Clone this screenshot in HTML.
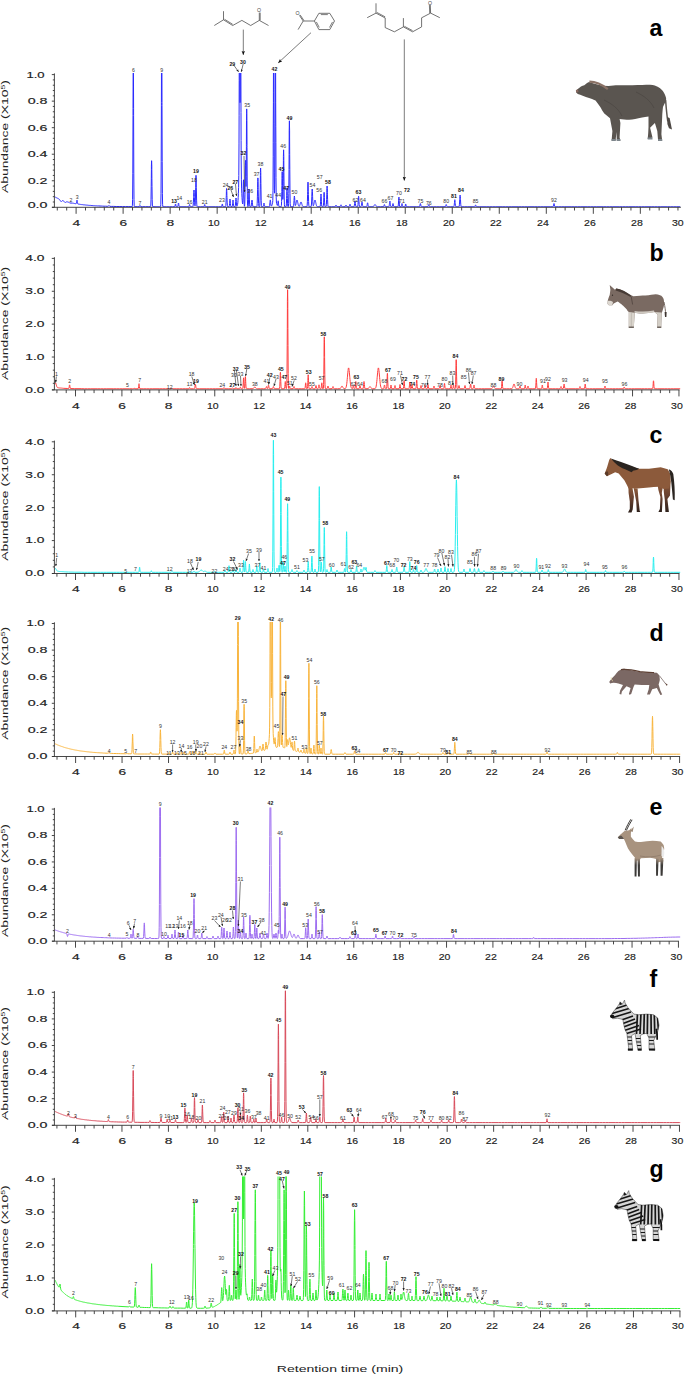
<!DOCTYPE html><html><head><meta charset="utf-8"><style>html,body{margin:0;padding:0;background:#fff;overflow:hidden;}svg{display:block;}text{font-family:'Liberation Sans',sans-serif}.ax{stroke:#222;stroke-width:0.15px;}</style></head><body>
<svg width="685" height="1374" viewBox="0 0 685 1374">
<rect width="685" height="1374" fill="#fff"/>
<defs><marker id="ah" viewBox="0 0 6 6" refX="5.6" refY="3" markerUnits="userSpaceOnUse" markerWidth="4.2" markerHeight="4.2" orient="auto"><path d="M0,0.6 L6,3 L0,5.4 L1.2,3 z" fill="#111"/></marker><marker id="ahs" viewBox="0 0 6 6" refX="5.6" refY="3" markerUnits="userSpaceOnUse" markerWidth="2.6" markerHeight="2.6" orient="auto"><path d="M0,0.5 L6,3 L0,5.5 z" fill="#222"/></marker></defs>
<clipPath id="cp0"><rect x="54.8" y="73.00" width="627" height="134.30"/></clipPath>
<path d="M55.0,197.0L55.2,197.1L55.4,197.2L55.6,197.3L55.8,197.4L56.0,197.5L56.2,197.6L56.4,197.7L56.6,197.8L56.8,197.9L57.0,198.0L57.2,198.1L57.4,198.2L57.6,198.3L57.8,198.4L58.0,198.5L58.2,198.6L58.4,198.7L58.6,198.8L58.8,198.9L59.0,199.0L59.2,199.2L59.4,199.4L59.6,199.6L59.8,199.9L60.0,200.2L60.2,200.5L60.4,200.8L60.6,201.1L60.8,201.4L61.0,201.5L61.2,201.5L61.4,201.5L61.6,201.3L61.8,201.1L62.0,200.9L62.2,200.8L62.4,200.7L62.6,200.6L63.0,200.7L63.2,200.7L63.4,200.9L63.6,201.0L63.8,201.2L64.0,201.5L64.2,201.7L64.4,202.0L64.6,202.2L64.8,202.4L65.0,202.5L65.2,202.5L65.4,202.5L65.6,202.4L65.8,202.2L66.0,202.1L66.2,202.0L66.4,201.9L66.8,201.8L67.4,201.9L67.6,201.9L67.8,202.0L68.0,202.1L68.2,202.1L68.4,202.2L68.6,202.3L68.8,202.4L69.0,202.5L69.2,202.6L69.4,202.7L69.6,202.9L69.8,202.9L70.0,203.0L72.4,203.1L72.8,203.2L73.2,203.2L73.6,203.3L74.0,203.4L74.4,203.5L74.8,203.5L75.2,203.6L75.6,203.7L76.0,203.7L76.2,203.6L76.4,203.2L76.6,202.2L76.7,201.6L76.8,200.8L76.8,200.5L77.0,200.1L77.2,200.6L77.2,200.8L77.3,201.6L77.4,202.3L77.6,203.4L77.8,203.9L78.0,204.0L78.4,204.1L78.8,204.2L79.2,204.2L79.6,204.3L80.0,204.4L80.4,204.4L80.8,204.5L81.2,204.5L81.6,204.6L82.2,204.6L82.8,204.7L83.4,204.8L84.0,204.8L84.6,204.9L85.2,205.0L85.8,205.0L86.4,205.1L87.0,205.1L87.6,205.2L88.2,205.3L88.8,205.3L89.6,205.4L90.4,205.4L91.2,205.5L92.0,205.5L92.8,205.6L93.6,205.7L94.6,205.7L95.6,205.8L96.6,205.8L97.6,205.9L98.8,205.9L100.0,206.0L101.2,206.0L102.6,206.1L104.0,206.2L105.6,206.2L107.2,206.3L108.0,206.3L108.2,206.2L108.4,206.1L108.6,205.8L108.6,205.8L108.8,205.6L108.8,205.6L109.0,205.5L109.2,205.6L109.2,205.6L109.4,205.8L109.4,205.9L109.6,206.1L109.8,206.3L110.0,206.3L111.2,206.4L113.6,206.4L116.2,206.5L119.2,206.5L122.4,206.6L125.6,206.6L128.8,206.6L132.0,206.7L132.2,206.6L132.4,205.7L132.6,199.5L132.8,173.8L133.0,115.4L133.0,108.4L133.2,63.6L133.2,54.6L133.3,44.6L133.4,54.6L133.4,63.6L133.6,108.4L133.6,115.4L133.8,173.8L134.0,199.6L134.2,205.8L134.4,206.6L134.6,206.7L137.8,206.7L139.2,206.7L139.4,206.5L139.6,206.2L139.7,206.0L139.8,205.7L139.8,205.6L140.0,205.5L140.2,205.6L140.2,205.7L140.3,206.0L140.4,206.2L140.6,206.5L140.8,206.7L142.4,206.7L145.6,206.7L148.8,206.7L150.4,206.7L150.6,206.5L150.8,205.1L151.0,199.7L151.2,186.7L151.3,178.8L151.4,169.4L151.4,166.1L151.6,160.7L151.8,166.1L151.8,169.4L151.9,178.8L152.0,186.7L152.2,199.7L152.4,205.1L152.6,206.5L152.8,206.7L156.0,206.8L159.2,206.8L160.4,206.7L160.6,206.5L160.8,204.3L161.0,193.7L161.2,161.4L161.4,105.6L161.4,102.4L161.5,59.6L161.6,48.5L161.7,40.0L161.8,48.5L161.9,59.6L162.0,102.4L162.0,105.6L162.2,161.4L162.4,193.7L162.6,204.3L162.8,206.5L163.0,206.8L166.2,206.8L169.4,206.8L172.6,206.8L174.6,206.7L174.8,206.6L175.0,206.0L175.2,205.1L175.2,205.0L175.3,204.3L175.4,204.1L175.5,204.0L175.6,204.1L175.7,204.3L175.8,205.0L175.8,205.1L176.0,206.0L176.2,206.6L176.4,206.7L177.6,206.7L177.8,206.5L178.0,205.8L178.2,204.5L178.2,204.4L178.3,203.4L178.4,203.2L178.5,203.0L178.6,203.2L178.7,203.4L178.8,204.4L178.8,204.5L179.0,205.8L179.2,206.5L179.4,206.7L179.8,206.8L183.0,206.8L186.2,206.8L188.6,206.8L188.8,206.7L189.0,206.4L189.2,205.8L189.3,205.4L189.4,204.9L189.4,204.8L189.6,204.5L189.8,204.8L189.8,204.9L189.9,205.4L190.0,205.8L190.2,206.4L190.4,206.7L190.6,206.8L192.6,206.8L192.8,206.7L193.0,206.3L193.2,205.1L193.4,202.2L193.6,197.4L193.6,196.6L193.8,192.3L193.8,192.0L194.0,190.0L194.2,192.0L194.2,192.3L194.4,196.6L194.4,197.4L194.6,202.2L194.8,205.1L195.0,205.9L195.2,204.7L195.4,200.1L195.6,191.0L195.7,187.7L195.8,180.3L195.8,179.0L196.0,175.3L196.2,179.0L196.2,180.3L196.3,187.7L196.4,191.0L196.6,200.1L196.8,204.8L197.0,206.4L197.2,206.7L197.4,206.8L200.6,206.8L203.8,206.8L204.0,206.6L204.2,206.2L204.4,205.4L204.4,205.4L204.5,204.8L204.6,204.6L204.7,204.5L204.8,204.6L204.9,204.8L205.0,205.4L205.0,205.4L205.2,206.2L205.4,206.6L205.6,206.8L208.8,206.8L212.0,206.8L215.2,206.8L218.4,206.8L221.4,206.8L221.6,206.6L221.8,206.0L222.0,205.1L222.0,205.0L222.1,204.3L222.2,204.1L222.3,204.0L222.4,204.1L222.5,204.3L222.6,205.0L222.6,205.1L222.8,206.0L223.0,206.6L223.2,206.8L225.4,206.8L225.6,206.6L225.8,205.6L226.0,202.9L226.2,197.6L226.3,195.7L226.4,191.4L226.4,190.7L226.6,188.5L226.8,190.6L226.8,191.4L226.9,195.7L227.0,197.6L227.2,202.9L227.4,205.6L227.6,206.6L227.8,206.8L229.0,206.8L229.2,206.5L229.4,205.6L229.6,203.4L229.7,202.1L229.8,200.5L229.8,199.9L230.0,199.0L230.2,199.9L230.2,200.5L230.3,202.1L230.4,203.4L230.6,205.6L230.8,206.5L231.0,206.8L232.0,206.8L232.2,206.6L232.4,205.8L232.6,203.8L232.7,202.7L232.8,201.3L232.8,200.8L233.0,200.0L233.2,200.8L233.2,201.3L233.3,202.7L233.4,203.8L233.6,205.8L233.8,206.6L234.0,206.8L235.0,206.8L235.2,206.5L235.4,205.4L235.6,203.0L235.7,201.5L235.8,199.6L235.8,199.0L236.0,198.0L236.2,199.0L236.2,199.6L236.3,201.4L236.4,202.9L236.6,205.3L236.8,206.2L237.0,206.3L237.2,205.9L237.4,205.3L237.6,204.3L237.8,202.8L238.0,200.5L238.2,197.5L238.4,193.3L238.6,187.5L238.8,175.5L239.0,143.9L239.1,115.8L239.2,80.6L239.2,73.1L239.4,25.2L239.4,15.2L239.5,2.5L239.6,9.3L239.6,16.9L239.8,55.6L239.8,61.5L240.0,102.7L240.1,102.4L240.2,86.9L240.3,54.1L240.4,30.1L240.5,14.7L240.6,-0.2L240.7,22.1L240.8,40.8L240.9,69.8L241.0,112.4L241.1,140.5L241.2,160.0L241.4,179.8L241.6,188.1L241.8,193.4L242.0,197.5L242.2,200.5L242.4,202.7L242.6,203.9L242.8,203.2L243.0,198.7L243.2,190.1L243.2,189.6L243.3,182.9L243.4,181.1L243.5,179.8L243.6,181.2L243.7,183.0L243.8,190.0L243.8,190.5L244.0,199.5L244.2,204.7L244.4,206.3L244.6,206.1L244.8,203.2L245.0,194.2L245.2,178.7L245.2,177.8L245.3,165.9L245.4,162.8L245.5,160.4L245.6,162.7L245.7,165.6L245.8,176.4L245.8,177.1L246.0,186.5L246.2,176.5L246.4,146.7L246.4,144.8L246.5,120.2L246.6,113.8L246.7,108.9L246.8,113.9L246.9,120.4L247.0,145.5L247.0,147.4L247.2,180.1L247.4,199.2L247.6,205.4L247.8,206.6L248.0,206.7L248.2,206.2L248.4,204.1L248.6,199.1L248.7,196.0L248.8,192.3L248.8,191.1L249.0,189.0L249.2,191.1L249.2,192.3L249.3,196.0L249.4,199.1L249.6,204.1L249.8,206.2L250.0,206.7L250.2,206.8L250.8,206.8L251.0,206.6L251.2,206.1L251.4,204.9L251.6,203.0L251.6,202.7L251.8,200.9L251.8,200.8L252.0,200.0L252.2,200.8L252.2,200.9L252.4,202.7L252.4,203.0L252.6,204.9L252.8,206.1L253.0,206.6L253.2,206.8L256.4,206.8L256.6,206.8L256.8,206.6L257.0,205.9L257.2,203.3L257.4,196.9L257.6,189.3L257.6,187.2L257.7,181.3L257.8,179.1L257.9,177.9L258.0,179.1L258.1,181.3L258.2,187.2L258.2,189.3L258.4,196.9L258.6,203.3L258.8,205.9L259.0,206.6L259.2,206.8L259.4,206.8L259.6,206.6L259.8,205.4L260.0,200.8L260.2,189.9L260.3,183.3L260.4,175.3L260.4,172.6L260.6,168.0L260.8,172.6L260.8,175.3L260.9,183.3L261.0,189.9L261.2,200.8L261.4,205.4L261.6,206.6L261.8,206.8L262.8,206.8L263.0,206.7L263.2,206.4L263.4,205.8L263.6,204.7L263.6,204.5L263.8,203.5L263.8,203.4L264.0,203.0L264.2,203.4L264.2,203.5L264.4,204.5L264.4,204.7L264.6,205.8L264.8,206.4L265.0,206.7L265.2,206.8L268.4,206.8L269.0,206.8L269.2,206.7L269.4,206.4L269.6,205.6L269.8,204.0L269.9,202.7L270.0,201.9L270.1,200.8L270.2,200.2L270.3,199.9L270.4,200.2L270.5,200.7L270.6,201.8L270.7,202.5L270.8,203.9L271.0,205.4L271.2,206.0L271.4,206.1L271.6,205.9L271.8,205.5L272.0,205.1L272.2,204.5L272.4,203.8L272.6,202.8L272.8,200.4L273.0,190.3L273.2,156.3L273.2,142.4L273.4,102.7L273.4,92.2L273.5,58.1L273.6,41.5L273.6,38.7L273.8,56.7L273.8,59.2L273.9,89.8L273.9,100.0L274.0,123.3L274.2,172.3L274.4,190.5L274.6,193.2L274.6,192.9L274.8,184.5L275.0,152.0L275.2,100.0L275.2,89.8L275.3,56.7L275.4,41.0L275.4,38.7L275.6,58.1L275.6,60.7L275.7,102.7L275.8,126.7L275.9,142.4L276.0,177.4L276.2,197.1L276.4,202.0L276.6,203.4L276.8,204.2L277.0,204.8L277.2,205.3L277.4,205.5L277.6,205.2L277.8,203.8L277.9,202.8L278.0,201.7L278.0,201.4L278.2,200.8L278.4,201.5L278.4,201.9L278.5,203.2L278.6,204.2L278.8,205.9L279.0,206.6L279.2,206.7L280.2,206.8L281.0,206.8L281.2,206.6L281.4,205.5L281.6,201.4L281.8,191.5L281.9,185.5L282.0,178.3L282.0,175.8L282.2,171.7L282.4,175.8L282.4,178.3L282.5,185.4L282.6,191.2L282.8,199.4L283.0,196.8L283.2,181.8L283.3,172.2L283.4,160.5L283.4,156.5L283.6,149.8L283.8,156.5L283.8,160.5L283.9,172.2L284.0,182.0L284.2,198.0L284.4,204.8L284.6,206.5L284.8,206.8L285.8,206.8L286.0,206.7L286.2,206.1L286.4,203.9L286.6,198.5L286.7,195.3L286.8,191.4L286.8,190.0L287.0,187.8L287.2,190.0L287.2,191.4L287.3,195.3L287.4,198.5L287.6,203.9L287.8,206.1L288.0,206.7L288.2,206.7L288.4,206.3L288.6,203.7L288.8,193.6L289.0,169.4L289.1,154.6L289.2,137.0L289.2,130.9L289.4,120.8L289.6,130.9L289.6,137.0L289.7,154.6L289.8,169.4L290.0,193.6L290.2,203.7L290.4,206.3L290.6,206.8L293.0,206.8L293.2,206.7L293.4,206.5L293.6,205.7L293.8,203.9L294.0,200.7L294.0,200.2L294.2,197.4L294.2,197.3L294.4,196.0L294.6,197.2L294.6,197.4L294.8,200.1L294.8,200.6L295.0,203.6L295.2,205.2L295.4,205.6L295.6,205.3L295.8,204.6L296.0,203.7L296.2,202.7L296.4,201.7L296.6,200.8L296.8,200.2L297.0,200.0L297.2,200.2L297.4,200.8L297.6,201.7L297.8,202.7L298.0,203.7L298.2,204.6L298.4,205.3L298.6,205.8L298.8,206.1L299.0,206.3L299.2,206.3L299.4,206.1L299.6,205.7L299.8,205.2L300.0,204.6L300.2,203.9L300.4,203.2L300.6,202.6L300.8,202.1L301.0,202.0L301.2,202.1L301.4,202.6L301.6,203.2L301.8,203.9L302.0,204.6L302.2,205.2L302.4,205.8L302.6,206.2L302.8,206.4L303.0,206.6L303.2,206.7L303.4,206.7L304.2,206.8L306.8,206.7L307.0,206.5L307.2,205.2L307.4,201.5L307.6,194.4L307.7,191.8L307.8,186.0L307.8,185.0L308.0,182.1L308.2,185.0L308.2,186.0L308.3,191.8L308.4,194.4L308.6,201.5L308.8,205.2L309.0,206.5L309.2,206.7L309.6,206.8L310.8,206.8L311.0,206.7L311.2,206.3L311.4,205.0L311.6,202.0L311.8,196.8L311.8,196.0L312.0,191.4L312.0,191.1L312.2,189.0L312.4,191.1L312.4,191.4L312.6,195.9L312.6,196.7L312.8,201.8L313.0,204.7L313.2,205.8L313.4,205.8L313.6,205.3L313.8,204.6L314.0,203.7L314.2,202.7L314.4,201.7L314.6,200.8L314.8,200.2L315.0,200.0L315.2,200.2L315.4,200.8L315.6,201.7L315.8,202.7L316.0,203.7L316.2,204.6L316.4,205.3L316.6,205.9L316.8,206.3L317.0,206.5L317.2,206.6L317.4,206.7L317.8,206.8L319.8,206.8L320.0,206.7L320.2,206.3L320.4,204.8L320.6,201.2L320.7,199.0L320.8,196.4L320.8,195.5L321.0,194.0L321.2,195.5L321.2,196.4L321.3,199.0L321.4,201.2L321.6,204.8L321.8,206.3L322.0,206.7L322.2,206.8L323.0,206.8L323.2,206.6L323.4,205.7L323.6,202.9L323.8,198.0L323.8,197.7L323.9,194.0L324.0,193.0L324.1,192.3L324.2,193.0L324.3,194.0L324.4,197.7L324.4,198.0L324.6,202.9L324.8,205.7L325.0,206.6L325.2,206.8L325.8,206.8L326.0,206.7L326.2,206.2L326.4,204.3L326.6,199.7L326.8,194.2L326.8,192.7L326.9,188.4L327.0,186.9L327.1,186.0L327.2,186.9L327.3,188.5L327.4,192.7L327.4,194.2L327.6,199.7L327.8,204.3L328.0,206.2L328.2,206.7L328.4,206.8L331.6,206.8L334.8,206.8L335.0,206.8L335.2,206.6L335.4,206.3L335.6,205.8L335.6,205.7L335.8,205.2L335.8,205.2L336.0,205.0L336.2,205.2L336.2,205.2L336.4,205.7L336.4,205.8L336.6,206.3L336.8,206.6L337.0,206.8L340.0,206.7L340.2,206.6L340.4,206.3L340.6,205.7L340.6,205.6L340.8,205.1L340.8,205.0L341.0,204.8L341.2,205.0L341.2,205.1L341.4,205.6L341.4,205.7L341.6,206.3L341.8,206.6L342.0,206.7L342.4,206.8L345.0,206.8L345.2,206.6L345.4,206.3L345.6,205.8L345.6,205.7L345.8,205.2L345.8,205.2L346.0,205.0L346.2,205.2L346.2,205.2L346.4,205.7L346.4,205.8L346.6,206.3L346.8,206.6L347.0,206.8L348.8,206.8L349.0,206.7L349.2,206.5L349.4,206.1L349.6,205.3L349.6,205.2L349.8,204.5L349.8,204.5L350.0,204.2L350.2,204.5L350.2,204.5L350.4,205.2L350.4,205.3L350.6,206.1L350.8,206.5L351.0,206.7L351.2,206.8L353.8,206.8L354.0,206.6L354.2,206.2L354.4,205.2L354.6,203.5L354.6,203.3L354.8,201.8L354.8,201.7L355.0,201.0L355.2,201.7L355.2,201.8L355.4,203.3L355.4,203.5L355.6,205.2L355.8,206.2L356.0,206.6L356.2,206.8L357.4,206.8L357.6,206.7L357.8,206.1L358.0,204.6L358.2,201.5L358.3,200.4L358.4,198.0L358.4,197.5L358.6,196.3L358.8,197.5L358.8,198.0L358.9,200.4L359.0,201.5L359.2,204.6L359.4,206.1L359.6,206.7L359.8,206.8L360.8,206.8L361.0,206.7L361.2,206.3L361.4,205.5L361.6,204.1L361.6,203.9L361.8,202.6L361.8,202.6L362.0,202.0L362.2,202.6L362.2,202.6L362.4,203.9L362.4,204.1L362.6,205.5L362.8,206.3L363.0,206.7L363.2,206.8L366.4,206.8L366.6,206.7L366.8,206.4L367.0,205.7L367.2,204.6L367.2,204.4L367.4,203.3L367.4,203.3L367.6,202.8L367.8,203.3L367.8,203.3L368.0,204.4L368.0,204.6L368.2,205.7L368.4,206.4L368.6,206.7L368.8,206.8L372.0,206.8L372.8,206.7L373.0,206.7L373.2,206.6L373.4,206.5L373.6,206.3L373.8,206.1L374.0,205.7L374.2,205.4L374.4,205.1L374.6,204.8L374.8,204.6L375.0,204.5L375.2,204.6L375.4,204.8L375.6,205.1L375.8,205.4L376.0,205.7L376.2,206.1L376.4,206.3L376.6,206.5L376.8,206.6L377.0,206.7L377.4,206.8L380.6,206.8L383.4,206.7L383.6,206.6L383.8,206.2L384.0,205.5L384.0,205.4L384.2,204.8L384.2,204.8L384.4,204.5L384.6,204.8L384.6,204.8L384.8,205.4L384.8,205.5L385.0,206.2L385.2,206.6L385.4,206.7L385.8,206.8L388.6,206.8L388.8,206.7L389.0,206.5L389.2,205.8L389.4,204.4L389.5,203.3L389.6,202.6L389.7,201.7L389.8,201.2L389.9,201.0L390.0,201.2L390.1,201.7L390.2,202.6L390.3,203.3L390.4,204.4L390.6,205.8L390.8,206.5L391.0,206.7L391.2,206.8L391.8,206.8L392.0,206.7L392.2,206.5L392.4,205.9L392.6,204.9L392.6,204.8L392.8,203.9L392.8,203.9L393.0,203.5L393.2,203.9L393.2,203.9L393.4,204.8L393.4,204.9L393.6,205.9L393.8,206.5L394.0,206.7L394.2,206.8L397.4,206.8L397.8,206.8L398.0,206.7L398.2,206.0L398.4,204.1L398.6,200.9L398.6,200.7L398.7,198.2L398.8,197.5L398.9,197.0L399.0,197.5L399.1,198.2L399.2,200.7L399.2,200.9L399.4,204.1L399.6,206.0L399.8,206.7L400.0,206.8L401.0,206.8L401.2,206.7L401.4,206.3L401.6,205.4L401.7,204.8L401.8,204.1L401.8,203.9L402.0,203.5L402.2,203.9L402.2,204.1L402.3,204.8L402.4,205.4L402.6,206.3L402.8,206.7L403.0,206.8L404.8,206.8L405.0,206.6L405.2,206.0L405.4,205.1L405.4,205.0L405.5,204.3L405.6,204.1L405.7,204.0L405.8,204.1L405.9,204.3L406.0,205.0L406.0,205.1L406.2,206.0L406.4,206.6L406.6,206.8L409.8,206.8L413.0,206.8L416.2,206.8L419.2,206.8L419.4,206.7L419.6,206.5L419.8,205.9L420.0,204.9L420.0,204.8L420.2,203.9L420.2,203.9L420.4,203.5L420.6,203.9L420.6,203.9L420.8,204.8L420.8,204.9L421.0,205.9L421.2,206.5L421.4,206.7L421.6,206.8L424.8,206.8L427.8,206.7L428.0,206.6L428.2,206.2L428.4,205.5L428.4,205.4L428.6,204.8L428.6,204.8L428.8,204.5L429.0,204.8L429.0,204.8L429.2,205.4L429.2,205.5L429.4,206.2L429.6,206.6L429.8,206.7L430.2,206.8L433.4,206.8L436.6,206.8L439.8,206.8L443.0,206.8L445.2,206.7L445.4,206.6L445.6,206.2L445.8,205.5L445.8,205.4L446.0,204.8L446.0,204.8L446.2,204.5L446.4,204.8L446.4,204.8L446.6,205.4L446.6,205.5L446.8,206.2L447.0,206.6L447.2,206.7L447.6,206.8L450.8,206.8L453.6,206.8L453.8,206.7L454.0,206.3L454.2,205.3L454.4,203.2L454.5,202.5L454.6,200.8L454.6,200.5L454.8,199.7L455.0,200.5L455.0,200.8L455.1,202.5L455.2,203.2L455.4,205.3L455.6,206.3L455.8,206.7L456.0,206.8L458.8,206.8L459.0,206.7L459.2,206.2L459.4,204.8L459.6,202.0L459.7,199.6L459.8,198.3L459.9,196.4L460.0,195.4L460.1,195.0L460.2,195.4L460.3,196.4L460.4,198.3L460.5,199.6L460.6,202.0L460.8,204.8L461.0,206.2L461.2,206.7L461.4,206.8L464.6,206.8L467.8,206.8L471.0,206.8L474.2,206.8L474.6,206.8L474.8,206.6L475.0,206.3L475.2,205.8L475.2,205.7L475.4,205.2L475.4,205.2L475.6,205.0L475.8,205.2L475.8,205.2L476.0,205.7L476.0,205.8L476.2,206.3L476.4,206.6L476.6,206.8L479.8,206.8L483.0,206.8L486.2,206.8L489.4,206.8L492.6,206.8L495.8,206.8L499.0,206.8L502.2,206.8L505.4,206.8L508.6,206.8L511.8,206.8L515.0,206.8L518.2,206.8L521.4,206.8L524.6,206.8L527.8,206.8L531.0,206.8L534.2,206.8L537.4,206.8L540.6,206.8L543.8,206.8L547.0,206.8L550.2,206.8L552.8,206.8L553.0,206.7L553.2,206.5L553.4,205.9L553.6,204.9L553.6,204.8L553.8,203.9L553.8,203.9L554.0,203.5L554.2,203.9L554.2,203.9L554.4,204.8L554.4,204.9L554.6,205.9L554.8,206.5L555.0,206.7L555.2,206.8L558.4,206.8L561.6,206.8L564.8,206.8L568.0,206.8L571.2,206.8L574.4,206.8L577.6,206.8L580.8,206.8L584.0,206.8L587.2,206.8L590.4,206.8L593.6,206.8L596.8,206.8L600.0,206.8L603.2,206.8L606.4,206.8L609.6,206.8L612.8,206.8L616.0,206.8L619.2,206.8L622.4,206.8L625.6,206.8L628.8,206.8L632.0,206.8L635.2,206.8L638.4,206.8L641.6,206.8L644.8,206.8L648.0,206.8L651.2,206.8L654.4,206.8L657.6,206.8L660.8,206.8L664.0,206.8L667.2,206.8L670.4,206.8L673.6,206.8L676.8,206.8L680.0,206.8L680.2,206.8" fill="none" stroke="#2a2aff" stroke-width="1.00" stroke-linejoin="round" clip-path="url(#cp0)"/>
<g stroke="#333" stroke-width="0.9" fill="none">
<path d="M54.4,73.40 V207.30 M52,207.30 H680.90"/>
<path d="M51.8,207.30H54.4M52.8,201.99H54.4M52.8,196.68H54.4M52.8,191.38H54.4M52.8,186.07H54.4M51.8,180.76H54.4M52.8,175.45H54.4M52.8,170.14H54.4M52.8,164.84H54.4M52.8,159.53H54.4M51.8,154.22H54.4M52.8,148.91H54.4M52.8,143.60H54.4M52.8,138.30H54.4M52.8,132.99H54.4M51.8,127.68H54.4M52.8,122.37H54.4M52.8,117.06H54.4M52.8,111.76H54.4M52.8,106.45H54.4M51.8,101.14H54.4M52.8,95.83H54.4M52.8,90.52H54.4M52.8,85.22H54.4M52.8,79.91H54.4M51.8,74.60H54.4"/>
<path d="M57.29,207.30V210.50M66.70,207.30V210.50M76.10,207.30V213.80M85.50,207.30V210.50M94.91,207.30V210.50M104.31,207.30V210.50M113.72,207.30V210.50M123.12,207.30V213.80M132.52,207.30V210.50M141.93,207.30V210.50M151.33,207.30V210.50M160.74,207.30V210.50M170.14,207.30V213.80M179.54,207.30V210.50M188.95,207.30V210.50M198.35,207.30V210.50M207.76,207.30V210.50M217.16,207.30V213.80M226.56,207.30V210.50M235.97,207.30V210.50M245.37,207.30V210.50M254.78,207.30V210.50M264.18,207.30V213.80M273.58,207.30V210.50M282.99,207.30V210.50M292.39,207.30V210.50M301.80,207.30V210.50M311.20,207.30V213.80M320.60,207.30V210.50M330.01,207.30V210.50M339.41,207.30V210.50M348.82,207.30V210.50M358.22,207.30V213.80M367.62,207.30V210.50M377.03,207.30V210.50M386.43,207.30V210.50M395.84,207.30V210.50M405.24,207.30V213.80M414.64,207.30V210.50M424.05,207.30V210.50M433.45,207.30V210.50M442.86,207.30V210.50M452.26,207.30V213.80M461.66,207.30V210.50M471.07,207.30V210.50M480.47,207.30V210.50M489.88,207.30V210.50M499.28,207.30V213.80M508.68,207.30V210.50M518.09,207.30V210.50M527.49,207.30V210.50M536.90,207.30V210.50M546.30,207.30V213.80M555.70,207.30V210.50M565.11,207.30V210.50M574.51,207.30V210.50M583.92,207.30V210.50M593.32,207.30V213.80M602.72,207.30V210.50M612.13,207.30V210.50M621.53,207.30V210.50M630.94,207.30V210.50M640.34,207.30V213.80M649.74,207.30V210.50M659.15,207.30V210.50M668.55,207.30V210.50M677.96,207.30V210.50"/>
</g>
<text x="27.70" y="207.70" font-size="8.20" text-anchor="start" font-weight="normal" fill="#222" textLength="19.80" lengthAdjust="spacingAndGlyphs" class="ax">0.0</text>
<text x="27.70" y="183.66" font-size="8.20" text-anchor="start" font-weight="normal" fill="#222" textLength="19.80" lengthAdjust="spacingAndGlyphs" class="ax">0.2</text>
<text x="27.70" y="157.12" font-size="8.20" text-anchor="start" font-weight="normal" fill="#222" textLength="19.80" lengthAdjust="spacingAndGlyphs" class="ax">0.4</text>
<text x="27.70" y="130.58" font-size="8.20" text-anchor="start" font-weight="normal" fill="#222" textLength="19.80" lengthAdjust="spacingAndGlyphs" class="ax">0.6</text>
<text x="27.70" y="104.04" font-size="8.20" text-anchor="start" font-weight="normal" fill="#222" textLength="19.80" lengthAdjust="spacingAndGlyphs" class="ax">0.8</text>
<text x="26.40" y="77.50" font-size="8.20" text-anchor="start" font-weight="normal" fill="#222" textLength="18.20" lengthAdjust="spacingAndGlyphs" class="ax">1.0</text>
<text x="72.55" y="225.70" font-size="8.80" text-anchor="start" font-weight="normal" fill="#222" textLength="7.70" lengthAdjust="spacingAndGlyphs" class="ax">4</text>
<text x="119.57" y="225.70" font-size="8.80" text-anchor="start" font-weight="normal" fill="#222" textLength="7.70" lengthAdjust="spacingAndGlyphs" class="ax">6</text>
<text x="166.59" y="225.70" font-size="8.80" text-anchor="start" font-weight="normal" fill="#222" textLength="7.70" lengthAdjust="spacingAndGlyphs" class="ax">8</text>
<text x="207.91" y="225.70" font-size="8.80" text-anchor="start" font-weight="normal" fill="#222" textLength="11.70" lengthAdjust="spacingAndGlyphs" class="ax">10</text>
<text x="254.93" y="225.70" font-size="8.80" text-anchor="start" font-weight="normal" fill="#222" textLength="11.70" lengthAdjust="spacingAndGlyphs" class="ax">12</text>
<text x="301.95" y="225.70" font-size="8.80" text-anchor="start" font-weight="normal" fill="#222" textLength="11.70" lengthAdjust="spacingAndGlyphs" class="ax">14</text>
<text x="348.97" y="225.70" font-size="8.80" text-anchor="start" font-weight="normal" fill="#222" textLength="11.70" lengthAdjust="spacingAndGlyphs" class="ax">16</text>
<text x="395.99" y="225.70" font-size="8.80" text-anchor="start" font-weight="normal" fill="#222" textLength="11.70" lengthAdjust="spacingAndGlyphs" class="ax">18</text>
<text x="443.01" y="225.70" font-size="8.80" text-anchor="start" font-weight="normal" fill="#222" textLength="11.70" lengthAdjust="spacingAndGlyphs" class="ax">20</text>
<text x="490.03" y="225.70" font-size="8.80" text-anchor="start" font-weight="normal" fill="#222" textLength="11.70" lengthAdjust="spacingAndGlyphs" class="ax">22</text>
<text x="537.05" y="225.70" font-size="8.80" text-anchor="start" font-weight="normal" fill="#222" textLength="11.70" lengthAdjust="spacingAndGlyphs" class="ax">24</text>
<text x="584.07" y="225.70" font-size="8.80" text-anchor="start" font-weight="normal" fill="#222" textLength="11.70" lengthAdjust="spacingAndGlyphs" class="ax">26</text>
<text x="631.09" y="225.70" font-size="8.80" text-anchor="start" font-weight="normal" fill="#222" textLength="11.70" lengthAdjust="spacingAndGlyphs" class="ax">28</text>
<text x="671.95" y="225.70" font-size="8.80" text-anchor="start" font-weight="normal" fill="#222" textLength="11.70" lengthAdjust="spacingAndGlyphs" class="ax">30</text>
<text transform="translate(8.4,136.60) rotate(-90)" x="0" y="0" font-size="8.9" text-anchor="middle" fill="#222" textLength="113" lengthAdjust="spacingAndGlyphs">Abundance (X10<tspan font-size="5.5" dy="-3">5</tspan><tspan dy="3">)</tspan></text>
<text x="649.50" y="35.50" font-size="23.20" text-anchor="start" font-weight="bold" fill="#000">a</text>
<text x="71.00" y="202.00" font-size="5.20" text-anchor="middle" font-weight="normal" fill="#333">2</text>
<text x="77.20" y="198.50" font-size="5.20" text-anchor="middle" font-weight="normal" fill="#333">3</text>
<text x="109.00" y="203.50" font-size="5.20" text-anchor="middle" font-weight="normal" fill="#333">4</text>
<text x="133.40" y="71.80" font-size="5.20" text-anchor="middle" font-weight="normal" fill="#333">6</text>
<text x="139.90" y="204.90" font-size="5.20" text-anchor="middle" font-weight="normal" fill="#333">7</text>
<text x="161.70" y="71.80" font-size="5.20" text-anchor="middle" font-weight="normal" fill="#333">9</text>
<text x="174.10" y="203.20" font-size="5.20" text-anchor="middle" font-weight="bold" fill="#111">13</text>
<text x="179.30" y="199.70" font-size="5.20" text-anchor="middle" font-weight="normal" fill="#333">14</text>
<text x="189.60" y="203.50" font-size="5.20" text-anchor="middle" font-weight="normal" fill="#333">16</text>
<text x="194.00" y="181.60" font-size="5.20" text-anchor="middle" font-weight="normal" fill="#333">18</text>
<text x="196.00" y="173.40" font-size="5.20" text-anchor="middle" font-weight="bold" fill="#111">19</text>
<text x="204.70" y="203.50" font-size="5.20" text-anchor="middle" font-weight="normal" fill="#333">21</text>
<text x="221.90" y="202.30" font-size="5.20" text-anchor="middle" font-weight="normal" fill="#333">23</text>
<text x="225.60" y="187.20" font-size="5.20" text-anchor="middle" font-weight="normal" fill="#333">24</text>
<text x="230.30" y="190.40" font-size="5.20" text-anchor="middle" font-weight="bold" fill="#111">26</text>
<text x="235.30" y="183.90" font-size="5.20" text-anchor="middle" font-weight="bold" fill="#111">27</text>
<text x="232.30" y="65.60" font-size="5.20" text-anchor="middle" font-weight="bold" fill="#111">29</text>
<text x="243.00" y="63.90" font-size="5.20" text-anchor="middle" font-weight="bold" fill="#111">30</text>
<text x="243.50" y="154.90" font-size="5.20" text-anchor="middle" font-weight="bold" fill="#111">32</text>
<text x="247.20" y="107.10" font-size="5.20" text-anchor="middle" font-weight="normal" fill="#333">35</text>
<text x="250.20" y="192.70" font-size="5.20" text-anchor="middle" font-weight="normal" fill="#333">36</text>
<text x="256.60" y="176.00" font-size="5.20" text-anchor="middle" font-weight="normal" fill="#333">37</text>
<text x="260.40" y="166.10" font-size="5.20" text-anchor="middle" font-weight="normal" fill="#333">38</text>
<text x="269.60" y="197.60" font-size="5.20" text-anchor="middle" font-weight="normal" fill="#333">41</text>
<text x="274.50" y="71.10" font-size="5.20" text-anchor="middle" font-weight="bold" fill="#111">42</text>
<text x="278.20" y="196.60" font-size="5.20" text-anchor="middle" font-weight="normal" fill="#333">44</text>
<text x="281.50" y="171.10" font-size="5.20" text-anchor="middle" font-weight="bold" fill="#111">45</text>
<text x="283.20" y="148.00" font-size="5.20" text-anchor="middle" font-weight="normal" fill="#333">46</text>
<text x="286.20" y="189.70" font-size="5.20" text-anchor="middle" font-weight="bold" fill="#111">47</text>
<text x="289.40" y="119.70" font-size="5.20" text-anchor="middle" font-weight="bold" fill="#111">49</text>
<text x="294.40" y="193.90" font-size="5.20" text-anchor="middle" font-weight="normal" fill="#333">50</text>
<text x="312.50" y="187.20" font-size="5.20" text-anchor="middle" font-weight="normal" fill="#333">54</text>
<text x="319.20" y="191.70" font-size="5.20" text-anchor="middle" font-weight="normal" fill="#333">56</text>
<text x="319.70" y="178.50" font-size="5.20" text-anchor="middle" font-weight="normal" fill="#333">57</text>
<text x="327.90" y="183.90" font-size="5.20" text-anchor="middle" font-weight="bold" fill="#111">58</text>
<text x="355.50" y="201.60" font-size="5.20" text-anchor="middle" font-weight="normal" fill="#333">62</text>
<text x="358.40" y="193.70" font-size="5.20" text-anchor="middle" font-weight="bold" fill="#111">63</text>
<text x="363.00" y="201.60" font-size="5.20" text-anchor="middle" font-weight="normal" fill="#333">64</text>
<text x="384.40" y="203.40" font-size="5.20" text-anchor="middle" font-weight="normal" fill="#333">66</text>
<text x="390.40" y="199.50" font-size="5.20" text-anchor="middle" font-weight="normal" fill="#333">67</text>
<text x="398.90" y="195.00" font-size="5.20" text-anchor="middle" font-weight="normal" fill="#333">70</text>
<text x="402.00" y="203.40" font-size="5.20" text-anchor="middle" font-weight="normal" fill="#333">71</text>
<text x="407.00" y="191.60" font-size="5.20" text-anchor="middle" font-weight="bold" fill="#111">72</text>
<text x="420.40" y="202.90" font-size="5.20" text-anchor="middle" font-weight="normal" fill="#333">75</text>
<text x="428.80" y="204.70" font-size="5.20" text-anchor="middle" font-weight="normal" fill="#333">76</text>
<text x="446.20" y="202.90" font-size="5.20" text-anchor="middle" font-weight="normal" fill="#333">80</text>
<text x="454.00" y="198.20" font-size="5.20" text-anchor="middle" font-weight="bold" fill="#111">81</text>
<text x="460.90" y="191.60" font-size="5.20" text-anchor="middle" font-weight="bold" fill="#111">84</text>
<text x="475.60" y="202.90" font-size="5.20" text-anchor="middle" font-weight="normal" fill="#333">85</text>
<text x="554.00" y="202.30" font-size="5.20" text-anchor="middle" font-weight="normal" fill="#333">92</text>
<path d="M233.80,65.20 L238.60,71.80" stroke="#222" stroke-width="0.6" marker-end="url(#ahs)"/>
<path d="M243.20,64.00 L241.30,71.80" stroke="#222" stroke-width="0.6" marker-end="url(#ahs)"/>
<path d="M235.50,184.00 L236.50,196.00" stroke="#222" stroke-width="0.6" marker-end="url(#ahs)"/>
<path d="M231.00,190.00 L233.50,197.00" stroke="#222" stroke-width="0.6" marker-end="url(#ahs)"/>
<path d="M244.00,156.00 L244.60,192.00" stroke="#222" stroke-width="0.6" marker-end="url(#ahs)"/>
<g>
<path d="M575.9,90.6 L577.8,89 C580,87 582,86 584.3,85.3 C586,84 587.5,82.5 589.1,82 C595,84 602,86 608.4,86.1 C612,85.7 615,85.3 618,85.3 C624,85.3 628,85.3 632.4,85.3 C640,85 645,84.8 650.1,84.8 C654,85 656,86 658.1,86.9 C661,88.5 662.8,90.5 663.8,92.5 C665.2,95 666,97 666.2,98.9 C666,102 664,104 663,106.9 C662.6,110 662.3,113 662.2,116.6 L661.4,134.2 L662.2,140.7 L658.1,140.7 L657.3,131 L654.9,123 L650.1,127.8 L652.5,137.4 L647.7,139 C648,135 648.5,131 648.5,127 L648.5,116.6 C646,117 644,117.2 642.1,117.4 C637,118.5 633,119.5 629.2,119.8 C626,119.8 622,119.5 619.6,119 L620.4,123 L619.6,137.4 L620.4,140.7 L616.8,140.7 L616.4,132 L615.6,140.7 L611.6,140.7 L612.4,131 L610,118.2 C608,116.5 606,115 604.3,113.4 C602.5,111 601.5,109 600.3,106.9 C598.5,104.5 597,102.5 595.5,100.5 C593,99.5 591,98.8 589.1,98.1 C587,97.5 584.8,96.5 582.7,95.7 C581,95.2 579.3,94.6 577.8,94.1 L576.2,92.5 Z" fill="#5a5550"/>
<path d="M604,100 C612,104 618,108 622,116 M636,92 C644,96 650,100 654,108" stroke="#4d4844" stroke-width="0.8" fill="none"/>
<path d="M665.6,100 C666.2,108 666.8,115 667.8,121.4" stroke="#5a5550" stroke-width="1.5" fill="none"/>
<path d="M667.2,117 L669.6,118 L672,129.4 L669,128.2 L667.4,124 Z" fill="#4e4945"/>
<path d="M589.4,81.6 C596,81.6 602.5,84.8 607.8,89.2" stroke="#8b7266" stroke-width="2.2" fill="none"/>
<path d="M611.6,139 L615.6,139 L615.6,140.9 L611.6,140.9 Z M616.8,139 L620.4,139 L620.4,140.9 L616.8,140.9 Z M647.7,137.6 L652.5,137.4 L652.5,139.4 L647.7,139.4 Z M658.1,139 L662.2,139 L662.2,140.9 L658.1,140.9 Z" fill="#7d868c"/>
<path d="M575.9,90.6 L577.8,89 L578.6,92 L576.2,92.5 Z" fill="#8a6a60"/>
</g>
<clipPath id="cp1"><rect x="54.8" y="256.80" width="627" height="133.10"/></clipPath>
<path d="M55.0,384.2L55.2,383.6L55.2,383.5L55.4,383.1L55.6,383.0L55.8,383.2L56.0,383.6L56.0,383.7L56.2,384.5L56.3,384.9L56.4,385.2L56.6,386.0L56.8,386.6L57.0,387.0L57.2,387.3L57.4,387.5L57.6,387.6L57.8,387.7L58.2,387.8L58.6,387.8L59.2,387.9L59.8,388.0L60.4,388.0L61.0,388.1L61.6,388.1L62.4,388.2L63.2,388.3L64.0,388.3L65.0,388.4L66.0,388.4L67.2,388.5L68.6,388.5L68.8,388.4L69.0,388.0L69.2,387.0L69.3,386.3L69.4,385.6L69.4,385.3L69.6,384.9L69.8,385.3L69.8,385.6L69.9,386.3L70.0,387.0L70.2,388.0L70.4,388.5L70.6,388.6L72.0,388.6L74.8,388.7L78.0,388.7L81.2,388.7L84.4,388.8L87.6,388.8L90.8,388.8L94.0,388.8L97.2,388.8L100.4,388.8L103.6,388.8L106.8,388.8L110.0,388.8L113.2,388.8L116.4,388.8L119.6,388.8L122.8,388.8L126.0,388.8L129.2,388.8L132.4,388.8L133.2,388.8L133.4,388.7L133.6,388.6L133.8,388.3L133.8,388.3L133.9,388.1L134.0,388.0L134.2,388.0L134.3,388.1L134.4,388.3L134.4,388.3L134.6,388.6L134.8,388.7L135.0,388.8L138.0,388.8L138.2,388.6L138.4,388.0L138.6,386.6L138.7,385.7L138.8,384.7L138.8,384.3L139.0,383.7L139.2,384.3L139.2,384.7L139.3,385.7L139.4,386.6L139.6,388.0L139.8,388.6L140.0,388.8L143.2,388.8L146.4,388.8L149.6,388.8L152.8,388.8L156.0,388.8L159.2,388.8L162.4,388.8L165.6,388.8L168.8,388.8L171.0,388.8L171.2,388.7L171.4,388.6L171.6,388.4L171.6,388.3L171.8,388.1L171.8,388.1L172.0,388.0L172.2,388.1L172.2,388.1L172.4,388.3L172.4,388.4L172.6,388.6L172.8,388.7L173.0,388.8L176.2,388.8L179.4,388.8L182.6,388.8L185.8,388.8L188.8,388.8L189.0,388.6L189.2,388.2L189.3,388.0L189.4,387.7L189.4,387.7L189.6,387.5L189.8,387.7L189.8,387.7L189.9,388.0L190.0,388.2L190.2,388.6L190.4,388.8L193.6,388.8L194.2,388.8L194.4,388.7L194.6,388.4L194.8,387.6L195.0,386.3L195.0,386.1L195.2,384.9L195.2,384.8L195.4,384.3L195.6,384.8L195.6,384.9L195.8,386.1L195.8,386.3L196.0,387.6L196.2,388.4L196.4,388.7L196.6,388.8L199.8,388.8L203.0,388.8L206.2,388.8L209.4,388.8L212.6,388.8L215.8,388.8L219.0,388.8L222.2,388.8L223.0,388.8L223.2,388.7L223.4,388.4L223.6,388.1L223.6,388.0L223.8,387.7L223.8,387.7L224.0,387.5L224.2,387.7L224.2,387.7L224.4,388.0L224.4,388.1L224.6,388.4L224.8,388.7L225.0,388.8L228.2,388.8L231.4,388.8L231.6,388.8L231.8,388.7L232.0,388.5L232.2,388.2L232.2,388.2L232.3,387.9L232.4,387.9L232.5,387.8L232.6,387.9L232.7,387.9L232.8,388.2L232.8,388.2L233.0,388.5L233.2,388.7L233.4,388.8L235.2,388.8L235.4,388.6L235.6,388.2L235.7,388.0L235.8,387.7L235.8,387.7L236.0,387.5L236.2,387.7L236.2,387.7L236.3,388.0L236.4,388.2L236.6,388.6L236.8,388.8L239.4,388.8L239.6,388.7L239.8,388.5L240.0,388.0L240.1,387.7L240.2,387.3L240.2,387.2L240.4,387.0L240.6,387.2L240.6,387.3L240.7,387.7L240.8,388.0L241.0,388.5L241.2,388.7L241.4,388.8L242.4,388.8L242.6,388.7L242.8,388.4L243.0,387.1L243.2,384.0L243.3,382.1L243.4,379.9L243.4,379.1L243.6,377.8L243.8,379.1L243.8,379.9L243.9,382.1L244.0,384.0L244.2,387.1L244.4,388.3L244.6,388.3L244.8,386.9L245.0,383.5L245.1,381.4L245.2,378.9L245.2,378.0L245.4,376.6L245.6,378.0L245.6,378.9L245.7,381.4L245.8,383.5L246.0,386.9L246.2,388.4L246.4,388.7L246.6,388.8L249.8,388.8L252.8,388.7L253.0,388.7L253.2,388.6L253.4,388.4L253.6,388.2L253.8,388.0L254.0,387.7L254.2,387.4L254.4,387.2L254.6,387.1L254.8,387.0L255.0,387.1L255.2,387.2L255.4,387.4L255.6,387.7L255.8,388.0L256.0,388.2L256.2,388.4L256.4,388.6L256.6,388.7L256.8,388.7L257.2,388.8L260.4,388.8L263.6,388.8L265.4,388.8L265.6,388.7L265.8,388.4L266.0,387.9L266.1,387.4L266.2,387.1L266.3,386.8L266.4,386.6L266.5,386.5L266.6,386.6L266.7,386.8L266.8,387.1L266.9,387.4L267.0,387.9L267.2,388.4L267.4,388.6L267.6,388.6L267.8,388.2L268.0,387.3L268.1,386.6L268.2,386.2L268.3,385.6L268.4,385.3L268.5,385.2L268.6,385.3L268.7,385.6L268.8,386.2L268.9,386.6L269.0,387.3L269.2,388.2L269.4,388.6L269.6,388.8L272.4,388.7L272.6,388.6L272.8,388.2L273.0,387.5L273.0,387.4L273.2,386.8L273.2,386.8L273.4,386.5L273.6,386.8L273.6,386.8L273.8,387.4L273.8,387.5L274.0,388.2L274.2,388.6L274.4,388.7L274.8,388.8L278.0,388.8L279.2,388.8L279.4,388.7L279.6,388.2L279.8,386.3L280.0,381.6L280.1,378.8L280.2,375.4L280.2,374.2L280.4,372.3L280.6,374.2L280.6,375.4L280.7,378.8L280.8,381.6L281.0,386.3L281.2,388.2L281.4,388.7L281.6,388.8L284.2,388.8L284.4,388.7L284.6,388.2L284.8,386.8L285.0,384.4L285.0,384.2L285.1,382.4L285.2,381.9L285.3,381.5L285.4,381.9L285.5,382.4L285.6,384.2L285.6,384.4L285.8,386.8L286.0,388.2L286.2,388.7L286.4,388.7L286.6,388.3L286.8,385.3L287.0,373.6L287.2,345.7L287.3,328.7L287.4,308.3L287.4,301.3L287.6,289.7L287.8,301.3L287.8,308.3L287.9,328.7L288.0,345.7L288.2,373.6L288.4,385.3L288.6,388.2L288.8,388.6L289.0,388.4L289.2,387.6L289.3,387.1L289.4,386.5L289.4,386.3L289.6,386.0L289.8,386.3L289.8,386.5L289.9,387.1L290.0,387.6L290.2,388.4L290.4,388.7L290.6,388.8L293.0,388.7L293.2,388.6L293.4,388.2L293.6,387.5L293.6,387.4L293.8,386.8L293.8,386.8L294.0,386.5L294.2,386.8L294.2,386.8L294.4,387.4L294.4,387.5L294.6,388.2L294.8,388.6L295.0,388.7L295.4,388.8L298.6,388.8L301.8,388.8L304.6,388.8L304.8,388.7L305.0,388.3L305.2,387.2L305.4,385.2L305.4,385.0L305.5,383.5L305.6,383.1L305.7,382.8L305.8,383.1L305.9,383.5L306.0,385.0L306.0,385.2L306.2,387.2L306.4,388.3L306.6,388.7L306.8,388.8L307.0,388.8L307.2,388.7L307.4,388.3L307.6,386.6L307.8,382.7L307.9,380.3L308.0,377.4L308.0,376.4L308.2,374.8L308.4,376.4L308.4,377.4L308.5,380.3L308.6,382.7L308.8,386.6L309.0,388.3L309.2,388.7L309.4,388.8L311.0,388.7L311.2,388.6L311.4,388.2L311.6,387.5L311.6,387.4L311.8,386.8L311.8,386.8L312.0,386.5L312.2,386.8L312.2,386.8L312.4,387.4L312.4,387.5L312.6,388.2L312.8,388.6L313.0,388.7L313.4,388.8L314.8,388.8L315.0,388.7L315.2,388.5L315.4,387.9L315.6,386.9L315.6,386.8L315.8,385.9L315.8,385.9L316.0,385.5L316.2,385.9L316.2,385.9L316.4,386.8L316.4,386.9L316.6,387.9L316.8,388.5L317.0,388.7L317.2,388.8L317.8,388.8L318.0,388.7L318.2,388.4L318.4,387.7L318.6,386.6L318.6,386.4L318.8,385.3L318.8,385.3L319.0,384.8L319.2,385.3L319.2,385.3L319.4,386.4L319.4,386.6L319.6,387.7L319.8,388.4L320.0,388.7L320.2,388.8L320.8,388.8L321.0,388.6L321.2,387.9L321.4,386.2L321.5,385.2L321.6,383.9L321.6,383.5L321.8,382.8L322.0,383.5L322.0,383.9L322.1,385.2L322.2,386.2L322.4,387.9L322.6,388.6L322.8,388.8L323.0,388.8L323.2,388.7L323.4,388.0L323.6,384.7L323.8,374.6L324.0,357.3L324.0,356.2L324.1,342.9L324.2,339.4L324.3,336.8L324.4,339.4L324.5,342.9L324.6,356.2L324.6,357.3L324.8,374.6L325.0,384.7L325.2,388.0L325.4,388.7L325.6,388.8L326.8,388.8L327.0,388.7L327.2,388.5L327.4,388.0L327.6,387.2L327.6,387.1L327.8,386.4L327.8,386.3L328.0,386.0L328.2,386.3L328.2,386.4L328.4,387.1L328.4,387.2L328.6,388.0L328.8,388.5L329.0,388.7L329.2,388.8L332.0,388.7L332.2,388.6L332.4,388.2L332.6,387.5L332.6,387.4L332.8,386.8L332.8,386.8L333.0,386.5L333.2,386.8L333.2,386.8L333.4,387.4L333.4,387.5L333.6,388.2L333.8,388.6L334.0,388.7L334.4,388.8L337.6,388.8L339.8,388.7L340.0,388.7L340.2,388.6L340.4,388.4L340.6,388.2L340.8,387.9L341.0,387.5L341.2,387.1L341.4,386.7L341.6,386.3L341.8,386.1L342.0,386.0L342.2,386.1L342.4,386.3L342.6,386.7L342.8,387.1L343.0,387.5L343.2,387.9L343.4,388.2L343.6,388.4L343.8,388.6L344.0,388.7L344.2,388.7L345.0,388.7L345.2,388.6L345.4,388.5L345.6,388.3L345.8,388.0L346.0,387.5L346.2,386.9L346.4,386.0L346.6,384.8L346.8,383.3L347.0,381.5L347.2,379.5L347.4,377.3L347.5,376.1L347.6,375.0L347.8,372.8L348.0,370.8L348.1,370.4L348.2,369.2L348.4,368.2L348.6,367.9L348.8,368.2L349.0,369.2L349.1,370.4L349.2,370.8L349.4,372.8L349.6,375.0L349.7,376.1L349.8,377.3L350.0,379.5L350.2,381.5L350.4,383.3L350.6,384.8L350.8,386.0L351.0,386.9L351.2,387.5L351.4,388.0L351.6,388.3L351.8,388.5L352.0,388.6L352.2,388.7L352.4,388.6L352.6,388.2L352.8,387.4L352.9,386.8L353.0,386.4L353.1,385.9L353.2,385.6L353.3,385.5L353.4,385.6L353.5,385.9L353.6,386.4L353.7,386.8L353.8,387.5L354.0,388.2L354.2,388.6L354.4,388.8L354.8,388.8L355.0,388.5L355.2,387.7L355.4,385.6L355.5,384.4L355.6,382.9L355.6,382.4L355.8,381.5L356.0,382.4L356.0,382.9L356.1,384.4L356.2,385.6L356.4,387.7L356.6,388.5L356.8,388.8L358.8,388.8L359.0,388.7L359.2,388.5L359.4,387.9L359.6,386.9L359.6,386.8L359.8,385.9L359.8,385.9L360.0,385.5L360.2,385.9L360.2,385.9L360.4,386.8L360.4,386.9L360.6,387.9L360.8,388.5L361.0,388.7L361.2,388.8L362.8,388.8L363.0,388.6L363.2,388.1L363.4,386.8L363.6,384.7L363.6,384.4L363.8,382.5L363.8,382.4L364.0,381.5L364.2,382.4L364.2,382.5L364.4,384.4L364.4,384.7L364.6,386.8L364.8,388.1L365.0,388.6L365.2,388.8L368.0,388.7L368.2,388.6L368.4,388.5L368.6,388.3L368.8,388.1L369.0,387.7L369.2,387.4L369.4,387.1L369.6,386.8L369.8,386.6L370.0,386.5L370.2,386.6L370.4,386.8L370.6,387.1L370.8,387.4L371.0,387.7L371.2,388.1L371.4,388.3L371.6,388.5L371.8,388.6L372.0,388.7L372.4,388.8L374.8,388.7L375.0,388.6L375.2,388.5L375.4,388.3L375.6,388.0L375.8,387.5L376.0,386.9L376.2,386.0L376.4,384.8L376.6,383.3L376.8,381.5L377.0,379.5L377.2,377.3L377.3,376.1L377.4,375.0L377.6,372.8L377.8,370.8L377.9,370.4L378.0,369.2L378.2,368.2L378.4,367.9L378.6,368.2L378.8,369.2L378.9,370.4L379.0,370.8L379.2,372.8L379.4,375.0L379.5,376.1L379.6,377.3L379.8,379.5L380.0,381.5L380.2,383.3L380.4,384.8L380.6,386.0L380.8,386.9L381.0,387.5L381.2,388.0L381.4,388.3L381.6,388.5L381.8,388.6L382.0,388.7L382.4,388.8L383.4,388.8L383.6,388.6L383.8,388.2L384.0,387.3L384.1,386.5L384.2,386.1L384.3,385.4L384.4,385.1L384.5,385.0L384.6,385.1L384.7,385.4L384.8,386.1L384.9,386.5L385.0,387.3L385.2,388.2L385.4,388.6L385.6,388.8L386.2,388.8L386.4,388.7L386.6,388.2L386.8,386.4L387.0,382.1L387.1,379.4L387.2,376.2L387.2,375.1L387.4,373.3L387.6,375.1L387.6,376.2L387.7,379.4L387.8,382.1L388.0,386.4L388.2,388.2L388.4,388.7L388.6,388.8L390.0,388.8L390.2,388.7L390.4,388.2L390.6,387.1L390.7,386.5L390.8,385.7L390.8,385.4L391.0,385.0L391.2,385.4L391.2,385.7L391.3,386.5L391.4,387.1L391.6,388.2L391.8,388.7L392.0,388.8L394.0,388.8L394.2,388.7L394.4,388.3L394.6,387.4L394.7,386.8L394.8,386.1L394.8,385.9L395.0,385.5L395.2,385.9L395.2,386.1L395.3,386.8L395.4,387.4L395.6,388.3L395.8,388.7L396.0,388.8L399.0,388.8L399.2,388.6L399.4,388.1L399.6,386.9L399.7,386.2L399.8,385.3L399.8,385.0L400.0,384.5L400.2,385.0L400.2,385.3L400.3,386.2L400.4,386.9L400.6,388.1L400.8,388.6L401.0,388.8L403.0,388.8L403.2,388.7L403.4,388.2L403.6,386.6L403.8,383.9L403.8,383.8L403.9,381.7L404.0,381.2L404.1,380.8L404.2,381.2L404.3,381.7L404.4,383.8L404.4,383.9L404.6,386.6L404.8,388.2L405.0,388.7L405.2,388.8L408.4,388.8L408.8,388.8L409.0,388.6L409.2,387.8L409.4,385.8L409.5,384.7L409.6,383.3L409.6,382.8L409.8,382.0L410.0,382.8L410.0,383.3L410.1,384.7L410.2,385.8L410.4,387.8L410.6,388.6L410.8,388.8L411.0,388.8L411.2,388.6L411.4,388.1L411.6,386.9L411.7,386.2L411.8,385.3L411.8,385.0L412.0,384.5L412.2,385.0L412.2,385.3L412.3,386.2L412.4,386.9L412.6,388.1L412.8,388.6L413.0,388.8L415.6,388.8L415.8,388.7L416.0,388.1L416.2,386.4L416.4,383.5L416.4,383.3L416.5,381.0L416.6,380.4L416.7,380.0L416.8,380.4L416.9,381.0L417.0,383.3L417.0,383.5L417.2,386.4L417.4,388.1L417.6,388.7L417.8,388.8L420.0,388.8L420.2,388.7L420.4,388.3L420.6,387.4L420.7,386.8L420.8,386.1L420.8,385.9L421.0,385.5L421.2,385.9L421.2,386.1L421.3,386.8L421.4,387.4L421.6,388.3L421.8,388.7L422.0,388.8L423.8,388.8L424.0,388.7L424.2,388.4L424.4,387.8L424.6,386.7L424.6,386.5L424.8,385.5L424.8,385.4L425.0,385.0L425.2,385.4L425.2,385.5L425.4,386.5L425.4,386.7L425.6,387.8L425.8,388.4L426.0,388.7L426.2,388.8L427.0,388.8L427.2,388.6L427.4,388.1L427.6,386.9L427.7,386.2L427.8,385.3L427.8,385.0L428.0,384.5L428.2,385.0L428.2,385.3L428.3,386.2L428.4,386.9L428.6,388.1L428.8,388.6L429.0,388.8L432.2,388.8L433.0,388.8L433.2,388.7L433.4,388.4L433.6,387.6L433.7,387.1L433.8,386.5L433.8,386.3L434.0,386.0L434.2,386.3L434.2,386.5L434.3,387.1L434.4,387.6L434.6,388.4L434.8,388.7L435.0,388.8L438.2,388.8L438.8,388.8L439.0,388.7L439.2,388.5L439.4,387.9L439.6,386.9L439.6,386.8L439.8,385.9L439.8,385.9L440.0,385.5L440.2,385.9L440.2,385.9L440.4,386.8L440.4,386.9L440.6,387.9L440.8,388.5L441.0,388.7L441.2,388.8L443.4,388.8L443.6,388.7L443.8,388.4L444.0,387.3L444.2,385.5L444.2,385.4L444.3,383.9L444.4,383.6L444.5,383.3L444.6,383.6L444.7,383.9L444.8,385.4L444.8,385.5L445.0,387.3L445.2,388.4L445.4,388.7L445.6,388.8L448.8,388.8L450.0,388.8L450.2,388.7L450.4,388.2L450.6,387.1L450.7,386.5L450.8,385.7L450.8,385.4L451.0,385.0L451.2,385.4L451.2,385.7L451.3,386.5L451.4,387.1L451.6,388.2L451.8,388.7L452.0,388.8L452.6,388.7L452.8,388.5L453.0,387.8L453.2,386.5L453.2,386.4L453.3,385.4L453.4,385.2L453.5,385.0L453.6,385.2L453.7,385.4L453.8,386.4L453.8,386.5L454.0,387.8L454.2,388.5L454.4,388.7L454.8,388.8L455.0,388.8L455.2,388.6L455.4,387.8L455.6,384.3L455.8,376.1L455.9,371.1L456.0,365.2L456.0,363.1L456.2,359.7L456.4,363.1L456.4,365.2L456.5,371.1L456.6,376.1L456.8,384.3L457.0,387.8L457.2,388.6L457.4,388.8L457.8,388.8L458.0,388.7L458.2,388.5L458.4,387.9L458.6,386.9L458.6,386.8L458.8,385.9L458.8,385.9L459.0,385.5L459.2,385.9L459.2,385.9L459.4,386.8L459.4,386.9L459.6,387.9L459.8,388.5L460.0,388.7L460.2,388.8L463.4,388.8L463.8,388.8L464.0,388.7L464.2,388.5L464.4,387.9L464.6,386.9L464.6,386.8L464.8,385.9L464.8,385.9L465.0,385.5L465.2,385.9L465.2,385.9L465.4,386.8L465.4,386.9L465.6,387.9L465.8,388.5L466.0,388.7L466.2,388.8L469.4,388.8L469.6,388.7L469.8,388.3L470.0,387.5L470.2,386.1L470.2,385.9L470.4,384.6L470.4,384.6L470.6,384.0L470.8,384.6L470.8,384.6L471.0,385.9L471.0,386.1L471.2,387.5L471.4,388.3L471.6,388.7L471.8,388.8L472.8,388.8L473.0,388.7L473.2,388.4L473.4,387.8L473.6,386.7L473.6,386.5L473.8,385.5L473.8,385.4L474.0,385.0L474.2,385.4L474.2,385.5L474.4,386.5L474.4,386.7L474.6,387.8L474.8,388.4L475.0,388.7L475.2,388.8L478.4,388.8L481.6,388.8L484.8,388.8L488.0,388.8L491.2,388.8L491.4,388.7L491.6,388.7L491.8,388.6L492.0,388.4L492.2,388.2L492.4,387.9L492.6,387.6L492.7,387.4L492.8,387.2L493.0,386.9L493.1,386.8L493.2,386.7L493.4,386.5L493.6,386.5L493.8,386.7L493.9,386.8L494.0,386.9L494.2,387.2L494.3,387.4L494.4,387.6L494.6,387.9L494.8,388.2L495.0,388.4L495.2,388.6L495.4,388.7L495.6,388.7L496.0,388.8L499.2,388.8L501.0,388.8L501.2,388.7L501.4,388.2L501.6,386.6L501.8,383.9L501.8,383.8L501.9,381.7L502.0,381.2L502.1,380.8L502.2,381.2L502.3,381.7L502.4,383.8L502.4,383.9L502.6,386.6L502.8,388.2L503.0,388.7L503.2,388.8L506.4,388.8L509.6,388.8L511.6,388.7L511.8,388.7L512.0,388.6L512.2,388.4L512.4,388.2L512.6,387.8L512.8,387.2L513.0,386.6L513.2,385.9L513.4,385.2L513.6,384.6L513.8,384.1L514.0,384.0L514.2,384.1L514.4,384.6L514.6,385.2L514.8,385.9L515.0,386.6L515.2,387.2L515.4,387.8L515.6,388.2L515.8,388.4L516.0,388.6L516.2,388.7L516.4,388.7L517.2,388.8L518.8,388.8L519.0,388.7L519.2,388.5L519.4,388.0L519.6,387.2L519.6,387.1L519.8,386.4L519.8,386.3L520.0,386.0L520.2,386.3L520.2,386.4L520.4,387.1L520.4,387.2L520.6,388.0L520.8,388.5L521.0,388.7L521.2,388.8L524.2,388.8L524.4,388.7L524.6,388.2L524.8,387.1L524.9,386.5L525.0,385.7L525.0,385.4L525.2,385.0L525.4,385.4L525.4,385.7L525.5,386.5L525.6,387.1L525.8,388.2L526.0,388.7L526.2,388.8L527.0,388.8L527.2,388.7L527.4,388.4L527.6,387.6L527.7,387.1L527.8,386.5L527.8,386.3L528.0,386.0L528.2,386.3L528.2,386.5L528.3,387.1L528.4,387.6L528.6,388.4L528.8,388.7L529.0,388.8L532.2,388.8L535.2,388.8L535.4,388.6L535.6,388.0L535.8,385.9L536.0,382.4L536.0,382.2L536.1,379.5L536.2,378.8L536.3,378.3L536.4,378.8L536.5,379.5L536.6,382.2L536.6,382.4L536.8,385.9L537.0,388.0L537.2,388.6L537.4,388.8L540.6,388.8L541.4,388.7L541.6,388.5L541.8,387.8L542.0,386.5L542.0,386.4L542.1,385.4L542.2,385.2L542.3,385.0L542.4,385.2L542.5,385.4L542.6,386.4L542.6,386.5L542.8,387.8L543.0,388.5L543.2,388.7L543.6,388.8L546.8,388.8L547.0,388.8L547.2,388.6L547.4,387.8L547.6,385.8L547.7,384.7L547.8,383.3L547.8,382.8L548.0,382.0L548.2,382.8L548.2,383.3L548.3,384.7L548.4,385.8L548.6,387.8L548.8,388.6L549.0,388.8L552.2,388.8L555.4,388.8L558.6,388.8L560.0,388.8L560.2,388.7L560.4,388.4L560.6,387.8L560.7,387.4L560.8,386.9L560.8,386.8L561.0,386.5L561.2,386.8L561.2,386.9L561.3,387.4L561.4,387.8L561.6,388.4L561.8,388.7L562.0,388.8L563.0,388.7L563.2,388.5L563.4,388.0L563.6,386.9L563.7,385.9L563.8,385.3L563.9,384.6L564.0,384.2L564.1,384.0L564.2,384.2L564.3,384.6L564.4,385.3L564.5,385.9L564.6,386.9L564.8,388.0L565.0,388.5L565.2,388.7L565.6,388.8L568.8,388.8L572.0,388.8L575.2,388.8L578.4,388.8L579.0,388.8L579.2,388.7L579.4,388.4L579.6,387.8L579.7,387.4L579.8,386.9L579.8,386.8L580.0,386.5L580.2,386.8L580.2,386.9L580.3,387.4L580.4,387.8L580.6,388.4L580.8,388.7L581.0,388.8L584.2,388.8L584.4,388.6L584.6,388.1L584.8,386.7L584.9,385.9L585.0,384.9L585.0,384.6L585.2,384.0L585.4,384.6L585.4,384.9L585.5,385.9L585.6,386.7L585.8,388.1L586.0,388.6L586.2,388.8L589.4,388.8L592.6,388.8L595.8,388.8L599.0,388.8L602.2,388.8L604.0,388.8L604.2,388.7L604.4,388.4L604.6,387.6L604.7,387.1L604.8,386.5L604.8,386.3L605.0,386.0L605.2,386.3L605.2,386.5L605.3,387.1L605.4,387.6L605.6,388.4L605.8,388.7L606.0,388.8L609.2,388.8L612.4,388.8L615.6,388.8L618.8,388.8L622.0,388.8L623.2,388.8L623.4,388.6L623.6,388.3L623.8,387.8L623.8,387.7L624.0,387.2L624.0,387.2L624.2,387.0L624.4,387.2L624.4,387.2L624.6,387.7L624.6,387.8L624.8,388.3L625.0,388.6L625.2,388.8L628.4,388.8L631.6,388.8L634.8,388.8L638.0,388.8L641.2,388.8L644.4,388.8L647.6,388.8L650.8,388.8L652.4,388.8L652.6,388.7L652.8,388.2L653.0,386.6L653.2,383.9L653.2,383.8L653.3,381.7L653.4,381.2L653.5,380.8L653.6,381.2L653.7,381.7L653.8,383.8L653.8,383.9L654.0,386.6L654.2,388.2L654.4,388.7L654.6,388.8L657.8,388.8L661.0,388.8L664.2,388.8L667.4,388.8L670.6,388.8L673.8,388.8L677.0,388.8L680.2,388.8" fill="none" stroke="#ff3c3c" stroke-width="1.00" stroke-linejoin="round" clip-path="url(#cp1)"/>
<g stroke="#333" stroke-width="0.9" fill="none">
<path d="M54.4,257.20 V389.90 M52,389.90 H679.46"/>
<path d="M51.8,389.90H54.4M52.8,383.32H54.4M52.8,376.75H54.4M52.8,370.17H54.4M52.8,363.60H54.4M51.8,357.02H54.4M52.8,350.45H54.4M52.8,343.88H54.4M52.8,337.30H54.4M52.8,330.72H54.4M51.8,324.15H54.4M52.8,317.57H54.4M52.8,311.00H54.4M52.8,304.42H54.4M52.8,297.85H54.4M51.8,291.27H54.4M52.8,284.70H54.4M52.8,278.12H54.4M52.8,271.55H54.4M52.8,264.97H54.4M51.8,258.40H54.4"/>
<path d="M56.93,389.90V393.10M66.22,389.90V393.10M75.50,389.90V396.40M84.78,389.90V393.10M94.07,389.90V393.10M103.35,389.90V393.10M112.64,389.90V393.10M121.92,389.90V396.40M131.20,389.90V393.10M140.49,389.90V393.10M149.77,389.90V393.10M159.06,389.90V393.10M168.34,389.90V396.40M177.62,389.90V393.10M186.91,389.90V393.10M196.19,389.90V393.10M205.48,389.90V393.10M214.76,389.90V396.40M224.04,389.90V393.10M233.33,389.90V393.10M242.61,389.90V393.10M251.90,389.90V393.10M261.18,389.90V396.40M270.46,389.90V393.10M279.75,389.90V393.10M289.03,389.90V393.10M298.32,389.90V393.10M307.60,389.90V396.40M316.88,389.90V393.10M326.17,389.90V393.10M335.45,389.90V393.10M344.74,389.90V393.10M354.02,389.90V396.40M363.30,389.90V393.10M372.59,389.90V393.10M381.87,389.90V393.10M391.16,389.90V393.10M400.44,389.90V396.40M409.72,389.90V393.10M419.01,389.90V393.10M428.29,389.90V393.10M437.58,389.90V393.10M446.86,389.90V396.40M456.14,389.90V393.10M465.43,389.90V393.10M474.71,389.90V393.10M484.00,389.90V393.10M493.28,389.90V396.40M502.56,389.90V393.10M511.85,389.90V393.10M521.13,389.90V393.10M530.42,389.90V393.10M539.70,389.90V396.40M548.98,389.90V393.10M558.27,389.90V393.10M567.55,389.90V393.10M576.84,389.90V393.10M586.12,389.90V396.40M595.40,389.90V393.10M604.69,389.90V393.10M613.97,389.90V393.10M623.26,389.90V393.10M632.54,389.90V396.40M641.82,389.90V393.10M651.11,389.90V393.10M660.39,389.90V393.10M669.68,389.90V393.10M678.96,389.90V396.40"/>
</g>
<text x="25.30" y="392.80" font-size="8.20" text-anchor="start" font-weight="normal" fill="#222" textLength="19.20" lengthAdjust="spacingAndGlyphs" class="ax">0.0</text>
<text x="25.30" y="359.92" font-size="8.20" text-anchor="start" font-weight="normal" fill="#222" textLength="19.20" lengthAdjust="spacingAndGlyphs" class="ax">1.0</text>
<text x="25.30" y="327.05" font-size="8.20" text-anchor="start" font-weight="normal" fill="#222" textLength="19.20" lengthAdjust="spacingAndGlyphs" class="ax">2.0</text>
<text x="25.30" y="294.17" font-size="8.20" text-anchor="start" font-weight="normal" fill="#222" textLength="19.20" lengthAdjust="spacingAndGlyphs" class="ax">3.0</text>
<text x="25.30" y="261.30" font-size="8.20" text-anchor="start" font-weight="normal" fill="#222" textLength="19.20" lengthAdjust="spacingAndGlyphs" class="ax">4.0</text>
<text x="71.95" y="408.50" font-size="8.80" text-anchor="start" font-weight="normal" fill="#222" textLength="7.70" lengthAdjust="spacingAndGlyphs" class="ax">4</text>
<text x="118.37" y="408.50" font-size="8.80" text-anchor="start" font-weight="normal" fill="#222" textLength="7.70" lengthAdjust="spacingAndGlyphs" class="ax">6</text>
<text x="164.79" y="408.50" font-size="8.80" text-anchor="start" font-weight="normal" fill="#222" textLength="7.70" lengthAdjust="spacingAndGlyphs" class="ax">8</text>
<text x="206.91" y="408.50" font-size="8.80" text-anchor="start" font-weight="normal" fill="#222" textLength="11.70" lengthAdjust="spacingAndGlyphs" class="ax">10</text>
<text x="253.33" y="408.50" font-size="8.80" text-anchor="start" font-weight="normal" fill="#222" textLength="11.70" lengthAdjust="spacingAndGlyphs" class="ax">12</text>
<text x="299.75" y="408.50" font-size="8.80" text-anchor="start" font-weight="normal" fill="#222" textLength="11.70" lengthAdjust="spacingAndGlyphs" class="ax">14</text>
<text x="346.17" y="408.50" font-size="8.80" text-anchor="start" font-weight="normal" fill="#222" textLength="11.70" lengthAdjust="spacingAndGlyphs" class="ax">16</text>
<text x="392.59" y="408.50" font-size="8.80" text-anchor="start" font-weight="normal" fill="#222" textLength="11.70" lengthAdjust="spacingAndGlyphs" class="ax">18</text>
<text x="439.01" y="408.50" font-size="8.80" text-anchor="start" font-weight="normal" fill="#222" textLength="11.70" lengthAdjust="spacingAndGlyphs" class="ax">20</text>
<text x="485.43" y="408.50" font-size="8.80" text-anchor="start" font-weight="normal" fill="#222" textLength="11.70" lengthAdjust="spacingAndGlyphs" class="ax">22</text>
<text x="531.85" y="408.50" font-size="8.80" text-anchor="start" font-weight="normal" fill="#222" textLength="11.70" lengthAdjust="spacingAndGlyphs" class="ax">24</text>
<text x="578.27" y="408.50" font-size="8.80" text-anchor="start" font-weight="normal" fill="#222" textLength="11.70" lengthAdjust="spacingAndGlyphs" class="ax">26</text>
<text x="624.69" y="408.50" font-size="8.80" text-anchor="start" font-weight="normal" fill="#222" textLength="11.70" lengthAdjust="spacingAndGlyphs" class="ax">28</text>
<text x="671.11" y="408.50" font-size="8.80" text-anchor="start" font-weight="normal" fill="#222" textLength="11.70" lengthAdjust="spacingAndGlyphs" class="ax">30</text>
<text transform="translate(8.4,323.40) rotate(-90)" x="0" y="0" font-size="8.9" text-anchor="middle" fill="#222" textLength="113" lengthAdjust="spacingAndGlyphs">Abundance (X10<tspan font-size="5.5" dy="-3">5</tspan><tspan dy="3">)</tspan></text>
<text x="649.50" y="260.60" font-size="23.20" text-anchor="start" font-weight="bold" fill="#000">b</text>
<text x="56.40" y="376.00" font-size="5.20" text-anchor="middle" font-weight="normal" fill="#333">1</text>
<text x="69.60" y="383.30" font-size="5.20" text-anchor="middle" font-weight="normal" fill="#333">2</text>
<text x="127.40" y="387.10" font-size="5.20" text-anchor="middle" font-weight="normal" fill="#333">5</text>
<text x="139.60" y="382.10" font-size="5.20" text-anchor="middle" font-weight="normal" fill="#333">7</text>
<text x="169.70" y="388.50" font-size="5.20" text-anchor="middle" font-weight="normal" fill="#333">12</text>
<text x="189.60" y="385.60" font-size="5.20" text-anchor="middle" font-weight="normal" fill="#333">13</text>
<text x="191.60" y="376.00" font-size="5.20" text-anchor="middle" font-weight="normal" fill="#333">18</text>
<text x="196.00" y="382.70" font-size="5.20" text-anchor="middle" font-weight="bold" fill="#111">19</text>
<text x="222.30" y="387.10" font-size="5.20" text-anchor="middle" font-weight="normal" fill="#333">24</text>
<text x="232.50" y="387.10" font-size="5.20" text-anchor="middle" font-weight="bold" fill="#111">27</text>
<text x="234.00" y="377.40" font-size="5.20" text-anchor="middle" font-weight="normal" fill="#333">30</text>
<text x="235.70" y="371.00" font-size="5.20" text-anchor="middle" font-weight="bold" fill="#111">32</text>
<text x="240.40" y="376.00" font-size="5.20" text-anchor="middle" font-weight="normal" fill="#333">33</text>
<text x="247.10" y="368.70" font-size="5.20" text-anchor="middle" font-weight="bold" fill="#111">35</text>
<text x="254.80" y="385.90" font-size="5.20" text-anchor="middle" font-weight="normal" fill="#333">38</text>
<text x="266.50" y="383.40" font-size="5.20" text-anchor="middle" font-weight="normal" fill="#333">41</text>
<text x="269.70" y="377.20" font-size="5.20" text-anchor="middle" font-weight="bold" fill="#111">42</text>
<text x="276.00" y="378.90" font-size="5.20" text-anchor="middle" font-weight="normal" fill="#333">43</text>
<text x="280.80" y="371.00" font-size="5.20" text-anchor="middle" font-weight="bold" fill="#111">45</text>
<text x="284.30" y="378.90" font-size="5.20" text-anchor="middle" font-weight="bold" fill="#111">47</text>
<text x="287.60" y="288.60" font-size="5.20" text-anchor="middle" font-weight="bold" fill="#111">49</text>
<text x="289.80" y="385.40" font-size="5.20" text-anchor="middle" font-weight="normal" fill="#333">51</text>
<text x="294.00" y="380.40" font-size="5.20" text-anchor="middle" font-weight="normal" fill="#333">52</text>
<text x="308.70" y="374.00" font-size="5.20" text-anchor="middle" font-weight="bold" fill="#111">53</text>
<text x="312.00" y="385.90" font-size="5.20" text-anchor="middle" font-weight="normal" fill="#333">55</text>
<text x="321.60" y="380.40" font-size="5.20" text-anchor="middle" font-weight="normal" fill="#333">57</text>
<text x="323.30" y="336.30" font-size="5.20" text-anchor="middle" font-weight="bold" fill="#111">58</text>
<text x="353.30" y="385.90" font-size="5.20" text-anchor="middle" font-weight="normal" fill="#333">62</text>
<text x="356.30" y="378.90" font-size="5.20" text-anchor="middle" font-weight="bold" fill="#111">63</text>
<text x="360.00" y="385.90" font-size="5.20" text-anchor="middle" font-weight="normal" fill="#333">64</text>
<text x="388.00" y="372.20" font-size="5.20" text-anchor="middle" font-weight="bold" fill="#111">67</text>
<text x="384.50" y="383.40" font-size="5.20" text-anchor="middle" font-weight="normal" fill="#333">68</text>
<text x="393.00" y="380.90" font-size="5.20" text-anchor="middle" font-weight="normal" fill="#333">69</text>
<text x="400.00" y="375.20" font-size="5.20" text-anchor="middle" font-weight="normal" fill="#333">71</text>
<text x="404.40" y="380.70" font-size="5.20" text-anchor="middle" font-weight="bold" fill="#111">72</text>
<text x="412.30" y="385.90" font-size="5.20" text-anchor="middle" font-weight="bold" fill="#111">74</text>
<text x="416.00" y="379.00" font-size="5.20" text-anchor="middle" font-weight="bold" fill="#111">75</text>
<text x="424.00" y="386.90" font-size="5.20" text-anchor="middle" font-weight="normal" fill="#333">76</text>
<text x="427.40" y="379.00" font-size="5.20" text-anchor="middle" font-weight="normal" fill="#333">77</text>
<text x="440.00" y="386.90" font-size="5.20" text-anchor="middle" font-weight="normal" fill="#333">78</text>
<text x="444.50" y="380.70" font-size="5.20" text-anchor="middle" font-weight="normal" fill="#333">80</text>
<text x="451.00" y="384.90" font-size="5.20" text-anchor="middle" font-weight="normal" fill="#333">81</text>
<text x="452.50" y="375.20" font-size="5.20" text-anchor="middle" font-weight="normal" fill="#333">83</text>
<text x="455.50" y="357.90" font-size="5.20" text-anchor="middle" font-weight="bold" fill="#111">84</text>
<text x="463.70" y="379.00" font-size="5.20" text-anchor="middle" font-weight="normal" fill="#333">85</text>
<text x="468.60" y="372.30" font-size="5.20" text-anchor="middle" font-weight="normal" fill="#333">86</text>
<text x="473.60" y="375.20" font-size="5.20" text-anchor="middle" font-weight="normal" fill="#333">87</text>
<text x="493.50" y="386.90" font-size="5.20" text-anchor="middle" font-weight="normal" fill="#333">88</text>
<text x="501.40" y="380.70" font-size="5.20" text-anchor="middle" font-weight="bold" fill="#111">89</text>
<text x="519.50" y="385.90" font-size="5.20" text-anchor="middle" font-weight="normal" fill="#333">90</text>
<text x="543.00" y="383.20" font-size="5.20" text-anchor="middle" font-weight="normal" fill="#333">91</text>
<text x="548.00" y="380.70" font-size="5.20" text-anchor="middle" font-weight="normal" fill="#333">92</text>
<text x="564.60" y="381.90" font-size="5.20" text-anchor="middle" font-weight="normal" fill="#333">93</text>
<text x="585.70" y="381.90" font-size="5.20" text-anchor="middle" font-weight="normal" fill="#333">94</text>
<text x="605.00" y="383.40" font-size="5.20" text-anchor="middle" font-weight="normal" fill="#333">95</text>
<text x="624.50" y="385.70" font-size="5.20" text-anchor="middle" font-weight="normal" fill="#333">96</text>
<path d="M56.40,376.50 L55.60,382.60" stroke="#222" stroke-width="0.6" marker-end="url(#ahs)"/>
<path d="M191.80,376.50 L194.50,385.00" stroke="#222" stroke-width="0.6" marker-end="url(#ahs)"/>
<path d="M234.50,371.00 L236.00,386.00" stroke="#222" stroke-width="0.6" marker-end="url(#ahs)"/>
<path d="M236.50,371.00 L238.50,386.00" stroke="#222" stroke-width="0.6" marker-end="url(#ahs)"/>
<path d="M240.50,376.00 L241.00,386.00" stroke="#222" stroke-width="0.6" marker-end="url(#ahs)"/>
<path d="M246.80,369.00 L245.60,376.00" stroke="#222" stroke-width="0.6" marker-end="url(#ahs)"/>
<path d="M269.80,377.50 L268.60,384.50" stroke="#222" stroke-width="0.6" marker-end="url(#ahs)"/>
<path d="M276.00,379.00 L274.00,386.00" stroke="#222" stroke-width="0.6" marker-end="url(#ahs)"/>
<path d="M294.20,380.50 L292.00,386.50" stroke="#222" stroke-width="0.6" marker-end="url(#ahs)"/>
<path d="M400.50,375.50 L402.50,385.00" stroke="#222" stroke-width="0.6" marker-end="url(#ahs)"/>
<path d="M427.60,379.50 L427.60,385.00" stroke="#222" stroke-width="0.6" marker-end="url(#ahs)"/>
<path d="M452.70,375.50 L453.00,385.00" stroke="#222" stroke-width="0.6" marker-end="url(#ahs)"/>
<path d="M468.50,372.50 L469.50,384.00" stroke="#222" stroke-width="0.6" marker-end="url(#ahs)"/>
<path d="M473.30,375.50 L472.00,384.00" stroke="#222" stroke-width="0.6" marker-end="url(#ahs)"/>
<g>
<path d="M609.7,285.1 L615,289.7 L616.3,288.4 C620,289 626,292 630.7,295 L633.4,296.3 C638,296 642,295.6 645.2,295.6 C650,295.3 653,294.3 655.7,294.3 C658.5,294.5 661,295.6 661,295.6 C662.5,296.5 663.6,298.9 663.6,298.9 C664.2,301 664.2,304.2 664.2,304.2 C663.8,307 662.9,309.4 662.9,309.4 L661.6,313.4 L661.2,327.8 L657.2,327.8 L657.7,314.7 L654.4,312 C650,312.5 646,313.4 642.6,313.4 C639,313.4 636,313 634.7,312.7 L633.8,327.8 L628.8,327.8 L628.8,312 C627.5,311 626.8,309.4 626.8,309.4 C625,307.5 622.8,305.5 622.8,305.5 C620,303 617.6,301.5 617.6,301.5 L613.7,303.5 L612.3,305.2 L609,305.2 C608,304.8 607.5,303.5 607.5,303.5 L607.7,300.9 C608.5,298 609.7,295 609.7,295 L610.4,289.7 Z" fill="#7a6a62"/>
<path d="M616,288.6 C621,289.2 626.5,292 631,295.4 L630.6,297 C626,294.6 620.5,292 615.6,290.6 Z" fill="#473b35"/>
<path d="M631.2,296.5 L632.6,304.5" stroke="#4f433d" stroke-width="0.8" fill="none"/>
<path d="M607.5,301 C609,300.5 611.5,300.8 613,302 L612.3,305.2 L609,305.2 C608,304.8 607.5,303.5 607.5,303.5 Z" fill="#dcd7d0"/>
<path d="M628.8,312 L634.7,312.7 L633.8,327.8 L628.8,327.8 Z" fill="#d8d3cb"/>
<path d="M631.4,313 L631.3,327.8" stroke="#b3ada5" stroke-width="0.6"/>
<path d="M654.4,312 L661.6,312.6 L661.2,327.8 L657.2,327.8 L657.7,314.7 Z" fill="#d3cec6"/>
<path d="M634.7,312.7 C640,313.8 648,313.8 654.4,312 L654,310.6 C647,311.8 640,311.8 634.5,311 Z" fill="#cfc9c1"/>
<path d="M628.8,326.6 L633.8,326.6 L633.8,327.9 L628.8,327.9 Z M657.2,326.6 L661.2,326.6 L661.2,327.9 L657.2,327.9 Z" fill="#6e655f"/>
<path d="M664,302 C665,307 665.6,311 665.6,314" stroke="#6a5b53" stroke-width="0.9" fill="none"/>
<path d="M664.6,312 L666.6,312 L666.4,317 L665,317 Z" fill="#3d3430"/>
<circle cx="612.5" cy="295.2" r="0.6" fill="#2a2420"/>
</g>
<clipPath id="cp2"><rect x="54.8" y="440.20" width="627" height="133.30"/></clipPath>
<path d="M55.0,569.2L55.2,568.9L55.2,568.8L55.4,568.7L55.6,568.6L55.8,568.7L56.0,568.9L56.0,569.0L56.2,569.4L56.3,569.6L56.4,569.8L56.6,570.2L56.8,570.6L57.0,570.8L57.2,571.0L57.4,571.1L57.6,571.2L58.0,571.3L58.4,571.3L59.0,571.4L59.6,571.5L60.2,571.5L60.8,571.6L61.4,571.6L62.2,571.7L63.0,571.7L63.8,571.8L64.8,571.9L65.8,571.9L67.0,572.0L68.4,572.0L70.0,572.1L72.0,572.1L74.8,572.2L78.0,572.2L81.2,572.2L84.4,572.3L87.6,572.3L90.8,572.3L94.0,572.3L97.2,572.3L100.4,572.3L103.6,572.3L106.8,572.3L110.0,572.3L113.2,572.3L116.4,572.3L119.6,572.3L122.8,572.3L126.0,572.3L129.2,572.3L132.4,572.3L135.6,572.3L138.6,572.3L138.8,572.1L139.0,571.5L139.2,570.1L139.3,569.2L139.4,568.2L139.4,567.8L139.6,567.2L139.8,567.8L139.8,568.2L139.9,569.2L140.0,570.1L140.2,571.5L140.4,572.1L140.6,572.3L143.8,572.3L147.0,572.3L150.2,572.3L150.4,572.3L150.6,572.2L150.8,571.9L151.0,571.3L151.0,571.3L151.1,570.9L151.2,570.8L151.3,570.7L151.4,570.8L151.5,570.9L151.6,571.3L151.6,571.3L151.8,571.9L152.0,572.2L152.2,572.3L155.4,572.3L158.6,572.3L161.8,572.3L165.0,572.3L168.2,572.3L171.2,572.3L171.4,572.2L171.6,572.0L171.7,571.8L171.8,571.7L171.8,571.6L172.0,571.5L172.2,571.6L172.2,571.7L172.3,571.8L172.4,572.0L172.6,572.2L172.8,572.3L176.0,572.3L179.2,572.3L182.4,572.3L185.6,572.3L188.8,572.3L189.2,572.3L189.4,572.1L189.6,571.7L189.7,571.5L189.8,571.2L189.8,571.2L190.0,571.0L190.2,571.2L190.2,571.2L190.3,571.5L190.4,571.7L190.6,572.1L190.8,572.3L193.2,572.3L193.4,572.1L193.6,571.7L193.7,571.5L193.8,571.2L193.8,571.2L194.0,571.0L194.2,571.2L194.2,571.2L194.3,571.5L194.4,571.7L194.6,572.1L194.8,572.3L198.0,572.2L198.2,572.1L198.4,572.1L198.6,572.0L198.8,571.9L199.0,571.8L199.2,571.6L199.4,571.4L199.6,571.2L199.8,571.0L199.9,570.9L200.0,570.8L200.2,570.6L200.4,570.4L200.6,570.3L200.6,570.2L200.8,570.1L201.0,570.0L201.4,570.0L201.6,570.1L201.8,570.2L201.8,570.3L202.0,570.4L202.2,570.6L202.4,570.8L202.5,570.9L202.6,571.0L202.8,571.2L203.0,571.4L203.2,571.5L203.4,571.6L203.8,571.6L204.0,571.5L204.2,571.4L204.4,571.2L204.6,571.1L204.8,571.0L205.0,571.0L205.2,571.0L205.4,571.1L205.6,571.3L205.8,571.5L206.0,571.7L206.2,571.9L206.4,572.0L206.6,572.1L206.8,572.2L207.2,572.3L210.4,572.3L213.6,572.3L213.8,572.2L214.0,572.1L214.2,571.8L214.2,571.8L214.3,571.6L214.4,571.5L214.6,571.5L214.7,571.6L214.8,571.8L214.8,571.8L215.0,572.1L215.2,572.2L215.4,572.3L218.6,572.3L221.8,572.3L224.0,572.3L224.2,572.2L224.4,572.0L224.6,571.5L224.7,571.2L224.8,570.8L224.8,570.7L225.0,570.5L225.2,570.7L225.2,570.8L225.3,571.2L225.4,571.5L225.6,572.0L225.8,572.2L226.0,572.3L228.0,572.3L228.2,572.1L228.4,571.3L228.6,569.4L228.7,568.3L228.8,566.9L228.8,566.5L229.0,565.7L229.2,566.5L229.2,566.9L229.3,568.3L229.4,569.4L229.6,571.3L229.8,572.1L230.0,572.3L232.0,572.3L232.2,572.2L232.4,571.9L232.6,571.3L232.7,570.9L232.8,570.4L232.8,570.3L233.0,570.0L233.2,570.3L233.2,570.4L233.3,570.9L233.4,571.3L233.6,571.9L233.8,572.2L234.0,572.3L235.0,572.3L235.2,572.2L235.4,571.9L235.6,571.1L235.7,570.6L235.8,570.0L235.8,569.8L236.0,569.5L236.2,569.8L236.2,570.0L236.3,570.6L236.4,571.1L236.6,571.9L236.8,572.2L237.0,572.3L239.0,572.3L239.2,572.1L239.4,571.6L239.6,570.4L239.7,569.7L239.8,568.8L239.8,568.5L240.0,568.0L240.2,568.5L240.2,568.8L240.3,569.7L240.4,570.4L240.6,571.6L240.8,572.1L241.0,572.3L242.4,572.3L242.6,572.2L242.8,571.9L243.0,570.5L243.2,567.1L243.3,565.0L243.4,562.6L243.4,561.7L243.6,560.3L243.8,561.7L243.8,562.6L243.9,565.0L244.0,567.1L244.2,570.5L244.4,571.8L244.6,571.8L244.8,570.6L245.0,567.6L245.1,565.7L245.2,563.5L245.2,562.8L245.4,561.5L245.6,562.8L245.6,563.5L245.7,565.7L245.8,567.6L246.0,570.6L246.2,571.9L246.4,572.2L246.6,572.3L248.4,572.3L248.6,572.0L248.8,571.0L249.0,568.7L249.1,567.3L249.2,565.6L249.2,565.0L249.4,564.0L249.6,565.0L249.6,565.6L249.7,567.3L249.8,568.7L250.0,571.0L250.2,572.0L250.4,572.3L252.0,572.3L252.2,572.2L252.4,571.9L252.6,571.1L252.7,570.6L252.8,570.0L252.8,569.8L253.0,569.5L253.2,569.8L253.2,570.0L253.3,570.6L253.4,571.1L253.6,571.9L253.8,572.2L254.0,572.3L255.8,572.3L256.0,572.1L256.2,571.3L256.4,569.6L256.5,568.5L256.6,567.2L256.6,566.7L256.8,566.0L257.0,566.7L257.0,567.2L257.1,568.5L257.2,569.6L257.4,571.3L257.6,572.1L257.8,572.3L258.8,572.2L259.0,572.0L259.2,570.8L259.4,568.2L259.5,566.5L259.6,564.6L259.6,563.9L259.8,562.8L260.0,563.9L260.0,564.6L260.1,566.5L260.2,568.2L260.4,570.8L260.6,572.0L260.8,572.2L261.2,572.3L262.6,572.3L262.8,572.0L263.0,571.4L263.2,570.3L263.2,570.2L263.3,569.4L263.4,569.2L263.5,569.0L263.6,569.2L263.7,569.4L263.8,570.2L263.8,570.3L264.0,571.4L264.2,572.0L264.4,572.3L267.0,572.3L267.2,572.2L267.4,571.7L267.6,570.6L267.7,570.0L267.8,569.2L267.8,568.9L268.0,568.5L268.2,568.9L268.2,569.2L268.3,570.0L268.4,570.6L268.6,571.7L268.8,572.2L269.0,572.3L272.0,572.3L272.2,572.2L272.4,571.6L272.6,567.5L272.8,551.8L273.0,514.2L273.1,491.3L273.2,463.8L273.2,454.4L273.4,438.7L273.6,454.4L273.6,463.8L273.7,491.3L273.8,514.2L274.0,551.8L274.2,567.5L274.4,571.6L274.6,572.2L274.8,572.3L276.0,572.3L276.2,572.1L276.4,571.6L276.6,570.4L276.7,569.7L276.8,568.8L276.8,568.5L277.0,568.0L277.2,568.5L277.2,568.8L277.3,569.7L277.4,570.4L277.6,571.6L277.8,572.1L278.0,572.3L278.2,572.2L278.4,571.7L278.6,570.4L278.8,568.0L278.8,567.9L278.9,566.0L279.0,565.6L279.1,565.2L279.2,565.6L279.3,566.0L279.4,567.9L279.4,568.0L279.6,570.4L279.8,571.6L280.0,570.8L280.2,564.8L280.4,546.4L280.6,514.6L280.6,512.7L280.7,488.3L280.8,481.9L280.9,477.1L281.0,481.9L281.1,488.3L281.2,512.7L281.2,514.6L281.4,546.4L281.6,564.9L281.8,570.9L282.0,572.1L282.2,572.3L282.4,572.1L282.6,571.5L282.8,569.5L283.0,566.1L283.0,565.9L283.1,563.2L283.2,562.5L283.3,562.0L283.4,562.5L283.5,563.2L283.6,565.9L283.6,566.1L283.8,569.5L284.0,571.5L284.2,571.9L284.4,571.3L284.6,569.6L284.7,568.5L284.8,567.2L284.8,566.7L285.0,566.0L285.2,566.7L285.2,567.2L285.3,568.5L285.4,569.6L285.6,571.3L285.8,572.1L286.0,572.3L286.4,572.3L286.6,571.9L286.8,569.8L287.0,561.8L287.2,542.5L287.3,530.7L287.4,516.6L287.4,511.8L287.6,503.7L287.8,511.8L287.8,516.6L287.9,530.7L288.0,542.5L288.2,561.8L288.4,569.8L288.6,571.9L288.8,572.3L290.8,572.3L291.0,572.2L291.2,572.0L291.4,571.5L291.6,570.7L291.6,570.6L291.8,569.9L291.8,569.8L292.0,569.5L292.2,569.8L292.2,569.9L292.4,570.6L292.4,570.7L292.6,571.5L292.8,572.0L293.0,572.2L293.2,572.3L296.0,572.3L296.2,572.1L296.4,571.8L296.6,571.3L296.6,571.2L296.8,570.7L296.8,570.7L297.0,570.5L297.2,570.7L297.2,570.7L297.4,571.2L297.4,571.3L297.6,571.8L297.8,572.1L298.0,572.3L301.2,572.3L303.0,572.3L303.2,572.2L303.4,571.9L303.6,571.3L303.7,570.9L303.8,570.4L303.8,570.3L304.0,570.0L304.2,570.3L304.2,570.4L304.3,570.9L304.4,571.3L304.6,571.9L304.8,572.2L305.0,572.3L307.0,572.3L307.2,572.2L307.4,571.9L307.6,570.6L307.8,567.6L307.9,565.7L308.0,563.5L308.0,562.8L308.2,561.5L308.4,562.8L308.4,563.5L308.5,565.7L308.6,567.6L308.8,570.6L309.0,571.9L309.2,572.2L309.4,572.3L310.8,572.3L311.0,572.1L311.2,571.0L311.4,567.9L311.6,562.4L311.6,562.1L311.7,557.9L311.8,556.8L311.9,556.0L312.0,556.8L312.1,557.9L312.2,562.1L312.2,562.4L312.4,567.9L312.6,571.0L312.8,572.1L313.0,572.3L314.0,572.3L314.2,572.2L314.4,571.8L314.6,570.9L314.7,570.3L314.8,569.6L314.8,569.4L315.0,569.0L315.2,569.4L315.2,569.6L315.3,570.3L315.4,570.9L315.6,571.8L315.8,572.2L316.0,572.3L318.0,572.3L318.2,572.1L318.4,571.0L318.6,565.6L318.8,549.0L319.0,520.3L319.0,518.6L319.1,496.7L319.2,490.9L319.3,486.6L319.4,490.9L319.5,496.7L319.6,518.6L319.6,520.3L319.8,549.0L320.0,565.6L320.2,571.0L320.4,572.0L320.6,571.5L320.8,569.5L321.0,566.1L321.0,565.9L321.1,563.2L321.2,562.5L321.3,562.0L321.4,562.5L321.5,563.2L321.6,565.9L321.6,566.1L321.8,569.5L322.0,571.5L322.2,572.1L322.4,572.3L323.0,572.3L323.2,572.2L323.4,571.6L323.6,568.8L323.8,560.1L324.0,545.1L324.0,544.3L324.1,532.8L324.2,529.8L324.3,527.5L324.4,529.8L324.5,532.8L324.6,544.3L324.6,545.1L324.8,560.1L325.0,568.8L325.2,571.6L325.4,572.2L325.6,572.3L326.0,572.3L326.2,572.2L326.4,571.9L326.6,571.1L326.7,570.6L326.8,570.0L326.8,569.8L327.0,569.5L327.2,569.8L327.2,570.0L327.3,570.6L327.4,571.1L327.6,571.9L327.8,572.2L328.0,572.3L330.2,572.3L330.4,572.1L330.6,571.5L330.8,570.0L330.9,569.1L331.0,568.0L331.0,567.6L331.2,567.0L331.4,567.6L331.4,568.0L331.5,569.1L331.6,570.0L331.8,571.5L332.0,572.1L332.2,572.3L335.4,572.3L336.0,572.3L336.2,572.2L336.4,571.9L336.6,571.3L336.7,570.9L336.8,570.4L336.8,570.3L337.0,570.0L337.2,570.3L337.2,570.4L337.3,570.9L337.4,571.3L337.6,571.9L337.8,572.2L338.0,572.3L341.2,572.3L343.6,572.3L343.8,572.2L344.0,571.7L344.2,570.6L344.3,570.0L344.4,569.2L344.4,568.9L344.6,568.5L344.8,568.9L344.8,569.2L344.9,570.0L345.0,570.6L345.2,571.7L345.4,572.1L345.6,572.1L345.8,570.8L346.0,566.1L346.2,554.6L346.3,547.7L346.4,539.3L346.4,536.5L346.6,531.7L346.8,536.5L346.8,539.3L346.9,547.7L347.0,554.6L347.2,566.1L347.4,570.8L347.6,572.1L347.8,572.3L350.0,572.3L350.2,572.2L350.4,571.9L350.6,571.1L350.7,570.6L350.8,570.0L350.8,569.8L351.0,569.5L351.2,569.8L351.2,570.0L351.3,570.6L351.4,571.1L351.6,571.9L351.8,572.2L352.0,572.3L355.2,572.3L355.6,572.3L355.8,572.1L356.0,571.3L356.2,569.6L356.3,568.5L356.4,567.2L356.4,566.7L356.6,566.0L356.8,566.7L356.8,567.2L356.9,568.5L357.0,569.6L357.2,571.3L357.4,572.1L357.6,572.3L360.0,572.3L360.2,572.2L360.4,571.8L360.6,570.9L360.7,570.3L360.8,569.6L360.8,569.4L361.0,569.0L361.2,569.4L361.2,569.6L361.3,570.3L361.4,570.8L361.6,571.7L361.8,572.1L362.0,572.1L362.2,571.9L362.4,571.6L362.6,571.2L362.8,570.6L363.0,570.0L363.2,569.2L363.4,568.5L363.6,567.8L363.8,567.4L364.0,567.2L364.2,567.4L364.4,567.8L364.6,568.4L364.8,569.2L365.0,569.8L365.2,570.2L365.4,569.9L365.6,568.9L365.6,568.7L365.8,567.7L365.8,567.7L366.0,567.3L366.2,567.9L366.2,568.0L366.4,569.3L366.4,569.6L366.6,571.0L366.8,571.8L367.0,572.2L367.2,572.3L370.4,572.3L373.6,572.3L374.0,572.3L374.2,572.1L374.4,571.8L374.6,571.3L374.6,571.2L374.8,570.7L374.8,570.7L375.0,570.5L375.2,570.7L375.2,570.7L375.4,571.2L375.4,571.3L375.6,571.8L375.8,572.1L376.0,572.3L379.2,572.3L382.4,572.3L385.6,572.3L385.8,572.3L386.0,572.1L386.2,571.3L386.4,569.3L386.5,568.2L386.6,566.8L386.6,566.3L386.8,565.5L387.0,566.3L387.0,566.8L387.1,568.2L387.2,569.3L387.4,571.3L387.6,572.1L387.8,572.3L391.0,572.3L391.2,572.2L391.4,571.9L391.6,571.1L391.7,570.6L391.8,570.0L391.8,569.8L392.0,569.5L392.2,569.8L392.2,570.0L392.3,570.6L392.4,571.1L392.6,571.9L392.8,572.2L393.0,572.3L395.4,572.3L395.6,572.2L395.8,572.0L396.0,571.4L396.2,570.2L396.3,569.1L396.4,568.5L396.5,567.6L396.6,567.2L396.7,567.0L396.8,567.2L396.9,567.6L397.0,568.5L397.1,569.1L397.2,570.2L397.4,571.4L397.6,572.0L397.8,572.2L398.0,572.3L401.2,572.3L402.8,572.3L403.0,572.2L403.2,572.0L403.4,571.4L403.6,570.2L403.7,569.1L403.8,568.5L403.9,567.6L404.0,567.2L404.1,567.0L404.2,567.2L404.3,567.6L404.4,568.5L404.5,569.1L404.6,570.2L404.8,571.4L405.0,572.0L405.2,572.2L405.4,572.3L408.6,572.3L408.8,572.2L409.0,571.9L409.2,570.7L409.4,567.7L409.5,565.9L409.6,563.7L409.6,562.9L409.8,561.7L410.0,562.9L410.0,563.7L410.1,565.9L410.2,567.7L410.4,570.7L410.6,571.9L410.8,572.2L411.0,572.3L412.6,572.3L412.8,572.1L413.0,571.5L413.2,570.6L413.2,570.5L413.3,569.8L413.4,569.6L413.5,569.5L413.6,569.6L413.7,569.8L413.8,570.5L413.8,570.6L414.0,571.5L414.2,572.1L414.4,572.3L415.6,572.3L415.8,572.2L416.0,571.8L416.2,570.4L416.4,568.2L416.4,568.0L416.5,566.3L416.6,565.8L416.7,565.5L416.8,565.8L416.9,566.3L417.0,568.0L417.0,568.2L417.2,570.4L417.4,571.8L417.6,572.2L417.8,572.3L420.0,572.3L420.2,572.2L420.4,571.9L420.6,571.3L420.7,570.9L420.8,570.4L420.8,570.3L421.0,570.0L421.2,570.3L421.2,570.4L421.3,570.9L421.4,571.3L421.6,571.9L421.8,572.2L422.0,572.3L423.8,572.2L424.0,572.1L424.2,572.0L424.4,571.8L424.6,571.5L424.8,571.1L425.0,570.6L425.2,570.0L425.4,569.4L425.6,568.9L425.8,568.6L426.0,568.5L426.2,568.6L426.4,568.9L426.6,569.4L426.8,570.0L427.0,570.6L427.2,571.1L427.4,571.5L427.6,571.8L427.8,572.0L428.0,572.1L428.2,572.2L428.6,572.3L431.8,572.3L433.4,572.3L433.6,572.2L433.8,572.0L434.0,571.4L434.2,570.4L434.2,570.3L434.4,569.4L434.4,569.4L434.6,569.0L434.8,569.4L434.8,569.4L435.0,570.3L435.0,570.4L435.2,571.4L435.4,572.0L435.6,572.2L435.8,572.3L437.0,572.3L437.2,572.2L437.4,571.8L437.6,570.9L437.7,570.3L437.8,569.6L437.8,569.4L438.0,569.0L438.2,569.4L438.2,569.6L438.3,570.3L438.4,570.9L438.6,571.8L438.8,572.2L439.0,572.3L440.0,572.3L440.2,572.1L440.4,571.6L440.6,570.4L440.7,569.7L440.8,568.8L440.8,568.5L441.0,568.0L441.2,568.5L441.2,568.8L441.3,569.7L441.4,570.4L441.6,571.6L441.8,572.1L442.0,572.3L444.0,572.3L444.2,572.1L444.4,571.4L444.6,569.9L444.7,568.9L444.8,567.8L444.8,567.4L445.0,566.7L445.2,567.4L445.2,567.8L445.3,568.9L445.4,569.9L445.6,571.4L445.8,572.1L446.0,572.3L447.0,572.3L447.2,572.2L447.4,571.7L447.6,570.6L447.7,570.0L447.8,569.2L447.8,568.9L448.0,568.5L448.2,568.9L448.2,569.2L448.3,570.0L448.4,570.6L448.6,571.7L448.8,572.2L449.0,572.3L450.0,572.3L450.2,572.2L450.4,571.7L450.6,570.6L450.7,570.0L450.8,569.2L450.8,568.9L451.0,568.5L451.2,568.9L451.2,569.2L451.3,570.0L451.4,570.6L451.6,571.7L451.8,572.2L452.0,572.3L453.4,572.3L453.6,572.2L453.8,572.1L454.0,571.7L454.2,571.0L454.4,569.7L454.6,567.1L454.8,562.8L455.0,556.1L455.2,546.6L455.4,534.3L455.6,520.0L455.6,516.3L455.8,505.2L456.0,492.1L456.0,490.8L456.2,483.1L456.4,479.9L456.6,483.1L456.8,490.8L456.8,492.1L457.0,505.2L457.1,516.3L457.2,520.0L457.4,534.3L457.6,546.6L457.8,556.1L458.0,562.8L458.2,567.1L458.4,569.7L458.6,571.0L458.8,571.7L459.0,572.1L459.2,572.2L459.4,572.3L462.6,572.3L462.8,572.3L463.0,572.2L463.2,572.0L463.4,571.4L463.6,570.4L463.6,570.3L463.8,569.4L463.8,569.4L464.0,569.0L464.2,569.4L464.2,569.4L464.4,570.3L464.4,570.4L464.6,571.4L464.8,572.0L465.0,572.2L465.2,572.3L468.4,572.3L468.8,572.3L469.0,572.2L469.2,571.9L469.4,571.3L469.6,570.2L469.6,570.0L469.8,569.0L469.8,568.9L470.0,568.5L470.2,568.9L470.2,569.0L470.4,570.0L470.4,570.2L470.6,571.3L470.8,571.9L471.0,572.2L471.2,572.3L473.2,572.3L473.4,572.2L473.6,571.9L473.8,571.3L474.0,570.2L474.0,570.0L474.2,569.0L474.2,568.9L474.4,568.5L474.6,568.9L474.6,569.0L474.8,570.0L474.8,570.2L475.0,571.3L475.2,571.9L475.4,572.2L475.6,572.3L477.4,572.3L477.6,572.2L477.8,571.9L478.0,571.3L478.2,570.2L478.2,570.0L478.4,569.0L478.4,568.9L478.6,568.5L478.8,568.9L478.8,569.0L479.0,570.0L479.0,570.2L479.2,571.3L479.4,571.9L479.6,572.2L479.8,572.3L483.0,572.3L483.2,572.1L483.4,571.8L483.6,571.3L483.6,571.2L483.8,570.7L483.8,570.7L484.0,570.5L484.2,570.7L484.2,570.7L484.4,571.2L484.4,571.3L484.6,571.8L484.8,572.1L485.0,572.3L488.2,572.3L491.4,572.3L492.0,572.3L492.2,572.2L492.4,571.9L492.6,571.6L492.6,571.5L492.8,571.2L492.8,571.2L493.0,571.0L493.2,571.2L493.2,571.2L493.4,571.5L493.4,571.6L493.6,571.9L493.8,572.2L494.0,572.3L497.2,572.3L500.4,572.3L502.0,572.3L502.2,572.2L502.4,571.9L502.6,571.6L502.6,571.5L502.8,571.2L502.8,571.2L503.0,571.0L503.2,571.2L503.2,571.2L503.4,571.5L503.4,571.6L503.6,571.9L503.8,572.2L504.0,572.3L507.2,572.3L510.4,572.3L513.6,572.3L513.8,572.2L514.0,572.2L514.2,572.1L514.4,571.9L514.6,571.7L514.8,571.4L515.0,571.0L515.2,570.6L515.4,570.2L515.6,569.8L515.8,569.6L516.0,569.5L516.2,569.6L516.4,569.8L516.6,570.2L516.8,570.6L517.0,571.0L517.2,571.4L517.4,571.7L517.6,571.9L517.8,572.1L518.0,572.2L518.2,572.2L518.8,572.3L521.0,572.3L521.2,572.1L521.4,571.8L521.6,571.3L521.6,571.2L521.8,570.7L521.8,570.7L522.0,570.5L522.2,570.7L522.2,570.7L522.4,571.2L522.4,571.3L522.6,571.8L522.8,572.1L523.0,572.3L526.2,572.3L529.4,572.3L532.6,572.3L535.4,572.3L535.6,572.2L535.8,571.8L536.0,570.1L536.2,566.2L536.3,563.8L536.4,560.9L536.4,559.9L536.6,558.3L536.8,559.9L536.8,560.9L536.9,563.8L537.0,566.2L537.2,570.1L537.4,571.8L537.6,572.2L537.8,572.3L541.0,572.3L541.2,572.2L541.4,571.9L541.6,571.3L541.7,570.9L541.8,570.4L541.8,570.3L542.0,570.0L542.2,570.3L542.2,570.4L542.3,570.9L542.4,571.3L542.6,571.9L542.8,572.2L543.0,572.3L546.2,572.3L547.4,572.3L547.6,572.1L547.8,571.5L548.0,570.6L548.0,570.5L548.1,569.8L548.2,569.6L548.3,569.5L548.4,569.6L548.5,569.8L548.6,570.5L548.6,570.6L548.8,571.5L549.0,572.1L549.2,572.3L552.4,572.3L555.6,572.3L558.8,572.3L562.0,572.3L562.4,572.2L562.6,572.2L562.8,572.0L563.0,571.9L563.2,571.6L563.4,571.2L563.6,570.8L563.8,570.3L564.0,569.8L564.2,569.4L564.4,569.1L564.6,569.0L564.8,569.1L565.0,569.4L565.2,569.8L565.4,570.3L565.6,570.8L565.8,571.2L566.0,571.6L566.2,571.9L566.4,572.0L566.6,572.2L566.8,572.2L567.2,572.3L570.4,572.3L573.6,572.3L576.8,572.3L580.0,572.3L583.2,572.3L584.8,572.3L585.0,572.1L585.2,571.5L585.4,570.6L585.4,570.5L585.5,569.8L585.6,569.6L585.7,569.5L585.8,569.6L585.9,569.8L586.0,570.5L586.0,570.6L586.2,571.5L586.4,572.1L586.6,572.3L589.8,572.3L593.0,572.3L596.2,572.3L599.4,572.3L602.6,572.3L604.6,572.3L604.8,572.2L605.0,571.8L605.2,571.2L605.2,571.2L605.3,570.7L605.4,570.6L605.5,570.5L605.6,570.6L605.7,570.7L605.8,571.2L605.8,571.2L606.0,571.8L606.2,572.2L606.4,572.3L609.6,572.3L612.8,572.3L616.0,572.3L619.2,572.3L622.4,572.3L623.4,572.3L623.6,572.1L623.8,571.7L623.9,571.5L624.0,571.2L624.0,571.2L624.2,571.0L624.4,571.2L624.4,571.2L624.5,571.5L624.6,571.7L624.8,572.1L625.0,572.3L628.2,572.3L631.4,572.3L634.6,572.3L637.8,572.3L641.0,572.3L644.2,572.3L647.4,572.3L650.6,572.3L652.4,572.3L652.6,572.1L652.8,571.1L653.0,568.1L653.2,563.0L653.2,562.7L653.3,558.8L653.4,557.8L653.5,557.0L653.6,557.8L653.7,558.8L653.8,562.7L653.8,563.0L654.0,568.1L654.2,571.1L654.4,572.1L654.6,572.3L657.8,572.3L661.0,572.3L664.2,572.3L667.4,572.3L670.6,572.3L673.8,572.3L677.0,572.3L680.2,572.3" fill="none" stroke="#28eeee" stroke-width="1.00" stroke-linejoin="round" clip-path="url(#cp2)"/>
<g stroke="#333" stroke-width="0.9" fill="none">
<path d="M54.4,440.60 V573.50 M52,573.50 H679.46"/>
<path d="M51.8,573.50H54.4M52.8,566.91H54.4M52.8,560.33H54.4M52.8,553.75H54.4M52.8,547.16H54.4M51.8,540.58H54.4M52.8,533.99H54.4M52.8,527.40H54.4M52.8,520.82H54.4M52.8,514.24H54.4M51.8,507.65H54.4M52.8,501.06H54.4M52.8,494.48H54.4M52.8,487.89H54.4M52.8,481.31H54.4M51.8,474.73H54.4M52.8,468.14H54.4M52.8,461.56H54.4M52.8,454.97H54.4M52.8,448.38H54.4M51.8,441.80H54.4"/>
<path d="M56.93,573.50V576.70M66.22,573.50V576.70M75.50,573.50V580.00M84.78,573.50V576.70M94.07,573.50V576.70M103.35,573.50V576.70M112.64,573.50V576.70M121.92,573.50V580.00M131.20,573.50V576.70M140.49,573.50V576.70M149.77,573.50V576.70M159.06,573.50V576.70M168.34,573.50V580.00M177.62,573.50V576.70M186.91,573.50V576.70M196.19,573.50V576.70M205.48,573.50V576.70M214.76,573.50V580.00M224.04,573.50V576.70M233.33,573.50V576.70M242.61,573.50V576.70M251.90,573.50V576.70M261.18,573.50V580.00M270.46,573.50V576.70M279.75,573.50V576.70M289.03,573.50V576.70M298.32,573.50V576.70M307.60,573.50V580.00M316.88,573.50V576.70M326.17,573.50V576.70M335.45,573.50V576.70M344.74,573.50V576.70M354.02,573.50V580.00M363.30,573.50V576.70M372.59,573.50V576.70M381.87,573.50V576.70M391.16,573.50V576.70M400.44,573.50V580.00M409.72,573.50V576.70M419.01,573.50V576.70M428.29,573.50V576.70M437.58,573.50V576.70M446.86,573.50V580.00M456.14,573.50V576.70M465.43,573.50V576.70M474.71,573.50V576.70M484.00,573.50V576.70M493.28,573.50V580.00M502.56,573.50V576.70M511.85,573.50V576.70M521.13,573.50V576.70M530.42,573.50V576.70M539.70,573.50V580.00M548.98,573.50V576.70M558.27,573.50V576.70M567.55,573.50V576.70M576.84,573.50V576.70M586.12,573.50V580.00M595.40,573.50V576.70M604.69,573.50V576.70M613.97,573.50V576.70M623.26,573.50V576.70M632.54,573.50V580.00M641.82,573.50V576.70M651.11,573.50V576.70M660.39,573.50V576.70M669.68,573.50V576.70M678.96,573.50V580.00"/>
</g>
<text x="25.30" y="576.40" font-size="8.20" text-anchor="start" font-weight="normal" fill="#222" textLength="19.20" lengthAdjust="spacingAndGlyphs" class="ax">0.0</text>
<text x="25.30" y="543.48" font-size="8.20" text-anchor="start" font-weight="normal" fill="#222" textLength="19.20" lengthAdjust="spacingAndGlyphs" class="ax">1.0</text>
<text x="25.30" y="510.55" font-size="8.20" text-anchor="start" font-weight="normal" fill="#222" textLength="19.20" lengthAdjust="spacingAndGlyphs" class="ax">2.0</text>
<text x="25.30" y="477.62" font-size="8.20" text-anchor="start" font-weight="normal" fill="#222" textLength="19.20" lengthAdjust="spacingAndGlyphs" class="ax">3.0</text>
<text x="25.30" y="444.70" font-size="8.20" text-anchor="start" font-weight="normal" fill="#222" textLength="19.20" lengthAdjust="spacingAndGlyphs" class="ax">4.0</text>
<text x="71.95" y="591.90" font-size="8.80" text-anchor="start" font-weight="normal" fill="#222" textLength="7.70" lengthAdjust="spacingAndGlyphs" class="ax">4</text>
<text x="118.37" y="591.90" font-size="8.80" text-anchor="start" font-weight="normal" fill="#222" textLength="7.70" lengthAdjust="spacingAndGlyphs" class="ax">6</text>
<text x="164.79" y="591.90" font-size="8.80" text-anchor="start" font-weight="normal" fill="#222" textLength="7.70" lengthAdjust="spacingAndGlyphs" class="ax">8</text>
<text x="206.91" y="591.90" font-size="8.80" text-anchor="start" font-weight="normal" fill="#222" textLength="11.70" lengthAdjust="spacingAndGlyphs" class="ax">10</text>
<text x="253.33" y="591.90" font-size="8.80" text-anchor="start" font-weight="normal" fill="#222" textLength="11.70" lengthAdjust="spacingAndGlyphs" class="ax">12</text>
<text x="299.75" y="591.90" font-size="8.80" text-anchor="start" font-weight="normal" fill="#222" textLength="11.70" lengthAdjust="spacingAndGlyphs" class="ax">14</text>
<text x="346.17" y="591.90" font-size="8.80" text-anchor="start" font-weight="normal" fill="#222" textLength="11.70" lengthAdjust="spacingAndGlyphs" class="ax">16</text>
<text x="392.59" y="591.90" font-size="8.80" text-anchor="start" font-weight="normal" fill="#222" textLength="11.70" lengthAdjust="spacingAndGlyphs" class="ax">18</text>
<text x="439.01" y="591.90" font-size="8.80" text-anchor="start" font-weight="normal" fill="#222" textLength="11.70" lengthAdjust="spacingAndGlyphs" class="ax">20</text>
<text x="485.43" y="591.90" font-size="8.80" text-anchor="start" font-weight="normal" fill="#222" textLength="11.70" lengthAdjust="spacingAndGlyphs" class="ax">22</text>
<text x="531.85" y="591.90" font-size="8.80" text-anchor="start" font-weight="normal" fill="#222" textLength="11.70" lengthAdjust="spacingAndGlyphs" class="ax">24</text>
<text x="578.27" y="591.90" font-size="8.80" text-anchor="start" font-weight="normal" fill="#222" textLength="11.70" lengthAdjust="spacingAndGlyphs" class="ax">26</text>
<text x="624.69" y="591.90" font-size="8.80" text-anchor="start" font-weight="normal" fill="#222" textLength="11.70" lengthAdjust="spacingAndGlyphs" class="ax">28</text>
<text x="671.11" y="591.90" font-size="8.80" text-anchor="start" font-weight="normal" fill="#222" textLength="11.70" lengthAdjust="spacingAndGlyphs" class="ax">30</text>
<text transform="translate(8.4,504.30) rotate(-90)" x="0" y="0" font-size="8.9" text-anchor="middle" fill="#222" textLength="113" lengthAdjust="spacingAndGlyphs">Abundance (X10<tspan font-size="5.5" dy="-3">5</tspan><tspan dy="3">)</tspan></text>
<text x="649.50" y="443.00" font-size="23.20" text-anchor="start" font-weight="bold" fill="#000">c</text>
<text x="56.70" y="557.40" font-size="5.20" text-anchor="middle" font-weight="normal" fill="#333">1</text>
<text x="125.80" y="572.60" font-size="5.20" text-anchor="middle" font-weight="normal" fill="#333">5</text>
<text x="135.50" y="571.10" font-size="5.20" text-anchor="middle" font-weight="normal" fill="#333">7</text>
<text x="169.70" y="571.10" font-size="5.20" text-anchor="middle" font-weight="normal" fill="#333">12</text>
<text x="189.60" y="572.60" font-size="5.20" text-anchor="middle" font-weight="normal" fill="#333">17</text>
<text x="190.00" y="562.60" font-size="5.20" text-anchor="middle" font-weight="normal" fill="#333">18</text>
<text x="198.50" y="561.20" font-size="5.20" text-anchor="middle" font-weight="bold" fill="#111">19</text>
<text x="214.50" y="572.60" font-size="5.20" text-anchor="middle" font-weight="normal" fill="#333">22</text>
<text x="225.70" y="571.10" font-size="5.20" text-anchor="middle" font-weight="normal" fill="#333">24</text>
<text x="232.00" y="571.10" font-size="5.20" text-anchor="middle" font-weight="normal" fill="#333">26</text>
<text x="234.20" y="570.80" font-size="5.20" text-anchor="middle" font-weight="normal" fill="#333">30</text>
<text x="232.50" y="560.90" font-size="5.20" text-anchor="middle" font-weight="bold" fill="#111">32</text>
<text x="240.90" y="567.10" font-size="5.20" text-anchor="middle" font-weight="normal" fill="#333">33</text>
<text x="248.90" y="553.00" font-size="5.20" text-anchor="middle" font-weight="normal" fill="#333">35</text>
<text x="257.50" y="567.10" font-size="5.20" text-anchor="middle" font-weight="normal" fill="#333">37</text>
<text x="259.00" y="551.50" font-size="5.20" text-anchor="middle" font-weight="normal" fill="#333">39</text>
<text x="263.50" y="570.40" font-size="5.20" text-anchor="middle" font-weight="normal" fill="#333">41</text>
<text x="273.40" y="436.90" font-size="5.20" text-anchor="middle" font-weight="bold" fill="#111">43</text>
<text x="280.60" y="474.10" font-size="5.20" text-anchor="middle" font-weight="bold" fill="#111">45</text>
<text x="284.30" y="558.90" font-size="5.20" text-anchor="middle" font-weight="normal" fill="#333">46</text>
<text x="283.00" y="564.70" font-size="5.20" text-anchor="middle" font-weight="bold" fill="#111">47</text>
<text x="287.30" y="501.40" font-size="5.20" text-anchor="middle" font-weight="bold" fill="#111">49</text>
<text x="297.00" y="568.90" font-size="5.20" text-anchor="middle" font-weight="normal" fill="#333">51</text>
<text x="305.50" y="562.20" font-size="5.20" text-anchor="middle" font-weight="normal" fill="#333">53</text>
<text x="312.10" y="553.00" font-size="5.20" text-anchor="middle" font-weight="normal" fill="#333">55</text>
<text x="321.80" y="560.90" font-size="5.20" text-anchor="middle" font-weight="normal" fill="#333">57</text>
<text x="325.30" y="524.90" font-size="5.20" text-anchor="middle" font-weight="bold" fill="#111">58</text>
<text x="331.70" y="567.10" font-size="5.20" text-anchor="middle" font-weight="normal" fill="#333">60</text>
<text x="343.40" y="565.90" font-size="5.20" text-anchor="middle" font-weight="normal" fill="#333">61</text>
<text x="351.10" y="568.90" font-size="5.20" text-anchor="middle" font-weight="normal" fill="#333">62</text>
<text x="354.30" y="563.90" font-size="5.20" text-anchor="middle" font-weight="bold" fill="#111">63</text>
<text x="359.30" y="567.10" font-size="5.20" text-anchor="middle" font-weight="normal" fill="#333">64</text>
<text x="387.00" y="564.90" font-size="5.20" text-anchor="middle" font-weight="bold" fill="#111">67</text>
<text x="392.20" y="566.90" font-size="5.20" text-anchor="middle" font-weight="normal" fill="#333">68</text>
<text x="396.30" y="562.40" font-size="5.20" text-anchor="middle" font-weight="normal" fill="#333">70</text>
<text x="403.60" y="567.40" font-size="5.20" text-anchor="middle" font-weight="bold" fill="#111">72</text>
<text x="409.80" y="560.70" font-size="5.20" text-anchor="middle" font-weight="normal" fill="#333">73</text>
<text x="413.50" y="570.30" font-size="5.20" text-anchor="middle" font-weight="bold" fill="#111">74</text>
<text x="416.70" y="563.60" font-size="5.20" text-anchor="middle" font-weight="bold" fill="#111">76</text>
<text x="426.20" y="567.40" font-size="5.20" text-anchor="middle" font-weight="normal" fill="#333">77</text>
<text x="434.60" y="567.40" font-size="5.20" text-anchor="middle" font-weight="normal" fill="#333">78</text>
<text x="436.60" y="556.90" font-size="5.20" text-anchor="middle" font-weight="normal" fill="#333">79</text>
<text x="441.40" y="552.50" font-size="5.20" text-anchor="middle" font-weight="normal" fill="#333">80</text>
<text x="447.50" y="558.70" font-size="5.20" text-anchor="middle" font-weight="normal" fill="#333">82</text>
<text x="451.00" y="554.20" font-size="5.20" text-anchor="middle" font-weight="normal" fill="#333">83</text>
<text x="456.40" y="478.80" font-size="5.20" text-anchor="middle" font-weight="bold" fill="#111">84</text>
<text x="470.00" y="564.40" font-size="5.20" text-anchor="middle" font-weight="normal" fill="#333">85</text>
<text x="474.40" y="556.20" font-size="5.20" text-anchor="middle" font-weight="normal" fill="#333">86</text>
<text x="478.60" y="553.20" font-size="5.20" text-anchor="middle" font-weight="normal" fill="#333">87</text>
<text x="493.20" y="569.90" font-size="5.20" text-anchor="middle" font-weight="normal" fill="#333">88</text>
<text x="503.60" y="569.90" font-size="5.20" text-anchor="middle" font-weight="normal" fill="#333">89</text>
<text x="516.50" y="568.10" font-size="5.20" text-anchor="middle" font-weight="normal" fill="#333">90</text>
<text x="541.30" y="569.40" font-size="5.20" text-anchor="middle" font-weight="normal" fill="#333">91</text>
<text x="548.00" y="567.70" font-size="5.20" text-anchor="middle" font-weight="normal" fill="#333">92</text>
<text x="564.40" y="567.70" font-size="5.20" text-anchor="middle" font-weight="normal" fill="#333">93</text>
<text x="586.50" y="565.90" font-size="5.20" text-anchor="middle" font-weight="normal" fill="#333">94</text>
<text x="604.80" y="569.40" font-size="5.20" text-anchor="middle" font-weight="normal" fill="#333">95</text>
<text x="624.50" y="569.40" font-size="5.20" text-anchor="middle" font-weight="normal" fill="#333">96</text>
<path d="M56.70,558.00 L55.80,566.00" stroke="#222" stroke-width="0.6" marker-end="url(#ahs)"/>
<path d="M190.50,563.00 L193.50,570.00" stroke="#222" stroke-width="0.6" marker-end="url(#ahs)"/>
<path d="M198.20,562.00 L196.50,570.00" stroke="#222" stroke-width="0.6" marker-end="url(#ahs)"/>
<path d="M233.50,561.50 L237.50,569.50" stroke="#222" stroke-width="0.6" marker-end="url(#ahs)"/>
<path d="M248.60,553.50 L246.00,561.00" stroke="#222" stroke-width="0.6" marker-end="url(#ahs)"/>
<path d="M259.00,552.00 L259.00,561.00" stroke="#222" stroke-width="0.6" marker-end="url(#ahs)"/>
<path d="M437.50,557.50 L441.00,566.00" stroke="#222" stroke-width="0.6" marker-end="url(#ahs)"/>
<path d="M441.80,553.00 L444.50,565.50" stroke="#222" stroke-width="0.6" marker-end="url(#ahs)"/>
<path d="M448.00,559.20 L448.50,566.50" stroke="#222" stroke-width="0.6" marker-end="url(#ahs)"/>
<path d="M451.50,554.80 L453.00,566.50" stroke="#222" stroke-width="0.6" marker-end="url(#ahs)"/>
<path d="M474.40,556.80 L474.60,566.50" stroke="#222" stroke-width="0.6" marker-end="url(#ahs)"/>
<path d="M478.50,553.80 L477.50,566.50" stroke="#222" stroke-width="0.6" marker-end="url(#ahs)"/>
<g>
<defs><linearGradient id="hleg" x1="0" y1="0" x2="0" y2="1"><stop offset="0" stop-color="#8c5a3b"/><stop offset="0.45" stop-color="#6a4230"/><stop offset="1" stop-color="#2e211b"/></linearGradient></defs>
<path d="M628.4,486.5 L632.4,487.5 L633.9,496.7 L632.7,509.6 L631.5,512.5 L628,512.5 L629.8,509 L629.8,501.4 L628.6,493 Z" fill="url(#hleg)"/>
<path d="M633.6,488 L637.6,488.6 L638.5,500.2 L639.7,510.7 L640.3,512 L636.8,512 L636.2,501.4 L634.6,493 Z" fill="url(#hleg)"/>
<path d="M657.6,485 L663,486 L661.8,493 L662.6,499 L661.9,511.9 L658.4,511.9 L659.9,509 L660.4,497 L658.4,490 Z" fill="url(#hleg)"/>
<path d="M663.5,484 L670.6,481 L670,495.5 L667.4,499 L668.9,511.9 L665.4,511.9 L664.8,500 L663.8,492 Z" fill="url(#hleg)"/>
<path d="M610.3,457.9 L611.7,459.3 C617,461.5 624,464 630,466.2 C633,467.2 636,468 639.1,468.7 C642.4,468.7 645.7,468.7 649,468.7 C652.9,468.2 656.8,467.8 660.7,467.3 C663,467.8 665.4,468.5 667.7,469.3 C668.6,470.6 669.3,472 670,473.4 C670.4,475.7 670.6,478 670.7,480.4 C670.4,483 669.6,485.8 668.9,488.5 L664,489 L658.4,486.8 C655.2,487 652.1,487.2 649,487.4 C645.1,487.8 641.3,488.1 637.4,488.5 L633,488.3 L628.6,488.5 C628,487.3 627.5,486.2 626.9,485 C626.1,483.5 625.3,481.9 624.5,480.4 C622.6,478 620.6,475.7 618.7,473.4 L615.2,472.2 C612.5,473.6 609.7,475 607,476.3 C606.2,475.4 605.4,474.4 604.7,473.4 C605.5,471.4 606.2,469.5 607,467.5 C607.8,465 608.4,462.5 609.2,460 Z" fill="#8c5a3b"/>
<path d="M611,458.6 C617,460.6 625,463.4 632,466 C634.5,467 636.8,467.9 639.1,468.7 C637,470 635.5,470.5 633.5,470.4 L631.5,472.2 C629,471 626.5,470 624.5,469 C621.5,467.8 619.5,466.5 617.5,465.2 C615,463.2 612.8,461 611,458.6 Z" fill="#2a2420"/>
<path d="M668.8,469.2 C671,470 672.6,471.8 673.3,474 C674.4,482 675,491 674.7,500.2 L672.9,499.6 C672.4,494 671.9,488 671.3,482.5 C670.8,478 670,473.4 668.8,469.2 Z" fill="#2a2420"/>
<path d="M604.7,473.4 C605.4,472 606.4,471.2 607.6,471.4 C608.6,472.8 608.8,474.8 607,476.3 C606.2,475.4 605.4,474.4 604.7,473.4 Z" fill="#5a3a28"/>
</g>
<clipPath id="cp3"><rect x="54.8" y="621.90" width="627" height="134.60"/></clipPath>
<path d="M55.0,743.7L55.2,743.8L55.4,743.9L55.6,744.0L55.8,744.1L56.0,744.2L56.2,744.3L56.4,744.3L56.6,744.4L56.8,744.5L57.0,744.6L57.2,744.7L57.4,744.8L57.6,744.9L57.8,745.0L58.0,745.0L58.2,745.1L58.4,745.2L58.6,745.3L58.8,745.4L59.0,745.4L59.2,745.5L59.4,745.6L59.6,745.7L59.8,745.8L60.0,745.8L60.2,745.9L60.4,746.0L60.6,746.1L60.8,746.1L61.0,746.2L61.2,746.3L61.4,746.4L61.6,746.4L61.8,746.5L62.0,746.6L62.2,746.6L62.4,746.7L62.6,746.8L62.8,746.8L63.0,746.9L63.2,747.0L63.4,747.0L63.6,747.1L63.8,747.2L64.0,747.2L64.2,747.3L64.4,747.4L64.6,747.4L64.8,747.5L65.0,747.5L65.2,747.6L65.4,747.7L65.6,747.7L65.8,747.8L66.0,747.8L66.2,747.9L66.4,747.9L66.6,748.0L66.8,748.1L67.0,748.1L67.2,748.2L67.4,748.2L67.6,748.3L67.8,748.3L68.0,748.4L68.2,748.4L68.4,748.5L68.6,748.5L68.8,748.6L69.0,748.6L69.2,748.7L69.6,748.8L70.0,748.9L70.4,749.0L70.8,749.1L71.2,749.2L71.6,749.3L72.0,749.4L72.4,749.4L72.8,749.5L73.2,749.6L73.6,749.7L74.0,749.8L74.4,749.9L74.8,749.9L75.2,750.0L75.6,750.1L76.0,750.2L76.4,750.2L76.8,750.3L77.2,750.4L77.6,750.4L78.0,750.5L78.4,750.6L78.8,750.6L79.2,750.7L79.6,750.8L80.0,750.8L80.4,750.9L80.8,751.0L81.2,751.0L81.6,751.1L82.0,751.1L82.4,751.2L82.8,751.2L83.2,751.3L83.6,751.3L84.0,751.4L84.4,751.4L85.0,751.5L85.6,751.6L86.2,751.7L86.8,751.7L87.4,751.8L88.0,751.9L88.6,751.9L89.2,752.0L89.8,752.0L90.4,752.1L91.0,752.2L91.6,752.2L92.2,752.3L92.8,752.3L93.4,752.4L94.2,752.4L95.0,752.5L95.8,752.6L96.6,752.6L97.4,752.7L98.2,752.7L99.0,752.8L99.8,752.8L100.8,752.9L101.8,752.9L102.8,753.0L103.8,753.1L104.8,753.1L106.0,753.2L107.2,753.2L108.2,753.2L108.4,753.2L108.6,752.9L108.7,752.8L108.8,752.6L108.8,752.6L109.0,752.5L109.2,752.6L109.2,752.7L109.3,752.8L109.4,753.0L109.6,753.2L109.8,753.3L110.4,753.4L111.8,753.4L113.4,753.5L115.0,753.5L116.8,753.6L118.8,753.6L120.8,753.7L123.0,753.7L125.6,753.8L126.2,753.8L126.4,753.7L126.6,753.4L126.7,753.3L126.8,753.1L126.8,753.1L127.0,753.0L127.2,753.1L127.2,753.2L127.3,753.3L127.4,753.5L127.6,753.7L127.8,753.8L129.2,753.8L131.4,753.8L131.6,753.6L131.8,752.6L132.0,749.7L132.2,743.9L132.3,741.9L132.4,737.2L132.4,736.4L132.6,734.1L132.8,736.4L132.8,737.2L132.9,741.9L133.0,744.0L133.2,749.7L133.4,752.6L133.6,753.6L133.8,753.9L134.6,753.9L137.8,754.0L141.0,754.0L144.2,754.0L147.4,754.0L149.8,754.0L150.0,753.9L150.2,753.5L150.4,752.8L150.4,752.8L150.5,752.2L150.6,752.1L150.7,752.0L150.8,752.1L150.9,752.2L151.0,752.8L151.0,752.8L151.2,753.5L151.4,753.9L151.6,754.0L154.8,754.1L158.0,754.1L159.0,754.1L159.2,754.0L159.4,753.5L159.6,751.7L159.8,747.5L160.0,740.4L160.0,739.3L160.2,733.0L160.2,732.6L160.4,729.7L160.6,732.6L160.6,733.0L160.8,739.3L160.8,740.4L161.0,747.5L161.2,751.7L161.4,753.5L161.6,754.0L161.8,754.1L165.0,754.1L168.2,754.1L168.4,753.9L168.6,753.4L168.7,753.1L168.8,752.8L168.8,752.7L169.0,752.5L169.2,752.7L169.2,752.8L169.3,753.1L169.4,753.4L169.6,753.9L169.8,754.1L170.0,754.1L171.6,754.1L171.8,754.1L172.0,753.8L172.2,753.2L172.3,752.8L172.4,752.4L172.4,752.3L172.6,752.0L172.8,752.3L172.8,752.4L172.9,752.8L173.0,753.2L173.2,753.8L173.4,754.1L173.6,754.1L176.2,754.1L176.4,753.9L176.6,753.4L176.7,753.2L176.8,752.8L176.8,752.7L177.0,752.5L177.2,752.7L177.2,752.8L177.3,753.2L177.4,753.4L177.6,753.9L177.8,754.1L178.0,754.2L180.4,754.2L180.6,754.1L180.8,753.8L181.0,753.2L181.1,752.9L181.2,752.4L181.2,752.3L181.4,752.0L181.6,752.3L181.6,752.4L181.7,752.9L181.8,753.2L182.0,753.8L182.2,754.1L182.4,754.2L183.0,754.2L183.2,754.1L183.4,753.8L183.6,753.2L183.7,752.9L183.8,752.4L183.8,752.3L184.0,752.0L184.2,752.3L184.2,752.4L184.3,752.9L184.4,753.2L184.6,753.8L184.8,754.1L185.0,754.2L188.2,754.2L188.6,754.2L188.8,754.1L189.0,753.8L189.2,753.0L189.3,752.6L189.4,752.0L189.4,751.8L189.6,751.5L189.8,751.8L189.8,752.0L189.9,752.6L190.0,753.0L190.2,753.8L190.4,754.1L190.6,754.2L191.6,754.1L191.8,753.9L192.0,753.3L192.2,752.3L192.2,752.2L192.3,751.4L192.4,751.2L192.5,751.0L192.6,751.2L192.7,751.4L192.8,752.2L192.8,752.3L193.0,753.3L193.2,753.9L193.4,754.1L194.8,754.1L195.0,753.9L195.2,753.3L195.4,752.3L195.4,752.2L195.5,751.4L195.6,751.2L195.7,751.0L195.8,751.2L195.9,751.4L196.0,752.2L196.0,752.3L196.2,753.3L196.4,753.9L196.6,754.1L198.6,754.2L198.8,754.0L199.0,753.6L199.2,752.9L199.2,752.8L199.3,752.3L199.4,752.1L199.5,752.0L199.6,752.1L199.7,752.3L199.8,752.8L199.8,752.9L200.0,753.6L200.2,754.0L200.4,754.2L203.6,754.2L205.0,754.2L205.2,754.1L205.4,753.9L205.6,753.2L205.7,752.9L205.8,752.4L205.8,752.3L206.0,752.0L206.2,752.3L206.2,752.4L206.3,752.9L206.4,753.2L206.6,753.9L206.8,754.1L207.0,754.2L210.2,754.2L213.4,754.2L214.0,754.2L214.2,754.1L214.4,753.9L214.6,753.5L214.6,753.5L214.8,753.2L214.8,753.1L215.0,753.0L215.2,753.1L215.2,753.2L215.4,753.5L215.4,753.5L215.6,753.9L215.8,754.1L216.0,754.2L219.2,754.2L222.4,754.2L223.2,754.2L223.4,754.1L223.6,753.9L223.8,753.1L224.0,751.7L224.0,751.6L224.1,750.6L224.2,750.3L224.3,750.1L224.4,750.3L224.5,750.6L224.6,751.6L224.6,751.7L224.8,753.1L225.0,753.9L225.2,754.1L225.4,754.2L228.6,754.2L229.0,754.2L229.2,754.1L229.4,753.9L229.6,753.2L229.7,752.9L229.8,752.4L229.8,752.3L230.0,752.0L230.2,752.3L230.2,752.4L230.3,752.9L230.4,753.2L230.6,753.9L230.8,754.1L231.0,754.2L233.0,754.2L233.2,754.0L233.4,753.5L233.6,752.4L233.7,751.6L233.8,750.8L233.8,750.5L234.0,750.0L234.2,750.5L234.2,750.8L234.3,751.6L234.4,752.4L234.6,753.5L234.8,754.0L235.0,754.1L235.2,754.1L235.4,753.6L235.6,751.8L235.8,746.7L236.0,736.5L236.1,727.7L236.2,722.6L236.3,715.6L236.4,712.0L236.5,710.4L236.6,711.9L236.7,715.2L236.8,721.6L236.9,725.7L237.0,731.2L237.2,727.5L237.4,698.9L237.6,644.7L237.6,636.0L237.8,586.0L237.8,582.7L238.0,560.0L238.2,582.8L238.2,586.1L238.4,636.4L238.4,645.2L238.6,701.3L238.8,734.9L239.0,748.9L239.2,753.1L239.4,753.9L239.6,753.8L239.8,752.7L240.0,750.2L240.1,748.6L240.2,746.7L240.2,746.1L240.4,745.0L240.6,746.1L240.6,746.7L240.7,748.6L240.8,750.1L241.0,752.7L241.2,753.8L241.4,754.0L242.8,754.0L243.0,754.0L243.2,753.3L243.4,750.1L243.6,740.5L243.8,723.9L243.8,722.9L243.9,710.1L244.0,706.8L244.1,704.3L244.2,706.8L244.3,710.1L244.4,722.9L244.4,723.8L244.6,740.4L244.8,750.1L245.0,753.2L245.2,753.9L245.4,753.9L246.6,753.9L246.8,753.9L247.0,753.8L247.2,753.6L247.4,753.1L247.6,752.3L247.6,752.1L247.8,751.4L247.8,751.3L248.0,751.0L248.2,751.3L248.2,751.4L248.4,752.1L248.4,752.2L248.6,753.0L248.8,753.5L249.0,753.6L250.4,753.6L251.0,753.5L251.6,753.4L252.0,753.4L252.4,753.3L252.8,753.3L253.0,753.2L253.2,753.2L253.4,752.9L253.6,751.8L253.8,748.5L254.0,742.8L254.0,742.4L254.1,738.0L254.2,736.9L254.3,736.0L254.4,736.8L254.5,738.0L254.6,742.3L254.6,742.7L254.8,748.3L255.0,751.6L255.2,752.6L255.4,752.8L255.8,752.8L256.0,752.7L256.2,752.6L256.4,752.1L256.6,751.1L256.7,750.5L256.8,749.7L256.8,749.4L257.0,749.0L257.2,749.4L257.2,749.6L257.3,750.3L257.4,750.9L257.6,751.8L257.8,752.1L258.0,752.0L258.2,751.8L258.4,751.4L258.6,750.9L258.8,750.2L259.0,749.4L259.2,748.5L259.4,747.6L259.6,746.8L259.8,746.2L260.0,746.0L260.2,746.1L260.4,746.6L260.6,747.3L260.8,748.1L261.0,748.9L261.2,749.6L261.4,750.1L261.6,750.6L261.8,750.8L262.0,750.8L262.2,750.3L262.4,749.2L262.6,747.1L262.6,746.8L262.8,745.0L262.8,744.9L263.0,744.0L263.2,744.8L263.2,744.9L263.4,746.6L263.4,746.9L263.6,748.8L263.8,750.0L264.0,750.4L264.2,750.5L264.4,750.5L264.6,750.4L264.8,750.3L265.0,750.1L265.2,749.4L265.4,748.0L265.6,745.6L265.6,745.3L265.8,743.1L265.8,743.0L266.0,742.0L266.2,742.9L266.2,743.0L266.4,745.0L266.4,745.3L266.6,747.6L266.8,748.8L267.0,749.2L267.2,749.1L267.4,748.3L267.6,747.2L267.6,747.0L267.8,745.8L267.8,745.7L268.0,744.9L268.2,744.7L268.2,744.7L268.4,744.7L268.4,744.7L268.6,744.4L268.8,743.2L269.0,741.2L269.2,738.4L269.4,734.7L269.6,727.9L269.8,707.6L270.0,653.8L270.1,613.1L270.1,604.5L270.2,570.8L270.3,549.0L270.4,523.5L270.5,542.6L270.6,561.6L270.7,591.8L270.7,599.6L270.8,636.2L271.0,682.6L271.2,696.7L271.3,697.8L271.4,696.6L271.6,682.5L271.8,636.1L271.9,599.6L271.9,591.8L272.0,561.6L272.1,542.6L272.2,523.5L272.3,548.9L272.4,570.6L272.5,604.1L272.5,612.8L272.6,653.3L272.8,706.9L273.0,727.0L273.2,733.7L273.4,737.3L273.6,740.1L273.8,742.2L274.0,743.6L274.2,744.1L274.4,743.3L274.6,741.1L274.6,740.8L274.8,738.6L274.8,738.5L275.0,737.6L275.2,738.8L275.2,739.0L275.4,741.5L275.4,742.0L275.6,744.8L275.8,746.4L276.0,747.1L276.2,747.3L277.0,747.3L277.2,747.2L277.4,746.8L277.6,745.7L277.8,743.0L278.0,738.5L278.0,737.8L278.2,733.7L278.2,733.4L278.4,731.6L278.6,733.4L278.6,733.7L278.8,737.7L278.8,738.4L279.0,742.9L279.2,745.6L279.4,746.5L279.6,744.6L279.8,731.9L280.0,692.3L280.1,654.9L280.2,629.3L280.3,612.9L280.4,595.0L280.5,612.9L280.6,629.3L280.7,654.9L280.8,692.4L281.0,731.8L281.2,744.1L281.4,744.9L281.6,742.3L281.7,739.8L281.8,738.4L281.9,736.4L282.0,735.4L282.1,735.0L282.2,735.5L282.3,736.5L282.4,738.5L282.5,739.9L282.6,742.4L282.8,745.4L283.0,746.9L283.2,747.4L283.4,747.6L283.6,747.6L284.0,747.7L284.4,747.8L284.6,747.8L284.8,747.5L285.0,745.5L285.2,737.6L285.4,718.7L285.5,707.1L285.6,693.3L285.6,688.6L285.8,680.7L286.0,688.7L286.0,693.4L286.1,707.3L286.2,718.9L286.4,737.8L286.6,745.4L286.8,746.5L287.0,744.8L287.1,743.2L287.2,742.2L287.3,740.8L287.4,740.0L287.5,739.6L287.6,739.8L287.7,740.4L287.8,741.6L287.9,742.4L288.0,743.7L288.2,744.8L288.4,744.7L288.6,743.6L288.8,742.0L289.0,740.4L289.2,739.0L289.4,738.1L289.6,737.8L289.8,738.2L290.0,739.3L290.2,740.8L290.4,742.5L290.6,744.3L290.8,745.8L291.0,747.0L291.2,747.4L291.4,746.7L291.6,744.9L291.6,744.6L291.8,742.7L291.8,742.6L292.0,741.9L292.2,742.9L292.2,743.1L292.4,745.2L292.4,745.6L292.6,748.0L292.8,749.4L293.0,750.1L293.2,750.3L293.4,750.4L293.6,750.3L293.8,749.8L294.0,747.9L294.2,744.7L294.2,744.6L294.3,742.1L294.4,741.5L294.5,741.0L294.6,741.5L294.7,742.2L294.8,744.7L294.8,744.9L295.0,748.3L295.2,750.2L295.4,750.9L295.6,751.1L295.8,751.2L296.0,751.2L296.2,751.3L296.4,751.3L296.6,751.4L297.0,751.4L297.2,751.2L297.4,750.6L297.6,749.6L297.6,749.4L297.8,748.5L297.8,748.4L298.0,748.0L298.2,748.5L298.2,748.6L298.4,749.6L298.4,749.8L298.6,750.9L298.8,751.6L299.0,752.0L299.2,752.1L299.4,752.2L299.8,752.2L300.0,752.2L300.2,752.1L300.4,751.7L300.6,751.0L300.6,750.9L300.8,750.3L300.8,750.3L301.0,750.0L301.2,750.3L301.2,750.4L301.4,751.1L301.4,751.2L301.6,752.0L301.8,752.4L302.0,752.7L302.2,752.8L302.4,752.8L302.8,752.9L303.0,752.9L303.2,752.8L303.4,752.4L303.6,751.2L303.7,750.6L303.8,749.7L303.8,749.5L304.0,749.0L304.2,749.5L304.2,749.8L304.3,750.7L304.4,751.4L304.6,752.6L304.8,753.1L305.0,753.2L305.4,753.3L305.6,753.3L305.8,752.9L306.0,751.9L306.2,750.1L306.2,750.0L306.3,748.6L306.4,748.3L306.5,748.0L306.6,748.3L306.7,748.7L306.8,750.1L306.8,750.2L307.0,752.0L307.2,753.1L307.4,753.5L307.6,753.6L307.8,753.4L308.0,752.3L308.2,746.6L308.4,729.0L308.6,698.8L308.6,697.1L308.7,673.9L308.8,667.9L308.9,663.3L309.0,667.9L309.1,673.9L309.2,697.1L309.2,698.9L309.4,729.1L309.6,746.7L309.8,752.4L310.0,753.6L310.2,753.6L310.4,752.9L310.6,751.3L310.7,750.3L310.8,749.1L310.8,748.7L311.0,748.0L311.2,748.7L311.2,749.1L311.3,750.3L311.4,751.3L311.6,753.0L311.8,753.7L312.0,753.9L312.4,753.9L312.8,753.9L313.0,753.8L313.2,753.3L313.4,751.5L313.6,748.5L313.6,748.4L313.7,746.1L313.8,745.5L313.9,745.0L314.0,745.5L314.1,746.1L314.2,748.4L314.2,748.6L314.4,751.6L314.6,753.3L314.8,753.9L315.0,754.0L315.6,754.0L315.8,753.7L316.0,751.6L316.2,743.6L316.4,724.3L316.5,712.6L316.6,698.5L316.6,693.7L316.8,685.7L317.0,693.7L317.0,698.6L317.1,712.6L317.2,724.4L317.4,743.6L317.6,751.7L317.8,753.7L318.0,754.1L318.2,754.1L318.4,754.0L318.6,753.4L318.8,751.6L319.0,748.6L319.0,748.4L319.1,746.1L319.2,745.5L319.3,745.0L319.4,745.5L319.5,746.1L319.6,748.4L319.6,748.6L319.8,751.7L320.0,753.4L320.2,753.8L320.4,753.2L320.6,751.5L320.7,750.4L320.8,749.2L320.8,748.7L321.0,748.0L321.2,748.7L321.2,749.2L321.3,750.4L321.4,751.5L321.6,753.2L321.8,753.9L322.0,754.1L322.2,754.2L322.4,754.1L322.6,753.6L322.8,751.2L323.0,743.8L323.2,731.1L323.2,730.4L323.3,720.7L323.4,718.1L323.5,716.2L323.6,718.1L323.7,720.7L323.8,730.4L323.8,731.1L324.0,743.8L324.2,751.2L324.4,753.6L324.6,754.1L324.8,754.2L328.0,754.2L330.0,754.2L330.2,754.1L330.4,753.7L330.6,752.9L330.8,751.6L330.8,751.3L331.0,750.1L331.0,750.1L331.2,749.5L331.4,750.1L331.4,750.1L331.6,751.3L331.6,751.6L331.8,752.9L332.0,753.7L332.2,754.1L332.4,754.2L335.6,754.2L338.8,754.2L342.0,754.2L344.0,754.2L344.2,754.0L344.4,753.7L344.6,753.2L344.6,753.2L344.8,752.7L344.8,752.7L345.0,752.5L345.2,752.7L345.2,752.7L345.4,753.2L345.4,753.2L345.6,753.7L345.8,754.0L346.0,754.2L349.2,754.2L352.4,754.2L353.4,754.2L353.6,754.1L353.8,753.9L354.0,753.3L354.2,752.4L354.2,752.3L354.4,751.4L354.4,751.4L354.6,751.0L354.8,751.4L354.8,751.4L355.0,752.3L355.0,752.4L355.2,753.3L355.4,753.9L355.6,754.1L355.8,754.2L359.0,754.2L362.2,754.2L365.4,754.2L368.6,754.2L371.8,754.2L375.0,754.2L378.2,754.2L381.4,754.2L384.6,754.2L384.8,754.1L385.0,753.7L385.2,753.2L385.2,753.1L385.3,752.7L385.4,752.6L385.5,752.5L385.6,752.6L385.7,752.7L385.8,753.1L385.8,753.2L386.0,753.7L386.2,754.1L386.4,754.2L389.6,754.2L392.8,754.2L393.0,754.1L393.2,753.9L393.4,753.5L393.5,753.2L393.6,752.8L393.6,752.7L393.8,752.5L394.0,752.7L394.0,752.8L394.1,753.2L394.2,753.5L394.4,753.9L394.6,754.1L394.8,754.2L398.0,754.2L399.4,754.2L399.6,754.1L399.8,753.9L400.0,753.5L400.0,753.4L400.1,753.1L400.2,753.1L400.3,753.0L400.4,753.1L400.5,753.1L400.6,753.4L400.6,753.5L400.8,753.9L401.0,754.1L401.2,754.2L404.4,754.2L407.6,754.2L410.8,754.2L414.0,754.2L415.8,754.1L416.0,754.1L416.2,754.0L416.4,753.9L416.6,753.7L416.8,753.5L417.0,753.2L417.2,752.9L417.4,752.5L417.6,752.3L417.8,752.1L418.0,752.0L418.2,752.1L418.4,752.3L418.6,752.5L418.8,752.9L419.0,753.2L419.2,753.5L419.4,753.7L419.6,753.9L419.8,754.0L420.0,754.1L420.4,754.2L423.6,754.2L426.8,754.2L430.0,754.2L433.2,754.2L436.4,754.2L439.6,754.2L442.0,754.2L442.2,754.1L442.4,753.9L442.6,753.5L442.7,753.2L442.8,752.8L442.8,752.7L443.0,752.5L443.2,752.7L443.2,752.8L443.3,753.2L443.4,753.5L443.6,753.9L443.8,754.1L444.0,754.2L447.2,754.2L447.4,754.1L447.6,753.9L447.8,753.5L447.9,753.2L448.0,752.8L448.0,752.7L448.2,752.5L448.4,752.7L448.4,752.8L448.5,753.2L448.6,753.5L448.8,753.9L449.0,754.1L449.2,754.2L452.4,754.2L453.6,754.2L453.8,754.0L454.0,753.4L454.2,751.7L454.4,748.2L454.5,747.0L454.6,744.2L454.6,743.7L454.8,742.3L455.0,743.7L455.0,744.2L455.1,747.0L455.2,748.2L455.4,751.7L455.6,753.4L455.8,754.0L456.0,754.2L459.2,754.2L462.4,754.2L465.6,754.2L468.4,754.2L468.6,754.1L468.8,753.9L469.0,753.5L469.0,753.4L469.1,753.1L469.2,753.1L469.3,753.0L469.4,753.1L469.5,753.1L469.6,753.4L469.6,753.5L469.8,753.9L470.0,754.1L470.2,754.2L473.4,754.2L476.6,754.2L479.8,754.2L483.0,754.2L486.2,754.2L489.4,754.2L492.6,754.2L493.0,754.2L493.2,754.0L493.4,753.7L493.5,753.5L493.6,753.2L493.6,753.1L493.8,753.0L494.0,753.1L494.0,753.2L494.1,753.5L494.2,753.7L494.4,754.0L494.6,754.2L497.8,754.2L501.0,754.2L504.2,754.2L507.4,754.2L510.6,754.2L513.8,754.2L517.0,754.2L520.2,754.2L523.4,754.2L526.6,754.2L529.8,754.2L533.0,754.2L536.2,754.2L539.4,754.2L542.6,754.2L545.8,754.2L546.0,754.1L546.2,754.0L546.4,753.6L546.6,753.0L546.6,752.9L546.8,752.3L546.8,752.3L547.0,752.0L547.2,752.3L547.2,752.3L547.4,752.9L547.4,753.0L547.6,753.6L547.8,754.0L548.0,754.1L548.4,754.2L551.6,754.2L554.8,754.2L558.0,754.2L561.2,754.2L564.4,754.2L567.6,754.2L570.8,754.2L574.0,754.2L577.2,754.2L580.4,754.2L583.6,754.2L586.8,754.2L590.0,754.2L593.2,754.2L596.4,754.2L599.6,754.2L602.8,754.2L606.0,754.2L609.2,754.2L612.4,754.2L615.6,754.2L616.4,754.2L616.6,754.0L616.8,753.7L617.0,753.2L617.0,753.1L617.2,752.6L617.2,752.6L617.4,752.4L617.6,752.6L617.6,752.6L617.8,753.1L617.8,753.2L618.0,753.7L618.2,754.0L618.4,754.2L621.6,754.2L624.8,754.2L628.0,754.2L631.2,754.2L634.4,754.2L637.6,754.2L640.8,754.2L644.0,754.2L647.2,754.2L650.4,754.2L651.0,754.2L651.2,754.1L651.4,753.7L651.6,752.2L651.8,747.7L652.0,738.8L652.1,731.2L652.2,726.8L652.3,720.8L652.4,717.6L652.5,716.3L652.6,717.6L652.7,720.8L652.8,726.8L652.9,731.2L653.0,738.8L653.2,747.7L653.4,752.2L653.6,753.7L653.8,754.1L654.0,754.2L657.2,754.2L660.4,754.2L663.6,754.2L666.8,754.2L670.0,754.2L673.2,754.2L676.4,754.2L679.6,754.2L680.2,754.2" fill="none" stroke="#f8b43c" stroke-width="1.00" stroke-linejoin="round" clip-path="url(#cp3)"/>
<g stroke="#333" stroke-width="0.9" fill="none">
<path d="M54.4,622.30 V756.50 M52,756.50 H680.08"/>
<path d="M51.8,756.50H54.4M52.8,751.18H54.4M52.8,745.86H54.4M52.8,740.54H54.4M52.8,735.22H54.4M51.8,729.90H54.4M52.8,724.58H54.4M52.8,719.26H54.4M52.8,713.94H54.4M52.8,708.62H54.4M51.8,703.30H54.4M52.8,697.98H54.4M52.8,692.66H54.4M52.8,687.34H54.4M52.8,682.02H54.4M51.8,676.70H54.4M52.8,671.38H54.4M52.8,666.06H54.4M52.8,660.74H54.4M52.8,655.42H54.4M51.8,650.10H54.4M52.8,644.78H54.4M52.8,639.46H54.4M52.8,634.14H54.4M52.8,628.82H54.4M51.8,623.50H54.4"/>
<path d="M57.02,756.50V759.70M66.31,756.50V759.70M75.60,756.50V763.00M84.89,756.50V759.70M94.18,756.50V759.70M103.48,756.50V759.70M112.77,756.50V759.70M122.06,756.50V763.00M131.35,756.50V759.70M140.64,756.50V759.70M149.94,756.50V759.70M159.23,756.50V759.70M168.52,756.50V763.00M177.81,756.50V759.70M187.10,756.50V759.70M196.40,756.50V759.70M205.69,756.50V759.70M214.98,756.50V763.00M224.27,756.50V759.70M233.56,756.50V759.70M242.86,756.50V759.70M252.15,756.50V759.70M261.44,756.50V763.00M270.73,756.50V759.70M280.02,756.50V759.70M289.32,756.50V759.70M298.61,756.50V759.70M307.90,756.50V763.00M317.19,756.50V759.70M326.48,756.50V759.70M335.78,756.50V759.70M345.07,756.50V759.70M354.36,756.50V763.00M363.65,756.50V759.70M372.94,756.50V759.70M382.24,756.50V759.70M391.53,756.50V759.70M400.82,756.50V763.00M410.11,756.50V759.70M419.40,756.50V759.70M428.70,756.50V759.70M437.99,756.50V759.70M447.28,756.50V763.00M456.57,756.50V759.70M465.86,756.50V759.70M475.16,756.50V759.70M484.45,756.50V759.70M493.74,756.50V763.00M503.03,756.50V759.70M512.32,756.50V759.70M521.62,756.50V759.70M530.91,756.50V759.70M540.20,756.50V763.00M549.49,756.50V759.70M558.78,756.50V759.70M568.08,756.50V759.70M577.37,756.50V759.70M586.66,756.50V763.00M595.95,756.50V759.70M605.24,756.50V759.70M614.54,756.50V759.70M623.83,756.50V759.70M633.12,756.50V763.00M642.41,756.50V759.70M651.70,756.50V759.70M661.00,756.50V759.70M670.29,756.50V759.70M679.58,756.50V763.00"/>
</g>
<text x="27.70" y="759.40" font-size="8.20" text-anchor="start" font-weight="normal" fill="#222" textLength="19.80" lengthAdjust="spacingAndGlyphs" class="ax">0.0</text>
<text x="27.70" y="732.80" font-size="8.20" text-anchor="start" font-weight="normal" fill="#222" textLength="19.80" lengthAdjust="spacingAndGlyphs" class="ax">0.2</text>
<text x="27.70" y="706.20" font-size="8.20" text-anchor="start" font-weight="normal" fill="#222" textLength="19.80" lengthAdjust="spacingAndGlyphs" class="ax">0.4</text>
<text x="27.70" y="679.60" font-size="8.20" text-anchor="start" font-weight="normal" fill="#222" textLength="19.80" lengthAdjust="spacingAndGlyphs" class="ax">0.6</text>
<text x="27.70" y="653.00" font-size="8.20" text-anchor="start" font-weight="normal" fill="#222" textLength="19.80" lengthAdjust="spacingAndGlyphs" class="ax">0.8</text>
<text x="26.40" y="626.40" font-size="8.20" text-anchor="start" font-weight="normal" fill="#222" textLength="18.20" lengthAdjust="spacingAndGlyphs" class="ax">1.0</text>
<text x="72.05" y="774.80" font-size="8.80" text-anchor="start" font-weight="normal" fill="#222" textLength="7.70" lengthAdjust="spacingAndGlyphs" class="ax">4</text>
<text x="118.51" y="774.80" font-size="8.80" text-anchor="start" font-weight="normal" fill="#222" textLength="7.70" lengthAdjust="spacingAndGlyphs" class="ax">6</text>
<text x="164.97" y="774.80" font-size="8.80" text-anchor="start" font-weight="normal" fill="#222" textLength="7.70" lengthAdjust="spacingAndGlyphs" class="ax">8</text>
<text x="207.13" y="774.80" font-size="8.80" text-anchor="start" font-weight="normal" fill="#222" textLength="11.70" lengthAdjust="spacingAndGlyphs" class="ax">10</text>
<text x="253.59" y="774.80" font-size="8.80" text-anchor="start" font-weight="normal" fill="#222" textLength="11.70" lengthAdjust="spacingAndGlyphs" class="ax">12</text>
<text x="300.05" y="774.80" font-size="8.80" text-anchor="start" font-weight="normal" fill="#222" textLength="11.70" lengthAdjust="spacingAndGlyphs" class="ax">14</text>
<text x="346.51" y="774.80" font-size="8.80" text-anchor="start" font-weight="normal" fill="#222" textLength="11.70" lengthAdjust="spacingAndGlyphs" class="ax">16</text>
<text x="392.97" y="774.80" font-size="8.80" text-anchor="start" font-weight="normal" fill="#222" textLength="11.70" lengthAdjust="spacingAndGlyphs" class="ax">18</text>
<text x="439.43" y="774.80" font-size="8.80" text-anchor="start" font-weight="normal" fill="#222" textLength="11.70" lengthAdjust="spacingAndGlyphs" class="ax">20</text>
<text x="485.89" y="774.80" font-size="8.80" text-anchor="start" font-weight="normal" fill="#222" textLength="11.70" lengthAdjust="spacingAndGlyphs" class="ax">22</text>
<text x="532.35" y="774.80" font-size="8.80" text-anchor="start" font-weight="normal" fill="#222" textLength="11.70" lengthAdjust="spacingAndGlyphs" class="ax">24</text>
<text x="578.81" y="774.80" font-size="8.80" text-anchor="start" font-weight="normal" fill="#222" textLength="11.70" lengthAdjust="spacingAndGlyphs" class="ax">26</text>
<text x="625.27" y="774.80" font-size="8.80" text-anchor="start" font-weight="normal" fill="#222" textLength="11.70" lengthAdjust="spacingAndGlyphs" class="ax">28</text>
<text x="671.73" y="774.80" font-size="8.80" text-anchor="start" font-weight="normal" fill="#222" textLength="11.70" lengthAdjust="spacingAndGlyphs" class="ax">30</text>
<text transform="translate(8.4,683.30) rotate(-90)" x="0" y="0" font-size="8.9" text-anchor="middle" fill="#222" textLength="113" lengthAdjust="spacingAndGlyphs">Abundance (X10<tspan font-size="5.5" dy="-3">5</tspan><tspan dy="3">)</tspan></text>
<text x="649.50" y="641.30" font-size="23.20" text-anchor="start" font-weight="bold" fill="#000">d</text>
<text x="109.10" y="752.90" font-size="5.20" text-anchor="middle" font-weight="normal" fill="#333">4</text>
<text x="125.80" y="752.90" font-size="5.20" text-anchor="middle" font-weight="normal" fill="#333">5</text>
<text x="135.80" y="752.90" font-size="5.20" text-anchor="middle" font-weight="normal" fill="#333">7</text>
<text x="160.40" y="728.10" font-size="5.20" text-anchor="middle" font-weight="normal" fill="#333">9</text>
<text x="169.00" y="754.90" font-size="5.20" text-anchor="middle" font-weight="normal" fill="#333">11</text>
<text x="172.60" y="743.90" font-size="5.20" text-anchor="middle" font-weight="normal" fill="#333">12</text>
<text x="177.00" y="754.90" font-size="5.20" text-anchor="middle" font-weight="normal" fill="#333">13</text>
<text x="181.40" y="747.70" font-size="5.20" text-anchor="middle" font-weight="normal" fill="#333">14</text>
<text x="184.00" y="754.90" font-size="5.20" text-anchor="middle" font-weight="normal" fill="#333">15</text>
<text x="189.60" y="748.90" font-size="5.20" text-anchor="middle" font-weight="normal" fill="#333">16</text>
<text x="192.50" y="754.90" font-size="5.20" text-anchor="middle" font-weight="normal" fill="#333">18</text>
<text x="195.70" y="743.90" font-size="5.20" text-anchor="middle" font-weight="normal" fill="#333">19</text>
<text x="199.50" y="747.90" font-size="5.20" text-anchor="middle" font-weight="normal" fill="#333">20</text>
<text x="201.00" y="754.90" font-size="5.20" text-anchor="middle" font-weight="normal" fill="#333">21</text>
<text x="206.00" y="746.20" font-size="5.20" text-anchor="middle" font-weight="normal" fill="#333">22</text>
<text x="224.30" y="749.10" font-size="5.20" text-anchor="middle" font-weight="normal" fill="#333">24</text>
<text x="233.50" y="749.10" font-size="5.20" text-anchor="middle" font-weight="normal" fill="#333">27</text>
<text x="237.70" y="619.80" font-size="5.20" text-anchor="middle" font-weight="bold" fill="#111">29</text>
<text x="240.40" y="739.80" font-size="5.20" text-anchor="middle" font-weight="normal" fill="#333">33</text>
<text x="240.40" y="723.70" font-size="5.20" text-anchor="middle" font-weight="bold" fill="#111">34</text>
<text x="244.20" y="703.30" font-size="5.20" text-anchor="middle" font-weight="normal" fill="#333">35</text>
<text x="248.60" y="750.90" font-size="5.20" text-anchor="middle" font-weight="normal" fill="#333">38</text>
<text x="271.20" y="621.10" font-size="5.20" text-anchor="middle" font-weight="bold" fill="#111">42</text>
<text x="280.60" y="621.90" font-size="5.20" text-anchor="middle" font-weight="normal" fill="#333">46</text>
<text x="276.50" y="728.00" font-size="5.20" text-anchor="middle" font-weight="normal" fill="#333">45</text>
<text x="283.30" y="695.50" font-size="5.20" text-anchor="middle" font-weight="bold" fill="#111">47</text>
<text x="286.60" y="678.90" font-size="5.20" text-anchor="middle" font-weight="bold" fill="#111">49</text>
<text x="294.50" y="739.70" font-size="5.20" text-anchor="middle" font-weight="normal" fill="#333">51</text>
<text x="304.40" y="748.90" font-size="5.20" text-anchor="middle" font-weight="normal" fill="#333">53</text>
<text x="309.40" y="661.50" font-size="5.20" text-anchor="middle" font-weight="normal" fill="#333">54</text>
<text x="316.80" y="684.40" font-size="5.20" text-anchor="middle" font-weight="normal" fill="#333">56</text>
<text x="319.80" y="745.40" font-size="5.20" text-anchor="middle" font-weight="normal" fill="#333">57</text>
<text x="323.30" y="716.10" font-size="5.20" text-anchor="middle" font-weight="bold" fill="#111">58</text>
<text x="354.30" y="749.60" font-size="5.20" text-anchor="middle" font-weight="bold" fill="#111">63</text>
<text x="357.60" y="753.30" font-size="5.20" text-anchor="middle" font-weight="normal" fill="#333">64</text>
<text x="385.80" y="751.80" font-size="5.20" text-anchor="middle" font-weight="bold" fill="#111">67</text>
<text x="393.60" y="751.80" font-size="5.20" text-anchor="middle" font-weight="normal" fill="#333">70</text>
<text x="400.30" y="755.40" font-size="5.20" text-anchor="middle" font-weight="bold" fill="#111">72</text>
<text x="443.00" y="751.80" font-size="5.20" text-anchor="middle" font-weight="normal" fill="#333">79</text>
<text x="448.20" y="753.50" font-size="5.20" text-anchor="middle" font-weight="bold" fill="#111">81</text>
<text x="454.80" y="741.10" font-size="5.20" text-anchor="middle" font-weight="bold" fill="#111">84</text>
<text x="469.30" y="753.50" font-size="5.20" text-anchor="middle" font-weight="normal" fill="#333">85</text>
<text x="493.80" y="753.50" font-size="5.20" text-anchor="middle" font-weight="normal" fill="#333">88</text>
<text x="547.50" y="751.80" font-size="5.20" text-anchor="middle" font-weight="normal" fill="#333">92</text>
<path d="M172.60,744.50 L172.60,752.00" stroke="#222" stroke-width="0.6" marker-end="url(#ahs)"/>
<path d="M181.40,748.00 L181.00,752.00" stroke="#222" stroke-width="0.6" marker-end="url(#ahs)"/>
<path d="M195.70,744.50 L196.00,751.50" stroke="#222" stroke-width="0.6" marker-end="url(#ahs)"/>
<path d="M206.00,746.50 L205.00,752.00" stroke="#222" stroke-width="0.6" marker-end="url(#ahs)"/>
<path d="M240.40,740.30 L239.60,746.50" stroke="#222" stroke-width="0.6" marker-end="url(#ahs)"/>
<path d="M283.00,696.50 L282.60,735.00" stroke="#222" stroke-width="0.6" marker-end="url(#ahs)"/>
<g>
<path d="M609.2,682 C611,679 613,677 614.9,675.2 C616,673.7 617.2,672.3 618.4,671.1 C619.6,670.3 620.8,669.6 621.9,669.1 C622.7,668.9 623.4,668.8 624.2,668.8 C626,669.2 628,669.5 630,669.9 C633,670.5 636,671.1 639.4,671.7 C642,672 645,672.2 647.6,672.3 C651,672.5 654,672.6 656.9,672.8 C657.8,673.5 658.6,674.3 659.2,675.2 C659.6,676.8 659.8,678.3 659.8,679.9 C659.5,681.5 659.1,683 658.6,684.5 C659.2,686.5 659.8,688.5 660.4,690.4 L662.2,694.5 L660.4,695 L659.2,692.7 C658.4,691.2 657.6,689.6 656.9,688 L652.2,689.2 L649.9,694.5 L647,694.5 L648.7,689.2 L649.3,685.1 C646.8,685.1 644.2,685.1 641.7,685.1 C639.4,684.9 637,684.7 634.7,684.5 L633.5,686.9 L631.2,693.9 L629.5,694.7 L628.9,693.9 L630.6,688 L626.5,686.3 L621.9,691.5 L621.3,694.5 L619.5,693.9 L620.1,690.4 L623,685.1 C621.5,684.5 620,683.9 618.4,683.4 C616.8,683.2 615.3,683 613.7,682.8 C612.5,683 611.3,683.3 610.2,683.4 Z" fill="#7b6864"/>
<path d="M621,669.6 C626,668.8 633,670 640,671.6 C645,672.2 650,672.4 654,672.6" stroke="#5d4034" stroke-width="1.1" fill="none"/>
<path d="M659.3,675.6 C661.5,678.5 664,681.5 666.2,684.5" stroke="#6a5754" stroke-width="0.7" fill="none"/>
<path d="M665.2,683 L667.6,684.4 L666.8,686 Z" fill="#5d4034"/>
<path d="M611.2,677.4 C611.2,679 611.8,680.3 612.8,681" stroke="#e6d9a6" stroke-width="0.9" fill="none"/>
</g>
<clipPath id="cp4"><rect x="54.8" y="807.50" width="627" height="133.70"/></clipPath>
<path d="M55.0,929.9L55.2,930.0L55.4,930.1L55.6,930.1L55.8,930.2L56.0,930.3L56.2,930.4L56.4,930.4L56.6,930.5L56.8,930.6L57.0,930.7L57.2,930.7L57.4,930.8L57.6,930.9L57.8,930.9L58.0,931.0L58.2,931.1L58.4,931.1L58.6,931.2L58.8,931.3L59.0,931.3L59.2,931.4L59.4,931.5L59.6,931.5L59.8,931.6L60.0,931.7L60.2,931.7L60.4,931.8L60.6,931.9L60.8,931.9L61.0,932.0L61.2,932.0L61.4,932.1L61.6,932.2L61.8,932.2L62.0,932.3L62.2,932.3L62.4,932.4L62.6,932.4L62.8,932.5L63.0,932.6L63.2,932.6L63.4,932.7L63.6,932.7L63.8,932.8L64.0,932.8L64.2,932.9L64.4,932.9L64.6,933.0L64.8,933.0L65.0,933.1L65.4,933.2L65.8,933.3L66.0,933.3L66.2,933.4L66.4,933.5L66.6,933.6L66.8,934.0L67.0,934.7L67.1,935.3L67.2,935.6L67.3,936.1L67.4,936.4L67.5,936.5L67.6,936.4L67.7,936.2L67.8,935.8L67.9,935.5L68.0,934.9L68.2,934.3L68.4,934.0L68.6,933.9L69.2,934.0L69.6,934.1L70.0,934.2L70.4,934.3L70.8,934.4L71.2,934.4L71.6,934.5L72.0,934.6L72.4,934.7L72.8,934.7L73.2,934.8L73.6,934.9L74.0,934.9L74.4,935.0L74.8,935.1L75.2,935.1L75.6,935.2L76.0,935.3L76.4,935.3L76.8,935.4L77.2,935.4L77.6,935.5L78.0,935.5L78.4,935.6L78.8,935.7L79.2,935.7L79.6,935.8L80.0,935.8L80.4,935.9L81.0,935.9L81.6,936.0L82.2,936.1L82.8,936.1L83.4,936.2L84.0,936.3L84.6,936.3L85.2,936.4L85.8,936.5L86.4,936.5L87.0,936.6L87.6,936.6L88.2,936.7L88.8,936.7L89.4,936.8L90.2,936.8L91.0,936.9L91.8,937.0L92.6,937.0L93.4,937.1L94.2,937.1L95.0,937.2L95.8,937.2L96.8,937.3L97.8,937.4L98.8,937.4L99.8,937.5L100.8,937.5L102.0,937.6L103.2,937.6L104.4,937.7L105.8,937.7L107.2,937.8L108.4,937.9L108.7,937.9L109.0,938.0L109.4,937.9L112.6,938.0L114.6,938.0L116.6,938.1L118.8,938.1L121.4,938.2L124.2,938.2L126.2,938.2L126.4,938.1L126.6,937.9L126.7,937.8L126.8,937.6L126.8,937.6L127.0,937.5L127.2,937.6L127.2,937.6L127.3,937.8L127.4,937.9L127.6,938.2L127.8,938.3L129.6,938.3L130.0,938.3L130.2,938.2L130.4,937.7L130.6,936.4L130.7,935.7L130.8,934.8L130.8,934.5L131.0,934.0L131.2,934.5L131.2,934.8L131.3,935.7L131.4,936.4L131.6,937.7L131.8,938.2L132.0,938.3L132.2,938.2L132.4,937.8L132.6,936.4L132.8,933.8L132.9,932.9L133.0,930.7L133.0,930.4L133.2,929.3L133.4,930.4L133.4,930.7L133.5,932.9L133.6,933.8L133.8,936.4L134.0,937.8L134.2,938.2L134.4,938.3L136.6,938.4L136.8,938.3L137.0,938.0L137.2,937.4L137.3,936.9L137.4,936.4L137.4,936.3L137.6,936.0L137.8,936.3L137.8,936.5L137.9,936.9L138.0,937.4L138.2,938.0L138.4,938.3L138.6,938.4L141.8,938.4L143.0,938.4L143.2,938.4L143.4,938.0L143.6,936.6L143.8,933.1L144.0,929.0L144.0,927.9L144.1,924.7L144.2,923.6L144.3,922.9L144.4,923.6L144.5,924.7L144.6,927.9L144.6,929.0L144.8,933.1L145.0,936.6L145.2,938.0L145.4,938.4L145.6,938.4L148.8,938.5L149.2,938.4L149.4,938.3L149.6,937.8L149.7,937.6L149.8,937.3L149.8,937.2L150.0,937.0L150.2,937.2L150.2,937.3L150.3,937.6L150.4,937.8L150.6,938.3L150.8,938.4L151.2,938.5L154.4,938.5L157.6,938.5L158.4,938.5L158.6,938.5L158.8,938.1L159.0,936.0L159.2,927.8L159.4,904.4L159.6,857.3L159.7,816.9L159.8,793.7L159.9,761.6L160.0,745.1L160.1,738.0L160.2,745.1L160.3,761.6L160.4,793.7L160.5,816.9L160.6,857.3L160.8,904.4L161.0,927.8L161.2,936.0L161.4,938.1L161.6,938.5L161.8,938.5L163.0,938.5L163.2,938.5L163.4,938.2L163.6,937.7L163.7,937.3L163.8,936.9L163.8,936.7L164.0,936.5L164.2,936.7L164.2,936.9L164.3,937.3L164.4,937.7L164.6,938.2L164.8,938.5L165.0,938.5L167.0,938.5L167.2,938.4L167.4,938.0L167.6,937.0L167.7,936.4L167.8,935.7L167.8,935.4L168.0,935.0L168.2,935.4L168.2,935.7L168.3,936.4L168.4,937.0L168.6,938.0L168.8,938.4L169.0,938.5L171.0,938.5L171.2,938.4L171.4,937.9L171.6,936.6L171.7,935.8L171.8,934.9L171.8,934.5L172.0,934.0L172.2,934.5L172.2,934.9L172.3,935.8L172.4,936.6L172.6,937.9L172.8,938.4L173.0,938.5L174.0,938.5L174.2,938.3L174.4,937.2L174.6,934.8L174.7,933.4L174.8,931.6L174.8,931.0L175.0,930.0L175.2,931.0L175.2,931.6L175.3,933.4L175.4,934.8L175.6,937.2L175.8,938.3L176.0,938.5L177.4,938.6L177.6,938.5L177.8,938.1L178.0,936.8L178.2,934.6L178.2,934.5L178.3,932.8L178.4,932.3L178.5,932.0L178.6,932.3L178.7,932.8L178.8,934.5L178.8,934.6L179.0,936.8L179.2,938.1L179.4,938.5L179.6,938.6L182.0,938.6L182.2,938.4L182.4,938.0L182.6,937.0L182.7,936.4L182.8,935.7L182.8,935.4L183.0,935.0L183.2,935.4L183.2,935.7L183.3,936.4L183.4,937.0L183.6,938.0L183.8,938.4L184.0,938.6L186.8,938.5L187.0,938.3L187.2,937.3L187.4,934.8L187.5,933.4L187.6,931.6L187.6,931.0L187.8,930.0L188.0,931.0L188.0,931.6L188.1,933.4L188.2,934.8L188.4,937.3L188.6,938.3L188.8,938.5L192.0,938.6L192.6,938.6L192.8,938.5L193.0,938.0L193.2,936.0L193.4,930.1L193.6,918.5L193.7,914.3L193.8,904.9L193.8,903.3L194.0,898.6L194.2,903.3L194.2,904.9L194.3,914.3L194.4,918.5L194.6,930.1L194.8,936.0L195.0,938.0L195.2,938.5L195.4,938.6L196.6,938.5L196.8,938.3L197.0,937.6L197.2,936.4L197.2,936.3L197.3,935.4L197.4,935.2L197.5,935.0L197.6,935.2L197.7,935.4L197.8,936.3L197.8,936.4L198.0,937.6L198.2,938.3L198.4,938.5L198.8,938.6L200.8,938.6L201.0,938.4L201.2,937.7L201.4,936.2L201.5,935.2L201.6,934.1L201.6,933.7L201.8,933.0L202.0,933.7L202.0,934.1L202.1,935.2L202.2,936.2L202.4,937.7L202.6,938.4L202.8,938.6L206.0,938.6L206.2,938.5L206.4,938.3L206.6,937.7L206.7,937.3L206.8,936.9L206.8,936.7L207.0,936.5L207.2,936.7L207.2,936.9L207.3,937.3L207.4,937.7L207.6,938.3L207.8,938.5L208.0,938.6L211.2,938.6L211.8,938.6L212.0,938.5L212.2,938.3L212.4,937.9L212.6,937.1L212.6,937.0L212.8,936.3L212.8,936.3L213.0,936.0L213.2,936.3L213.2,936.3L213.4,937.0L213.4,937.1L213.6,937.9L213.8,938.3L214.0,938.5L214.2,938.6L217.0,938.6L217.2,938.5L217.4,938.2L217.6,937.5L217.7,937.0L217.8,936.5L217.8,936.3L218.0,936.0L218.2,936.3L218.2,936.5L218.3,937.0L218.4,937.5L218.6,938.2L218.8,938.5L219.0,938.6L220.6,938.6L220.8,938.4L221.0,937.7L221.2,935.4L221.4,931.6L221.4,931.3L221.5,928.4L221.6,927.6L221.7,927.0L221.8,927.6L221.9,928.4L222.0,931.3L222.0,931.6L222.2,935.4L222.4,937.7L222.6,938.4L222.8,938.6L223.0,938.5L223.2,938.2L223.4,937.0L223.6,934.0L223.7,932.2L223.8,930.0L223.8,929.2L224.0,928.0L224.2,929.2L224.2,930.0L224.3,932.2L224.4,934.0L224.6,937.0L224.8,938.2L225.0,938.5L225.2,938.6L226.0,938.6L226.2,938.3L226.4,937.4L226.6,935.3L226.7,934.0L226.8,932.4L226.8,931.9L227.0,931.0L227.2,931.9L227.2,932.4L227.3,934.0L227.4,935.3L227.6,937.4L227.8,938.3L228.0,938.6L229.0,938.6L229.2,938.4L229.4,937.6L229.6,935.7L229.7,934.6L229.8,933.2L229.8,932.8L230.0,932.0L230.2,932.8L230.2,933.2L230.3,934.6L230.4,935.7L230.6,937.6L230.8,938.4L231.0,938.6L232.2,938.6L232.4,938.5L232.6,938.2L232.8,936.8L233.0,933.6L233.1,931.6L233.2,929.2L233.2,928.4L233.4,927.0L233.6,928.4L233.6,929.2L233.7,931.6L233.8,933.6L234.0,936.8L234.2,938.2L234.4,938.5L234.6,938.6L234.8,938.6L235.0,938.4L235.2,937.1L235.4,931.5L235.6,914.9L235.8,882.7L235.9,871.1L236.0,844.9L236.0,840.4L236.2,827.3L236.4,840.3L236.4,844.9L236.5,871.1L236.6,882.7L236.8,914.9L237.0,931.5L237.2,937.1L237.4,938.1L237.6,937.1L237.8,933.5L238.0,927.3L238.0,927.0L238.1,922.2L238.2,920.9L238.3,920.0L238.4,920.9L238.5,922.2L238.6,927.0L238.6,927.3L238.8,933.5L239.0,937.1L239.2,938.3L239.4,938.6L239.6,938.5L239.8,938.1L240.0,936.8L240.2,934.6L240.2,934.5L240.3,932.8L240.4,932.3L240.5,932.0L240.6,932.3L240.7,932.8L240.8,934.5L240.8,934.6L241.0,936.8L241.2,938.1L241.4,938.5L241.6,938.6L242.4,938.6L242.6,938.5L242.8,937.8L243.0,935.3L243.2,929.2L243.3,925.6L243.4,921.1L243.4,919.6L243.6,917.1L243.8,919.6L243.8,921.1L243.9,925.6L244.0,929.2L244.2,935.3L244.4,937.8L244.6,938.5L244.8,938.6L245.0,938.6L245.2,938.4L245.4,937.7L245.6,936.2L245.7,935.2L245.8,934.1L245.8,933.7L246.0,933.0L246.2,933.7L246.2,934.1L246.3,935.2L246.4,936.2L246.6,937.7L246.8,938.4L247.0,938.6L248.8,938.6L249.0,938.3L249.2,936.8L249.4,932.3L249.6,924.5L249.6,924.0L249.7,918.0L249.8,916.5L249.9,915.3L250.0,916.5L250.1,918.0L250.2,924.0L250.2,924.5L250.4,932.3L250.6,936.8L250.8,938.3L251.0,938.5L251.2,938.4L251.4,937.9L251.6,936.6L251.7,935.8L251.8,934.9L251.8,934.5L252.0,934.0L252.2,934.5L252.2,934.9L252.3,935.8L252.4,936.6L252.6,937.9L252.8,938.4L253.0,938.6L253.6,938.6L253.8,938.5L254.0,938.1L254.2,936.4L254.4,932.5L254.5,930.0L254.6,927.1L254.6,926.2L254.8,924.5L255.0,926.2L255.0,927.1L255.1,930.0L255.2,932.5L255.4,936.4L255.6,938.1L255.8,938.5L256.0,938.2L256.2,937.0L256.4,934.0L256.5,932.2L256.6,930.0L256.6,929.2L256.8,928.0L257.0,929.2L257.0,930.0L257.1,932.2L257.2,934.0L257.4,937.0L257.6,938.2L257.8,938.5L258.0,938.6L258.8,938.6L259.0,938.4L259.2,938.0L259.4,937.1L259.6,935.5L259.6,935.2L259.8,933.8L259.8,933.7L260.0,933.0L260.2,933.7L260.2,933.8L260.4,935.2L260.4,935.5L260.6,937.1L260.8,938.0L261.0,938.4L261.2,938.6L262.4,938.5L262.6,938.4L262.8,937.8L263.0,936.7L263.1,935.8L263.2,935.3L263.3,934.5L263.4,934.2L263.5,934.0L263.6,934.2L263.7,934.5L263.8,935.3L263.9,935.8L264.0,936.7L264.2,937.8L264.4,938.4L264.6,938.5L265.0,938.6L265.8,938.6L266.0,938.4L266.2,938.0L266.4,937.1L266.6,935.5L266.6,935.2L266.8,933.8L266.8,933.7L267.0,933.0L267.2,933.7L267.2,933.8L267.4,935.2L267.4,935.5L267.6,937.1L267.8,938.0L268.0,938.4L268.2,938.3L268.4,937.7L268.6,936.1L268.8,932.6L269.0,925.4L269.2,912.7L269.4,892.7L269.6,865.3L269.8,836.3L269.8,833.0L270.0,801.7L270.1,789.8L270.2,778.5L270.4,770.0L270.6,778.5L270.7,789.8L270.8,801.7L271.0,833.0L271.0,836.3L271.2,865.3L271.4,892.7L271.6,912.7L271.8,925.4L272.0,932.6L272.2,936.1L272.4,937.7L272.6,938.3L272.8,938.5L273.0,938.4L273.2,938.1L273.4,937.3L273.6,936.0L273.6,935.8L273.8,934.6L273.8,934.5L274.0,934.0L274.2,934.5L274.2,934.6L274.4,935.8L274.4,936.0L274.6,937.3L274.8,938.1L275.0,938.3L275.2,938.0L275.4,937.1L275.6,935.5L275.6,935.2L275.8,933.8L275.8,933.7L276.0,933.0L276.2,933.7L276.2,933.8L276.4,935.2L276.4,935.5L276.6,937.1L276.8,938.0L277.0,938.4L277.2,938.6L277.4,938.5L277.6,938.3L277.8,937.3L278.0,934.9L278.1,933.5L278.2,931.8L278.2,931.2L278.4,930.2L278.6,931.1L278.6,931.6L278.7,932.9L278.8,933.6L279.0,930.8L279.2,916.7L279.4,887.6L279.5,877.1L279.6,853.2L279.6,849.0L279.8,837.2L280.0,849.2L280.0,853.2L280.1,877.1L280.2,887.6L280.4,917.0L280.6,932.1L280.8,937.2L281.0,938.4L281.2,938.4L281.4,937.9L281.6,936.6L281.7,935.8L281.8,934.9L281.8,934.5L282.0,934.0L282.2,934.5L282.2,934.9L282.3,935.8L282.4,936.6L282.6,937.9L282.8,938.4L283.0,938.6L283.8,938.6L284.0,938.5L284.2,938.1L284.4,936.1L284.6,930.0L284.8,919.6L284.8,918.9L284.9,910.9L285.0,908.8L285.1,907.2L285.2,908.8L285.3,910.9L285.4,918.9L285.4,919.5L285.6,930.0L285.8,936.1L286.0,938.1L286.2,938.4L286.4,938.4L286.6,938.3L286.8,938.1L287.0,937.9L287.2,937.6L287.4,937.2L287.6,936.7L287.8,936.1L288.0,935.5L288.2,934.8L288.4,934.0L288.6,933.2L288.8,932.5L289.0,931.9L289.2,931.4L289.4,931.1L289.6,931.0L289.8,931.1L290.0,931.4L290.2,931.9L290.4,932.5L290.6,933.2L290.8,934.0L291.0,934.7L291.2,935.5L291.4,936.1L291.6,936.7L291.8,937.1L292.0,937.4L292.2,937.5L292.4,937.5L292.6,937.3L292.8,936.9L293.0,936.4L293.2,935.7L293.4,935.1L293.6,934.5L293.8,934.1L294.0,934.0L294.2,934.1L294.4,934.5L294.6,935.1L294.8,935.8L295.0,936.5L295.2,937.1L295.4,937.6L295.6,937.9L295.8,938.2L296.0,938.2L296.2,938.2L296.4,938.1L296.6,937.8L296.8,937.4L297.0,936.9L297.2,936.4L297.4,935.9L297.6,935.4L297.8,935.1L298.0,935.0L298.2,935.1L298.4,935.4L298.6,935.9L298.8,936.4L299.0,937.0L299.2,937.4L299.4,937.8L299.6,938.1L299.8,938.3L300.0,938.4L300.2,938.5L300.6,938.6L303.8,938.6L304.6,938.6L304.8,938.4L305.0,937.8L305.2,935.7L305.4,932.0L305.4,931.8L305.5,929.1L305.6,928.3L305.7,927.8L305.8,928.3L305.9,929.1L306.0,931.8L306.0,932.0L306.2,935.7L306.4,937.8L306.6,938.4L306.8,938.6L307.0,938.6L307.2,938.5L307.4,937.9L307.6,935.6L307.8,930.1L307.9,926.8L308.0,922.8L308.0,921.4L308.2,919.1L308.4,921.4L308.4,922.8L308.5,926.8L308.6,930.1L308.8,935.6L309.0,937.9L309.2,938.5L309.4,938.6L311.0,938.6L311.2,938.4L311.4,937.9L311.6,936.6L311.7,935.8L311.8,934.9L311.8,934.5L312.0,934.0L312.2,934.5L312.2,934.9L312.3,935.8L312.4,936.6L312.6,937.9L312.8,938.4L313.0,938.6L314.8,938.6L315.0,938.5L315.2,938.1L315.4,936.1L315.6,929.9L315.8,919.3L315.8,918.6L315.9,910.4L316.0,908.3L316.1,906.7L316.2,908.3L316.3,910.4L316.4,918.6L316.4,919.3L316.6,929.9L316.8,936.1L317.0,938.1L317.2,938.5L317.4,938.6L318.2,938.6L318.4,938.5L318.6,938.1L318.8,936.8L319.0,934.6L319.0,934.5L319.1,932.8L319.2,932.3L319.3,932.0L319.4,932.3L319.5,932.8L319.6,934.5L319.6,934.6L319.8,936.8L320.0,938.1L320.2,938.5L320.4,938.6L321.2,938.6L321.4,938.2L321.6,936.7L321.8,932.1L322.0,924.0L322.0,923.6L322.1,917.4L322.2,915.8L322.3,914.6L322.4,915.8L322.5,917.4L322.6,923.6L322.6,924.0L322.8,932.1L323.0,936.7L323.2,938.2L323.4,938.6L325.8,938.6L326.0,938.5L326.2,938.3L326.4,937.9L326.6,937.1L326.6,937.0L326.8,936.3L326.8,936.3L327.0,936.0L327.2,936.3L327.2,936.3L327.4,937.0L327.4,937.1L327.6,937.9L327.8,938.3L328.0,938.5L328.2,938.6L331.4,938.6L334.6,938.6L337.8,938.6L339.0,938.6L339.2,938.4L339.4,938.2L339.6,937.7L339.6,937.6L339.8,937.2L339.8,937.2L340.0,937.0L340.2,937.2L340.2,937.2L340.4,937.6L340.4,937.7L340.6,938.2L340.8,938.4L341.0,938.6L344.2,938.6L347.4,938.6L349.0,938.5L349.2,938.4L349.4,938.0L349.6,937.4L349.6,937.3L349.8,936.8L349.8,936.7L350.0,936.5L350.2,936.7L350.2,936.8L350.4,937.3L350.4,937.4L350.6,938.0L350.8,938.4L351.0,938.5L351.4,938.6L354.2,938.6L354.4,938.5L354.6,938.2L354.8,937.1L355.0,935.2L355.0,935.1L355.1,933.7L355.2,933.3L355.3,933.0L355.4,933.3L355.5,933.7L355.6,935.1L355.6,935.2L355.8,937.1L356.0,938.2L356.2,938.5L356.4,938.6L357.0,938.6L357.2,938.4L357.4,937.9L357.6,936.6L357.7,935.8L357.8,934.9L357.8,934.5L358.0,934.0L358.2,934.5L358.2,934.9L358.3,935.8L358.4,936.6L358.6,937.9L358.8,938.4L359.0,938.6L362.2,938.6L365.4,938.6L368.6,938.6L371.8,938.6L374.8,938.6L375.0,938.5L375.2,938.2L375.4,937.3L375.6,935.8L375.6,935.7L375.7,934.5L375.8,934.2L375.9,934.0L376.0,934.2L376.1,934.5L376.2,935.7L376.2,935.8L376.4,937.3L376.6,938.2L376.8,938.5L377.0,938.6L380.2,938.6L383.4,938.6L384.2,938.6L384.4,938.4L384.6,937.9L384.8,937.0L384.8,937.0L384.9,936.3L385.0,936.1L385.1,936.0L385.2,936.1L385.3,936.3L385.4,937.0L385.4,937.0L385.6,937.9L385.8,938.4L386.0,938.6L389.2,938.6L391.6,938.6L391.8,938.4L392.0,937.9L392.2,937.0L392.2,937.0L392.3,936.3L392.4,936.1L392.5,936.0L392.6,936.1L392.7,936.3L392.8,937.0L392.8,937.0L393.0,937.9L393.2,938.4L393.4,938.6L396.6,938.6L399.2,938.5L399.4,938.4L399.6,937.9L399.7,937.6L399.8,937.3L399.8,937.2L400.0,937.0L400.2,937.2L400.2,937.3L400.3,937.6L400.4,937.9L400.6,938.4L400.8,938.5L401.2,938.6L404.4,938.6L407.6,938.6L410.8,938.6L413.0,938.6L413.2,938.5L413.4,938.3L413.6,937.7L413.7,937.3L413.8,936.9L413.8,936.7L414.0,936.5L414.2,936.7L414.2,936.9L414.3,937.3L414.4,937.7L414.6,938.3L414.8,938.5L415.0,938.6L418.2,938.6L421.4,938.6L424.6,938.6L427.8,938.6L431.0,938.6L434.2,938.6L437.4,938.6L440.6,938.6L443.8,938.6L447.0,938.6L450.2,938.6L452.4,938.6L452.6,938.5L452.8,938.3L453.0,937.4L453.2,936.0L453.2,935.9L453.3,934.8L453.4,934.5L453.5,934.3L453.6,934.5L453.7,934.8L453.8,935.9L453.8,936.0L454.0,937.4L454.2,938.3L454.4,938.5L454.6,938.6L457.8,938.6L461.0,938.6L464.2,938.6L467.4,938.6L470.6,938.6L473.8,938.6L477.0,938.6L480.2,938.6L483.4,938.6L486.6,938.6L489.8,938.6L493.0,938.6L496.2,938.6L499.4,938.6L502.6,938.6L505.8,938.6L509.0,938.6L512.2,938.6L515.4,938.6L518.6,938.6L521.8,938.6L525.0,938.6L528.2,938.6L531.4,938.6L532.8,938.6L533.0,938.4L533.2,938.0L533.3,937.8L533.4,937.5L533.4,937.5L533.6,937.3L533.8,937.5L533.8,937.5L533.9,937.8L534.0,938.0L534.2,938.4L534.4,938.6L537.6,938.6L540.8,938.6L544.0,938.6L547.2,938.6L550.4,938.6L553.6,938.6L556.8,938.6L560.0,938.6L563.2,938.6L566.4,938.6L569.6,938.6L572.8,938.6L576.0,938.6L579.2,938.6L582.4,938.6L585.6,938.6L588.8,938.6L592.0,938.6L595.2,938.6L598.4,938.6L601.6,938.6L604.8,938.6L608.0,938.6L611.2,938.6L614.4,938.5L617.6,938.5L620.8,938.5L624.0,938.5L627.2,938.4L630.4,938.4L633.4,938.3L636.0,938.3L638.4,938.2L640.4,938.2L642.4,938.1L644.2,938.1L645.8,938.0L647.4,938.0L649.0,937.9L650.4,937.9L651.8,937.8L653.2,937.8L654.6,937.7L656.0,937.7L657.4,937.6L658.8,937.6L660.2,937.5L661.8,937.5L663.4,937.4L665.0,937.3L666.8,937.3L668.6,937.2L670.6,937.2L672.8,937.1L675.2,937.1L678.0,937.0L680.2,937.0" fill="none" stroke="#9c6cf0" stroke-width="1.00" stroke-linejoin="round" clip-path="url(#cp4)"/>
<g stroke="#333" stroke-width="0.9" fill="none">
<path d="M54.4,807.90 V941.20 M52,941.20 H678.94"/>
<path d="M51.8,941.20H54.4M52.8,935.92H54.4M52.8,930.63H54.4M52.8,925.35H54.4M52.8,920.06H54.4M51.8,914.78H54.4M52.8,909.50H54.4M52.8,904.21H54.4M52.8,898.93H54.4M52.8,893.64H54.4M51.8,888.36H54.4M52.8,883.08H54.4M52.8,877.79H54.4M52.8,872.51H54.4M52.8,867.22H54.4M51.8,861.94H54.4M52.8,856.66H54.4M52.8,851.37H54.4M52.8,846.09H54.4M52.8,840.80H54.4M51.8,835.52H54.4M52.8,830.24H54.4M52.8,824.95H54.4M52.8,819.67H54.4M52.8,814.38H54.4M51.8,809.10H54.4"/>
<path d="M56.95,941.20V944.40M66.22,941.20V944.40M75.50,941.20V947.70M84.78,941.20V944.40M94.05,941.20V944.40M103.33,941.20V944.40M112.60,941.20V944.40M121.88,941.20V947.70M131.16,941.20V944.40M140.43,941.20V944.40M149.71,941.20V944.40M158.98,941.20V944.40M168.26,941.20V947.70M177.54,941.20V944.40M186.81,941.20V944.40M196.09,941.20V944.40M205.36,941.20V944.40M214.64,941.20V947.70M223.92,941.20V944.40M233.19,941.20V944.40M242.47,941.20V944.40M251.74,941.20V944.40M261.02,941.20V947.70M270.30,941.20V944.40M279.57,941.20V944.40M288.85,941.20V944.40M298.12,941.20V944.40M307.40,941.20V947.70M316.68,941.20V944.40M325.95,941.20V944.40M335.23,941.20V944.40M344.50,941.20V944.40M353.78,941.20V947.70M363.06,941.20V944.40M372.33,941.20V944.40M381.61,941.20V944.40M390.88,941.20V944.40M400.16,941.20V947.70M409.44,941.20V944.40M418.71,941.20V944.40M427.99,941.20V944.40M437.26,941.20V944.40M446.54,941.20V947.70M455.82,941.20V944.40M465.09,941.20V944.40M474.37,941.20V944.40M483.64,941.20V944.40M492.92,941.20V947.70M502.20,941.20V944.40M511.47,941.20V944.40M520.75,941.20V944.40M530.02,941.20V944.40M539.30,941.20V947.70M548.58,941.20V944.40M557.85,941.20V944.40M567.13,941.20V944.40M576.40,941.20V944.40M585.68,941.20V947.70M594.96,941.20V944.40M604.23,941.20V944.40M613.51,941.20V944.40M622.78,941.20V944.40M632.06,941.20V947.70M641.34,941.20V944.40M650.61,941.20V944.40M659.89,941.20V944.40M669.16,941.20V944.40M678.44,941.20V947.70"/>
</g>
<text x="27.70" y="944.10" font-size="8.20" text-anchor="start" font-weight="normal" fill="#222" textLength="19.80" lengthAdjust="spacingAndGlyphs" class="ax">0.0</text>
<text x="27.70" y="917.68" font-size="8.20" text-anchor="start" font-weight="normal" fill="#222" textLength="19.80" lengthAdjust="spacingAndGlyphs" class="ax">0.2</text>
<text x="27.70" y="891.26" font-size="8.20" text-anchor="start" font-weight="normal" fill="#222" textLength="19.80" lengthAdjust="spacingAndGlyphs" class="ax">0.4</text>
<text x="27.70" y="864.84" font-size="8.20" text-anchor="start" font-weight="normal" fill="#222" textLength="19.80" lengthAdjust="spacingAndGlyphs" class="ax">0.6</text>
<text x="27.70" y="838.42" font-size="8.20" text-anchor="start" font-weight="normal" fill="#222" textLength="19.80" lengthAdjust="spacingAndGlyphs" class="ax">0.8</text>
<text x="26.40" y="812.00" font-size="8.20" text-anchor="start" font-weight="normal" fill="#222" textLength="18.20" lengthAdjust="spacingAndGlyphs" class="ax">1.0</text>
<text x="71.95" y="959.60" font-size="8.80" text-anchor="start" font-weight="normal" fill="#222" textLength="7.70" lengthAdjust="spacingAndGlyphs" class="ax">4</text>
<text x="118.33" y="959.60" font-size="8.80" text-anchor="start" font-weight="normal" fill="#222" textLength="7.70" lengthAdjust="spacingAndGlyphs" class="ax">6</text>
<text x="164.71" y="959.60" font-size="8.80" text-anchor="start" font-weight="normal" fill="#222" textLength="7.70" lengthAdjust="spacingAndGlyphs" class="ax">8</text>
<text x="206.79" y="959.60" font-size="8.80" text-anchor="start" font-weight="normal" fill="#222" textLength="11.70" lengthAdjust="spacingAndGlyphs" class="ax">10</text>
<text x="253.17" y="959.60" font-size="8.80" text-anchor="start" font-weight="normal" fill="#222" textLength="11.70" lengthAdjust="spacingAndGlyphs" class="ax">12</text>
<text x="299.55" y="959.60" font-size="8.80" text-anchor="start" font-weight="normal" fill="#222" textLength="11.70" lengthAdjust="spacingAndGlyphs" class="ax">14</text>
<text x="345.93" y="959.60" font-size="8.80" text-anchor="start" font-weight="normal" fill="#222" textLength="11.70" lengthAdjust="spacingAndGlyphs" class="ax">16</text>
<text x="392.31" y="959.60" font-size="8.80" text-anchor="start" font-weight="normal" fill="#222" textLength="11.70" lengthAdjust="spacingAndGlyphs" class="ax">18</text>
<text x="438.69" y="959.60" font-size="8.80" text-anchor="start" font-weight="normal" fill="#222" textLength="11.70" lengthAdjust="spacingAndGlyphs" class="ax">20</text>
<text x="485.07" y="959.60" font-size="8.80" text-anchor="start" font-weight="normal" fill="#222" textLength="11.70" lengthAdjust="spacingAndGlyphs" class="ax">22</text>
<text x="531.45" y="959.60" font-size="8.80" text-anchor="start" font-weight="normal" fill="#222" textLength="11.70" lengthAdjust="spacingAndGlyphs" class="ax">24</text>
<text x="577.83" y="959.60" font-size="8.80" text-anchor="start" font-weight="normal" fill="#222" textLength="11.70" lengthAdjust="spacingAndGlyphs" class="ax">26</text>
<text x="624.21" y="959.60" font-size="8.80" text-anchor="start" font-weight="normal" fill="#222" textLength="11.70" lengthAdjust="spacingAndGlyphs" class="ax">28</text>
<text x="670.59" y="959.60" font-size="8.80" text-anchor="start" font-weight="normal" fill="#222" textLength="11.70" lengthAdjust="spacingAndGlyphs" class="ax">30</text>
<text transform="translate(8.4,880.60) rotate(-90)" x="0" y="0" font-size="8.9" text-anchor="middle" fill="#222" textLength="113" lengthAdjust="spacingAndGlyphs">Abundance (X10<tspan font-size="5.5" dy="-3">5</tspan><tspan dy="3">)</tspan></text>
<text x="649.50" y="814.80" font-size="23.20" text-anchor="start" font-weight="bold" fill="#000">e</text>
<text x="67.50" y="932.70" font-size="5.20" text-anchor="middle" font-weight="normal" fill="#333">2</text>
<text x="109.10" y="937.00" font-size="5.20" text-anchor="middle" font-weight="normal" fill="#333">4</text>
<text x="126.90" y="936.20" font-size="5.20" text-anchor="middle" font-weight="normal" fill="#333">5</text>
<text x="128.30" y="924.80" font-size="5.20" text-anchor="middle" font-weight="normal" fill="#333">6</text>
<text x="134.60" y="923.00" font-size="5.20" text-anchor="middle" font-weight="normal" fill="#333">7</text>
<text x="137.90" y="936.50" font-size="5.20" text-anchor="middle" font-weight="normal" fill="#333">8</text>
<text x="160.10" y="805.70" font-size="5.20" text-anchor="middle" font-weight="normal" fill="#333">9</text>
<text x="164.00" y="935.90" font-size="5.20" text-anchor="middle" font-weight="normal" fill="#333">10</text>
<text x="168.00" y="927.90" font-size="5.20" text-anchor="middle" font-weight="normal" fill="#333">11</text>
<text x="172.00" y="927.90" font-size="5.20" text-anchor="middle" font-weight="normal" fill="#333">12</text>
<text x="175.50" y="927.90" font-size="5.20" text-anchor="middle" font-weight="normal" fill="#333">13</text>
<text x="179.30" y="920.10" font-size="5.20" text-anchor="middle" font-weight="normal" fill="#333">14</text>
<text x="181.40" y="936.50" font-size="5.20" text-anchor="middle" font-weight="bold" fill="#111">15</text>
<text x="183.00" y="927.90" font-size="5.20" text-anchor="middle" font-weight="normal" fill="#333">16</text>
<text x="189.80" y="924.50" font-size="5.20" text-anchor="middle" font-weight="normal" fill="#333">18</text>
<text x="193.10" y="897.00" font-size="5.20" text-anchor="middle" font-weight="bold" fill="#111">19</text>
<text x="197.50" y="932.70" font-size="5.20" text-anchor="middle" font-weight="normal" fill="#333">20</text>
<text x="204.20" y="930.30" font-size="5.20" text-anchor="middle" font-weight="normal" fill="#333">21</text>
<text x="214.50" y="920.10" font-size="5.20" text-anchor="middle" font-weight="normal" fill="#333">23</text>
<text x="220.80" y="916.60" font-size="5.20" text-anchor="middle" font-weight="normal" fill="#333">24</text>
<text x="225.00" y="921.90" font-size="5.20" text-anchor="middle" font-weight="normal" fill="#333">26</text>
<text x="232.50" y="910.20" font-size="5.20" text-anchor="middle" font-weight="bold" fill="#111">28</text>
<text x="235.70" y="824.60" font-size="5.20" text-anchor="middle" font-weight="bold" fill="#111">30</text>
<text x="240.40" y="881.00" font-size="5.20" text-anchor="middle" font-weight="normal" fill="#333">31</text>
<text x="229.00" y="921.90" font-size="5.20" text-anchor="middle" font-weight="normal" fill="#333">32</text>
<text x="240.40" y="932.70" font-size="5.20" text-anchor="middle" font-weight="bold" fill="#111">34</text>
<text x="244.00" y="916.60" font-size="5.20" text-anchor="middle" font-weight="normal" fill="#333">35</text>
<text x="254.50" y="923.50" font-size="5.20" text-anchor="middle" font-weight="bold" fill="#111">37</text>
<text x="261.70" y="921.70" font-size="5.20" text-anchor="middle" font-weight="normal" fill="#333">38</text>
<text x="263.50" y="934.60" font-size="5.20" text-anchor="middle" font-weight="normal" fill="#333">41</text>
<text x="270.40" y="805.10" font-size="5.20" text-anchor="middle" font-weight="bold" fill="#111">42</text>
<text x="276.80" y="927.20" font-size="5.20" text-anchor="middle" font-weight="normal" fill="#333">45</text>
<text x="280.10" y="834.90" font-size="5.20" text-anchor="middle" font-weight="normal" fill="#333">46</text>
<text x="285.10" y="905.60" font-size="5.20" text-anchor="middle" font-weight="bold" fill="#111">49</text>
<text x="305.20" y="927.20" font-size="5.20" text-anchor="middle" font-weight="normal" fill="#333">53</text>
<text x="308.90" y="917.20" font-size="5.20" text-anchor="middle" font-weight="normal" fill="#333">54</text>
<text x="316.80" y="906.10" font-size="5.20" text-anchor="middle" font-weight="normal" fill="#333">56</text>
<text x="320.10" y="933.90" font-size="5.20" text-anchor="middle" font-weight="normal" fill="#333">57</text>
<text x="322.10" y="912.80" font-size="5.20" text-anchor="middle" font-weight="bold" fill="#111">58</text>
<text x="353.80" y="935.40" font-size="5.20" text-anchor="middle" font-weight="bold" fill="#111">63</text>
<text x="355.00" y="925.40" font-size="5.20" text-anchor="middle" font-weight="normal" fill="#333">64</text>
<text x="375.90" y="932.10" font-size="5.20" text-anchor="middle" font-weight="bold" fill="#111">65</text>
<text x="384.60" y="934.90" font-size="5.20" text-anchor="middle" font-weight="bold" fill="#111">67</text>
<text x="392.50" y="934.90" font-size="5.20" text-anchor="middle" font-weight="normal" fill="#333">70</text>
<text x="400.50" y="936.70" font-size="5.20" text-anchor="middle" font-weight="bold" fill="#111">72</text>
<text x="414.00" y="936.70" font-size="5.20" text-anchor="middle" font-weight="normal" fill="#333">75</text>
<text x="454.00" y="933.10" font-size="5.20" text-anchor="middle" font-weight="bold" fill="#111">84</text>
<path d="M129.00,925.30 L131.00,930.00" stroke="#222" stroke-width="0.6" marker-end="url(#ahs)"/>
<path d="M134.50,923.50 L133.50,928.50" stroke="#222" stroke-width="0.6" marker-end="url(#ahs)"/>
<path d="M179.30,920.50 L178.50,929.00" stroke="#222" stroke-width="0.6" marker-end="url(#ahs)"/>
<path d="M189.80,925.00 L189.00,929.50" stroke="#222" stroke-width="0.6" marker-end="url(#ahs)"/>
<path d="M214.50,920.50 L220.50,927.00" stroke="#222" stroke-width="0.6" marker-end="url(#ahs)"/>
<path d="M221.00,917.00 L222.50,926.00" stroke="#222" stroke-width="0.6" marker-end="url(#ahs)"/>
<path d="M232.50,910.50 L233.30,919.00" stroke="#222" stroke-width="0.6" marker-end="url(#ahs)"/>
<path d="M240.40,881.50 L238.40,926.00" stroke="#222" stroke-width="0.6" marker-end="url(#ahs)"/>
<path d="M261.00,922.00 L257.50,927.00" stroke="#222" stroke-width="0.6" marker-end="url(#ahs)"/>
<path d="M355.00,926.00 L355.30,932.00" stroke="#222" stroke-width="0.6" marker-end="url(#ahs)"/>
<path d="M204.20,930.50 L202.50,933.00" stroke="#222" stroke-width="0.6" marker-end="url(#ahs)"/>
<g>
<path d="M625.1,830.3 C626.5,827 628.7,822.5 630.9,819.2 M626.3,830.6 C627.8,827.2 630,823 632.1,819.8" stroke="#3e3c3a" stroke-width="1.0" fill="none"/>
<path d="M624.5,830.9 L629.2,830.3 L631.5,828 L631,831.5 C630.8,833.3 630.8,835 630.9,836.7 C632.2,838.5 633.5,840 635,841.4 C637,841.8 639,842 640.9,842 C644.8,841.6 648.7,841.2 652.6,840.8 C655.3,841 658,841.2 660.7,841.4 C661.8,842.5 662.8,843.7 663.6,844.9 C663.9,846 664.1,847.2 664.2,848.4 C664.1,850.1 663.9,851.9 663.6,853.6 C663.1,855 662.5,856.4 661.9,857.7 C662.6,858.9 663.1,860 663.6,861.2 L657.2,862.4 L656.1,858.9 C654.1,858.5 652.2,858.1 650.2,857.7 C647.1,857.9 644,858.1 640.9,858.3 L639.7,860 L635,861.2 C634.9,860 634.9,858.9 635,857.7 C634,856.5 633,855.4 632.1,854.2 C630.7,852.3 629.3,850.3 628,848.4 C627,846.1 626,843.7 625.1,841.4 C624.7,840.6 624.3,839.9 623.9,839.1 C622.4,839.1 620.8,839.1 619.3,839.1 C618.8,838.6 618.3,838.1 617.8,837.6 C618.5,836.7 619.2,835.9 619.9,835 C621.4,833.6 623,832.3 624.5,830.9 Z" fill="#a8937f"/>
<path d="M630.2,831 L633.8,826.6 L632.6,832 Z" fill="#9a8673"/>
<path d="M617.8,837.6 C618.6,836.4 620,835.7 621.4,835.8 C622.4,836.8 623.2,838 623.9,839.1 L619.3,839.1 Z" fill="#5b5550"/>
<defs><linearGradient id="aleg" x1="0" y1="0" x2="0" y2="1"><stop offset="0" stop-color="#a8937f"/><stop offset="0.22" stop-color="#6d645c"/><stop offset="0.4" stop-color="#3e3c3a"/><stop offset="1" stop-color="#3a3836"/></linearGradient></defs>
<path d="M634.6,858 L636.9,858.5 L636.5,876.4 L634.6,876.4 Z M637.5,858.5 L640,858.6 L639.9,876.4 L638,876.4 Z M656,858 L658.6,858.5 L657.9,875.8 L656.1,875.8 Z M660.4,857.8 L663.4,858 L662.6,875.8 L660.6,875.8 Z" fill="url(#aleg)"/>

<path d="M661.6,846 C664.4,848.5 665,853 663.4,857.6 L661.5,856 Z" fill="#ececec"/>
<path d="M640,856 C647,857.5 655,857 661,855" stroke="#8f7b69" stroke-width="0.8" fill="none"/>
</g>
<clipPath id="cp5"><rect x="54.8" y="990.70" width="627" height="134.60"/></clipPath>
<path d="M55.0,1111.4L55.2,1111.5L55.4,1111.6L55.6,1111.7L55.8,1111.8L56.0,1111.9L56.2,1112.0L56.4,1112.1L56.6,1112.2L56.8,1112.3L57.0,1112.4L57.2,1112.5L57.4,1112.6L57.6,1112.6L57.8,1112.7L58.0,1112.8L58.2,1112.9L58.4,1113.0L58.6,1113.1L58.8,1113.2L59.0,1113.3L59.2,1113.3L59.4,1113.4L59.6,1113.5L59.8,1113.6L60.0,1113.7L60.2,1113.8L60.4,1113.8L60.6,1113.9L60.8,1114.0L61.0,1114.1L61.2,1114.2L61.4,1114.2L61.6,1114.3L61.8,1114.4L62.0,1114.5L62.2,1114.5L62.4,1114.6L62.6,1114.7L62.8,1114.7L63.0,1114.8L63.2,1114.9L63.4,1115.0L63.6,1115.0L63.8,1115.1L64.0,1115.2L64.2,1115.2L64.4,1115.3L64.6,1115.4L64.8,1115.4L65.0,1115.5L65.2,1115.6L65.4,1115.6L65.6,1115.7L65.8,1115.7L66.0,1115.8L66.2,1115.9L66.4,1115.9L66.6,1116.0L66.8,1116.0L67.0,1116.1L67.4,1116.1L67.6,1116.0L67.8,1115.5L68.0,1114.7L68.0,1114.6L68.2,1113.8L68.2,1113.8L68.4,1113.5L68.6,1113.9L68.6,1114.0L68.8,1114.8L68.8,1114.9L69.0,1115.9L69.2,1116.4L69.4,1116.7L69.6,1116.8L69.8,1116.9L70.0,1116.9L70.2,1117.0L70.4,1117.0L70.6,1117.1L71.0,1117.2L71.4,1117.3L71.8,1117.4L72.2,1117.5L72.6,1117.6L73.0,1117.7L73.4,1117.7L73.8,1117.8L74.2,1117.9L74.6,1117.9L74.8,1117.7L75.0,1117.1L75.1,1116.8L75.2,1116.4L75.2,1116.2L75.4,1116.0L75.6,1116.3L75.6,1116.4L75.7,1116.9L75.8,1117.3L76.0,1118.0L76.2,1118.2L76.4,1118.4L76.8,1118.4L77.2,1118.5L77.6,1118.6L78.0,1118.7L78.4,1118.7L78.8,1118.8L79.2,1118.9L79.6,1118.9L80.0,1119.0L80.4,1119.1L80.8,1119.1L81.2,1119.2L81.6,1119.3L82.0,1119.3L82.4,1119.4L82.8,1119.4L83.2,1119.5L83.6,1119.5L84.0,1119.6L84.4,1119.7L84.8,1119.7L85.2,1119.8L85.6,1119.8L86.0,1119.9L86.6,1119.9L87.2,1120.0L87.8,1120.1L88.4,1120.1L89.0,1120.2L89.6,1120.3L90.2,1120.3L90.8,1120.4L91.4,1120.5L92.0,1120.5L92.6,1120.6L93.2,1120.6L93.8,1120.7L94.4,1120.7L95.0,1120.8L95.8,1120.8L96.6,1120.9L97.4,1121.0L98.2,1121.0L99.0,1121.1L99.8,1121.1L100.6,1121.2L101.4,1121.2L102.4,1121.3L103.4,1121.4L104.4,1121.4L105.4,1121.5L106.4,1121.5L107.4,1121.6L107.6,1121.5L107.8,1121.3L108.0,1120.7L108.1,1120.3L108.2,1119.9L108.2,1119.7L108.4,1119.5L108.6,1119.8L108.6,1119.9L108.7,1120.3L108.8,1120.7L109.0,1121.3L109.2,1121.6L109.4,1121.6L110.4,1121.7L111.8,1121.8L113.2,1121.8L114.8,1121.9L116.4,1121.9L118.2,1122.0L120.2,1122.0L122.2,1122.1L124.4,1122.1L126.8,1122.1L127.0,1122.0L127.2,1121.6L127.4,1120.9L127.4,1120.8L127.5,1120.3L127.6,1120.1L127.7,1120.0L127.8,1120.1L127.9,1120.3L128.0,1120.8L128.0,1120.9L128.2,1121.6L128.4,1122.0L128.6,1122.2L129.8,1122.2L131.8,1122.2L132.0,1122.2L132.2,1121.6L132.4,1119.0L132.6,1111.3L132.8,1096.3L132.9,1090.9L133.0,1078.7L133.0,1076.6L133.2,1070.5L133.4,1076.6L133.4,1078.7L133.5,1090.9L133.6,1096.3L133.8,1111.3L134.0,1119.0L134.2,1121.6L134.4,1122.2L134.6,1122.3L137.8,1122.3L141.0,1122.4L144.2,1122.4L147.4,1122.4L149.0,1122.4L149.2,1122.4L149.4,1122.1L149.6,1121.6L149.7,1121.3L149.8,1120.9L149.8,1120.7L150.0,1120.5L150.2,1120.7L150.2,1120.9L150.3,1121.3L150.4,1121.6L150.6,1122.2L150.8,1122.4L151.0,1122.4L154.2,1122.5L157.4,1122.5L159.8,1122.5L160.0,1122.4L160.2,1122.1L160.4,1121.3L160.6,1120.0L160.6,1119.8L160.8,1118.6L160.8,1118.5L161.0,1118.0L161.2,1118.5L161.2,1118.6L161.4,1119.8L161.4,1120.0L161.6,1121.3L161.8,1122.1L162.0,1122.4L162.2,1122.5L165.4,1122.5L166.2,1122.5L166.4,1122.4L166.6,1122.0L166.8,1121.0L166.9,1120.4L167.0,1119.7L167.0,1119.4L167.2,1119.0L167.4,1119.4L167.4,1119.7L167.5,1120.4L167.6,1121.0L167.8,1122.0L168.0,1122.4L168.2,1122.5L169.0,1122.5L169.2,1122.4L169.4,1122.1L169.6,1121.4L169.7,1121.0L169.8,1120.5L169.8,1120.3L170.0,1120.0L170.2,1120.3L170.2,1120.5L170.3,1121.0L170.4,1121.4L170.6,1122.2L170.8,1122.5L171.0,1122.5L174.2,1122.5L174.6,1122.5L174.8,1122.3L175.0,1121.7L175.2,1120.7L175.2,1120.6L175.3,1119.9L175.4,1119.7L175.5,1119.5L175.6,1119.7L175.7,1119.9L175.8,1120.6L175.8,1120.7L176.0,1121.7L176.2,1122.3L176.4,1122.5L179.0,1122.6L182.2,1122.6L183.8,1122.5L184.0,1122.4L184.2,1121.4L184.4,1118.6L184.6,1113.7L184.6,1113.4L184.7,1109.6L184.8,1108.6L184.9,1107.9L185.0,1108.6L185.1,1109.6L185.2,1113.4L185.2,1113.7L185.4,1118.6L185.6,1121.4L185.8,1122.4L186.0,1122.5L186.2,1122.5L186.4,1122.3L186.6,1121.4L186.8,1119.3L186.9,1118.0L187.0,1116.4L187.0,1115.9L187.2,1115.0L187.4,1115.9L187.4,1116.4L187.5,1118.0L187.6,1119.3L187.8,1121.4L188.0,1122.3L188.2,1122.5L190.4,1122.6L190.6,1122.5L190.8,1122.2L191.0,1121.3L191.2,1119.8L191.2,1119.7L191.3,1118.5L191.4,1118.2L191.5,1118.0L191.6,1118.2L191.7,1118.5L191.8,1119.7L191.8,1119.8L192.0,1121.3L192.2,1122.2L192.4,1122.5L192.6,1122.6L193.4,1122.5L193.6,1122.2L193.8,1120.6L194.0,1115.8L194.2,1107.5L194.2,1107.0L194.3,1100.6L194.4,1099.0L194.5,1097.7L194.6,1099.0L194.7,1100.6L194.8,1107.0L194.8,1107.5L195.0,1115.8L195.2,1120.6L195.4,1122.2L195.6,1122.5L197.0,1122.6L197.2,1122.5L197.4,1122.1L197.6,1121.2L197.7,1120.7L197.8,1120.1L197.8,1119.9L198.0,1119.5L198.2,1119.9L198.2,1120.1L198.3,1120.7L198.4,1121.2L198.6,1122.1L198.8,1122.5L199.0,1122.6L201.2,1122.6L201.4,1122.5L201.6,1122.0L201.8,1119.9L202.0,1114.9L202.1,1111.9L202.2,1108.3L202.2,1107.1L202.4,1105.0L202.6,1107.1L202.6,1108.3L202.7,1111.9L202.8,1114.9L203.0,1119.9L203.2,1122.0L203.4,1122.5L203.6,1122.6L206.8,1122.6L209.0,1122.6L209.2,1122.5L209.4,1122.3L209.6,1121.7L209.7,1121.3L209.8,1120.9L209.8,1120.7L210.0,1120.5L210.2,1120.7L210.2,1120.9L210.3,1121.3L210.4,1121.7L210.6,1122.3L210.8,1122.5L211.0,1122.6L214.0,1122.6L214.2,1122.5L214.4,1122.2L214.6,1121.5L214.7,1121.0L214.8,1120.5L214.8,1120.3L215.0,1120.0L215.2,1120.3L215.2,1120.5L215.3,1121.0L215.4,1121.5L215.6,1122.2L215.8,1122.5L216.0,1122.6L219.2,1122.6L220.4,1122.6L220.6,1122.5L220.8,1122.1L221.0,1120.9L221.2,1118.9L221.2,1118.8L221.3,1117.2L221.4,1116.8L221.5,1116.5L221.6,1116.8L221.7,1117.2L221.8,1118.8L221.8,1118.9L222.0,1120.9L222.2,1122.1L222.4,1122.5L222.6,1122.6L222.8,1122.4L223.0,1121.8L223.2,1119.7L223.4,1116.2L223.4,1116.0L223.5,1113.2L223.6,1112.5L223.7,1112.0L223.8,1112.5L223.9,1113.2L224.0,1116.0L224.0,1116.2L224.2,1119.7L224.4,1121.8L224.6,1122.4L224.8,1122.6L227.0,1122.6L227.2,1122.5L227.4,1122.1L227.6,1120.8L227.8,1118.6L227.8,1118.5L227.9,1116.8L228.0,1116.3L228.1,1116.0L228.2,1116.3L228.3,1116.8L228.4,1118.5L228.4,1118.6L228.6,1120.8L228.8,1122.1L229.0,1122.5L229.2,1122.6L230.0,1122.6L230.2,1122.4L230.4,1121.9L230.6,1120.6L230.7,1119.8L230.8,1118.9L230.8,1118.5L231.0,1118.0L231.2,1118.5L231.2,1118.9L231.3,1119.8L231.4,1120.6L231.6,1121.9L231.8,1122.4L232.0,1122.6L233.0,1122.6L233.2,1122.3L233.4,1121.4L233.6,1119.3L233.7,1118.0L233.8,1116.4L233.8,1115.9L234.0,1115.0L234.2,1115.9L234.2,1116.4L234.3,1118.0L234.4,1119.3L234.6,1121.4L234.8,1122.3L235.0,1122.6L236.8,1122.6L237.0,1122.4L237.2,1121.4L237.4,1118.6L237.6,1113.6L237.6,1113.3L237.7,1109.5L237.8,1108.6L237.9,1107.8L238.0,1108.6L238.1,1109.5L238.2,1113.3L238.2,1113.6L238.4,1118.6L238.6,1121.4L238.8,1122.4L239.0,1122.6L239.4,1122.6L239.6,1122.5L239.8,1121.9L240.0,1120.3L240.2,1117.4L240.2,1117.2L240.3,1115.0L240.4,1114.4L240.5,1114.0L240.6,1114.4L240.7,1115.0L240.8,1117.2L240.8,1117.4L241.0,1120.3L241.2,1121.9L241.4,1122.5L241.6,1122.6L242.4,1122.6L242.6,1122.4L242.8,1121.5L243.0,1118.0L243.2,1109.7L243.3,1104.6L243.4,1098.5L243.4,1096.4L243.6,1092.9L243.8,1096.4L243.8,1098.5L243.9,1104.6L244.0,1109.7L244.2,1118.0L244.4,1121.5L244.6,1122.4L244.8,1122.6L246.4,1122.6L246.6,1122.3L246.8,1121.5L247.0,1119.4L247.1,1118.1L247.2,1116.6L247.2,1116.1L247.4,1115.2L247.6,1116.1L247.6,1116.6L247.7,1118.1L247.8,1119.4L248.0,1121.5L248.2,1122.3L248.4,1122.6L249.2,1122.6L249.4,1122.5L249.6,1122.1L249.8,1120.8L250.0,1118.6L250.0,1118.5L250.1,1116.8L250.2,1116.3L250.3,1116.0L250.4,1116.3L250.5,1116.8L250.6,1118.5L250.6,1118.6L250.8,1120.8L251.0,1122.1L251.2,1122.5L251.4,1122.6L252.8,1122.6L253.0,1122.5L253.2,1122.0L253.4,1121.0L253.5,1120.4L253.6,1119.7L253.6,1119.4L253.8,1119.0L254.0,1119.4L254.0,1119.7L254.1,1120.4L254.2,1121.0L254.4,1122.0L254.6,1122.5L254.8,1122.6L255.0,1122.6L255.2,1122.4L255.4,1121.9L255.6,1120.6L255.7,1119.8L255.8,1118.9L255.8,1118.5L256.0,1118.0L256.2,1118.5L256.2,1118.9L256.3,1119.8L256.4,1120.6L256.6,1121.9L256.8,1122.4L257.0,1122.6L260.2,1122.6L263.4,1122.6L265.8,1122.5L266.0,1122.3L266.2,1121.6L266.4,1120.4L266.4,1120.3L266.5,1119.4L266.6,1119.2L266.7,1119.0L266.8,1119.2L266.9,1119.4L267.0,1120.3L267.0,1120.4L267.2,1121.6L267.4,1122.3L267.6,1122.5L268.0,1122.6L269.6,1122.6L269.8,1122.5L270.0,1121.9L270.2,1119.1L270.4,1110.5L270.6,1095.5L270.6,1094.7L270.7,1083.2L270.8,1080.3L270.9,1078.0L271.0,1080.3L271.1,1083.2L271.2,1094.7L271.2,1095.5L271.4,1110.5L271.6,1119.1L271.8,1121.9L272.0,1122.5L272.2,1122.6L273.0,1122.6L273.2,1122.5L273.4,1122.0L273.6,1121.0L273.7,1120.4L273.8,1119.7L273.8,1119.4L274.0,1119.0L274.2,1119.4L274.2,1119.7L274.3,1120.4L274.4,1121.0L274.6,1122.0L274.8,1122.5L275.0,1122.6L277.0,1122.6L277.2,1122.4L277.4,1121.3L277.6,1116.3L277.8,1101.7L278.0,1073.1L278.1,1062.9L278.2,1039.7L278.2,1035.8L278.4,1024.2L278.6,1035.7L278.6,1039.7L278.7,1062.9L278.8,1073.1L279.0,1101.7L279.2,1116.3L279.4,1121.3L279.6,1122.4L279.8,1122.6L280.6,1122.6L280.8,1122.4L281.0,1121.7L281.2,1120.2L281.3,1119.2L281.4,1118.1L281.4,1117.7L281.6,1117.0L281.8,1117.7L281.8,1118.1L281.9,1119.2L282.0,1120.2L282.2,1121.7L282.4,1122.4L282.6,1122.6L284.0,1122.6L284.2,1122.5L284.4,1121.8L284.6,1117.7L284.8,1101.5L285.0,1062.7L285.1,1039.1L285.2,1010.9L285.2,1001.2L285.4,985.0L285.6,1001.2L285.6,1010.9L285.7,1039.1L285.8,1062.7L286.0,1101.5L286.2,1117.7L286.4,1121.8L286.6,1122.5L286.8,1122.6L287.2,1122.5L287.4,1122.5L287.6,1122.4L287.8,1122.2L288.0,1122.0L288.2,1121.6L288.4,1121.1L288.6,1120.5L288.8,1119.8L289.0,1119.1L289.2,1118.5L289.4,1118.1L289.6,1118.0L289.8,1118.1L290.0,1118.5L290.2,1119.1L290.4,1119.8L290.6,1120.5L290.8,1121.1L291.0,1121.6L291.2,1122.0L291.4,1122.2L291.6,1122.4L291.8,1122.5L292.0,1122.5L293.0,1122.6L296.2,1122.6L297.0,1122.6L297.2,1122.5L297.4,1122.3L297.6,1121.9L297.8,1121.1L297.8,1121.0L298.0,1120.3L298.0,1120.3L298.2,1120.0L298.4,1120.3L298.4,1120.3L298.6,1121.0L298.6,1121.1L298.8,1121.9L299.0,1122.3L299.2,1122.5L299.4,1122.6L302.6,1122.6L305.4,1122.5L305.6,1122.3L305.8,1121.1L306.0,1118.4L306.1,1116.8L306.2,1114.8L306.2,1114.1L306.4,1113.0L306.6,1114.1L306.6,1114.8L306.7,1116.8L306.8,1118.4L307.0,1121.1L307.2,1122.3L307.4,1122.5L307.8,1122.6L309.4,1122.6L309.6,1122.4L309.8,1122.0L310.0,1121.1L310.2,1119.5L310.2,1119.2L310.4,1117.8L310.4,1117.7L310.6,1117.0L310.8,1117.7L310.8,1117.8L311.0,1119.2L311.0,1119.5L311.2,1121.1L311.4,1122.0L311.6,1122.4L311.8,1122.6L315.0,1122.6L315.2,1122.5L315.4,1122.0L315.6,1121.0L315.7,1120.4L315.8,1119.7L315.8,1119.4L316.0,1119.0L316.2,1119.4L316.2,1119.7L316.3,1120.4L316.4,1121.0L316.6,1122.0L316.8,1122.5L317.0,1122.6L318.8,1122.6L319.0,1122.4L319.2,1121.7L319.4,1120.2L319.5,1119.2L319.6,1118.1L319.6,1117.7L319.8,1117.0L320.0,1117.7L320.0,1118.1L320.1,1119.2L320.2,1120.2L320.4,1121.7L320.6,1122.4L320.8,1122.6L322.2,1122.6L322.4,1122.3L322.6,1121.2L322.8,1116.9L323.0,1106.5L323.2,1094.0L323.2,1090.6L323.3,1081.1L323.4,1077.5L323.5,1075.5L323.6,1077.5L323.7,1081.1L323.8,1090.6L323.8,1094.0L324.0,1106.5L324.2,1116.9L324.4,1121.2L324.6,1122.3L324.8,1122.6L328.0,1122.6L331.2,1122.6L334.4,1122.6L337.6,1122.6L340.8,1122.6L341.8,1122.6L342.0,1122.4L342.2,1122.0L342.4,1121.1L342.5,1120.4L342.6,1120.0L342.7,1119.4L342.8,1119.1L342.9,1119.0L343.0,1119.1L343.1,1119.4L343.2,1120.0L343.3,1120.4L343.4,1121.1L343.6,1122.0L343.8,1122.4L344.0,1122.6L347.2,1122.6L350.4,1122.6L353.0,1122.6L353.2,1122.5L353.4,1122.2L353.6,1121.1L353.8,1119.2L353.8,1119.1L353.9,1117.7L354.0,1117.3L354.1,1117.0L354.2,1117.3L354.3,1117.7L354.4,1119.1L354.4,1119.2L354.6,1121.1L354.8,1122.2L355.0,1122.5L355.2,1122.6L356.8,1122.6L357.0,1122.4L357.2,1121.7L357.4,1120.2L357.5,1119.2L357.6,1118.1L357.6,1117.7L357.8,1117.0L358.0,1117.7L358.0,1118.1L358.1,1119.2L358.2,1120.2L358.4,1121.7L358.6,1122.4L358.8,1122.6L362.0,1122.6L365.2,1122.6L368.4,1122.6L371.6,1122.6L374.8,1122.6L378.0,1122.6L381.2,1122.6L384.4,1122.6L384.8,1122.6L385.0,1122.4L385.2,1121.9L385.4,1120.6L385.5,1119.8L385.6,1118.9L385.6,1118.5L385.8,1118.0L386.0,1118.5L386.0,1118.9L386.1,1119.8L386.2,1120.6L386.4,1121.9L386.6,1122.4L386.8,1122.6L390.0,1122.5L390.2,1122.3L390.4,1121.6L390.6,1120.4L390.6,1120.3L390.7,1119.4L390.8,1119.2L390.9,1119.0L391.0,1119.2L391.1,1119.4L391.2,1120.3L391.2,1120.4L391.4,1121.6L391.6,1122.3L391.8,1122.5L392.2,1122.6L394.2,1122.6L394.4,1122.5L394.6,1122.2L394.8,1121.5L394.9,1121.0L395.0,1120.5L395.0,1120.3L395.2,1120.0L395.4,1120.3L395.4,1120.5L395.5,1121.0L395.6,1121.5L395.8,1122.2L396.0,1122.5L396.2,1122.6L399.4,1122.6L402.6,1122.6L405.8,1122.6L409.0,1122.6L412.2,1122.6L414.6,1122.6L414.8,1122.5L415.0,1122.2L415.2,1121.5L415.3,1121.0L415.4,1120.5L415.4,1120.3L415.6,1120.0L415.8,1120.3L415.8,1120.5L415.9,1121.0L416.0,1121.5L416.2,1122.2L416.4,1122.5L416.6,1122.6L419.8,1122.6L421.6,1122.6L421.8,1122.5L422.0,1122.3L422.2,1121.5L422.4,1120.1L422.4,1120.0L422.5,1119.0L422.6,1118.7L422.7,1118.5L422.8,1118.7L422.9,1119.0L423.0,1120.0L423.0,1120.1L423.2,1121.5L423.4,1122.3L423.6,1122.5L423.8,1122.6L427.0,1122.6L430.0,1122.6L430.2,1122.5L430.4,1122.2L430.6,1121.5L430.7,1121.0L430.8,1120.5L430.8,1120.3L431.0,1120.0L431.2,1120.3L431.2,1120.5L431.3,1121.0L431.4,1121.5L431.6,1122.2L431.8,1122.5L432.0,1122.6L435.2,1122.6L438.4,1122.6L440.6,1122.6L440.8,1122.5L441.0,1122.2L441.2,1121.5L441.3,1121.0L441.4,1120.5L441.4,1120.3L441.6,1120.0L441.8,1120.3L441.8,1120.5L441.9,1121.0L442.0,1121.5L442.2,1122.2L442.4,1122.5L442.6,1122.6L445.8,1122.6L447.8,1122.6L448.0,1122.4L448.2,1121.9L448.4,1121.0L448.4,1121.0L448.5,1120.3L448.6,1120.1L448.7,1120.0L448.8,1120.1L448.9,1120.3L449.0,1121.0L449.0,1121.0L449.2,1121.9L449.4,1122.4L449.6,1122.6L452.8,1122.6L453.2,1122.5L453.4,1122.2L453.6,1120.9L453.8,1117.0L454.0,1109.5L454.1,1106.8L454.2,1100.6L454.2,1099.6L454.4,1096.5L454.6,1099.5L454.6,1100.6L454.7,1106.8L454.8,1109.5L455.0,1117.0L455.2,1120.9L455.4,1122.2L455.6,1122.5L456.0,1122.6L459.2,1122.6L460.6,1122.5L460.8,1122.3L461.0,1121.6L461.2,1120.4L461.2,1120.3L461.3,1119.4L461.4,1119.2L461.5,1119.0L461.6,1119.2L461.7,1119.4L461.8,1120.3L461.8,1120.4L462.0,1121.6L462.2,1122.3L462.4,1122.5L462.8,1122.6L464.2,1122.6L464.4,1122.5L464.6,1122.2L464.8,1121.5L464.9,1121.0L465.0,1120.5L465.0,1120.3L465.2,1120.0L465.4,1120.3L465.4,1120.5L465.5,1121.0L465.6,1121.5L465.8,1122.2L466.0,1122.5L466.2,1122.6L469.4,1122.6L472.6,1122.6L475.8,1122.6L479.0,1122.6L482.2,1122.6L485.4,1122.6L488.6,1122.6L491.8,1122.6L495.0,1122.6L498.2,1122.6L501.4,1122.6L504.6,1122.6L507.8,1122.6L511.0,1122.6L514.2,1122.6L517.4,1122.6L520.6,1122.6L523.8,1122.6L527.0,1122.6L530.2,1122.6L533.4,1122.6L536.6,1122.6L539.8,1122.6L543.0,1122.6L546.0,1122.6L546.2,1122.5L546.4,1122.0L546.6,1120.9L546.7,1120.3L546.8,1119.5L546.8,1119.2L547.0,1118.8L547.2,1119.2L547.2,1119.5L547.3,1120.3L547.4,1120.9L547.6,1122.0L547.8,1122.5L548.0,1122.6L551.2,1122.6L554.4,1122.6L557.6,1122.6L560.8,1122.6L564.0,1122.6L567.2,1122.6L570.4,1122.6L573.6,1122.6L576.8,1122.6L580.0,1122.6L583.2,1122.6L586.4,1122.6L589.6,1122.6L592.8,1122.6L596.0,1122.6L599.2,1122.6L602.4,1122.6L605.6,1122.6L608.8,1122.6L612.0,1122.6L615.2,1122.6L618.4,1122.6L621.6,1122.6L624.8,1122.6L628.0,1122.6L631.2,1122.6L634.4,1122.6L637.6,1122.6L640.8,1122.6L644.0,1122.6L647.2,1122.6L650.4,1122.6L653.6,1122.6L656.8,1122.6L660.0,1122.6L663.2,1122.6L666.4,1122.6L669.6,1122.6L672.8,1122.6L676.0,1122.6L679.2,1122.6L680.2,1122.6" fill="none" stroke="#d84a5a" stroke-width="1.00" stroke-linejoin="round" clip-path="url(#cp5)"/>
<g stroke="#333" stroke-width="0.9" fill="none">
<path d="M54.4,991.10 V1125.30 M52,1125.30 H679.98"/>
<path d="M51.8,1125.30H54.4M52.8,1119.98H54.4M52.8,1114.66H54.4M52.8,1109.34H54.4M52.8,1104.02H54.4M51.8,1098.70H54.4M52.8,1093.38H54.4M52.8,1088.06H54.4M52.8,1082.74H54.4M52.8,1077.42H54.4M51.8,1072.10H54.4M52.8,1066.78H54.4M52.8,1061.46H54.4M52.8,1056.14H54.4M52.8,1050.82H54.4M51.8,1045.50H54.4M52.8,1040.18H54.4M52.8,1034.86H54.4M52.8,1029.54H54.4M52.8,1024.22H54.4M51.8,1018.90H54.4M52.8,1013.58H54.4M52.8,1008.26H54.4M52.8,1002.94H54.4M52.8,997.62H54.4M51.8,992.30H54.4"/>
<path d="M56.92,1125.30V1128.50M66.21,1125.30V1128.50M75.50,1125.30V1131.80M84.79,1125.30V1128.50M94.08,1125.30V1128.50M103.38,1125.30V1128.50M112.67,1125.30V1128.50M121.96,1125.30V1131.80M131.25,1125.30V1128.50M140.54,1125.30V1128.50M149.84,1125.30V1128.50M159.13,1125.30V1128.50M168.42,1125.30V1131.80M177.71,1125.30V1128.50M187.00,1125.30V1128.50M196.30,1125.30V1128.50M205.59,1125.30V1128.50M214.88,1125.30V1131.80M224.17,1125.30V1128.50M233.46,1125.30V1128.50M242.76,1125.30V1128.50M252.05,1125.30V1128.50M261.34,1125.30V1131.80M270.63,1125.30V1128.50M279.92,1125.30V1128.50M289.22,1125.30V1128.50M298.51,1125.30V1128.50M307.80,1125.30V1131.80M317.09,1125.30V1128.50M326.38,1125.30V1128.50M335.68,1125.30V1128.50M344.97,1125.30V1128.50M354.26,1125.30V1131.80M363.55,1125.30V1128.50M372.84,1125.30V1128.50M382.14,1125.30V1128.50M391.43,1125.30V1128.50M400.72,1125.30V1131.80M410.01,1125.30V1128.50M419.30,1125.30V1128.50M428.60,1125.30V1128.50M437.89,1125.30V1128.50M447.18,1125.30V1131.80M456.47,1125.30V1128.50M465.76,1125.30V1128.50M475.06,1125.30V1128.50M484.35,1125.30V1128.50M493.64,1125.30V1131.80M502.93,1125.30V1128.50M512.22,1125.30V1128.50M521.52,1125.30V1128.50M530.81,1125.30V1128.50M540.10,1125.30V1131.80M549.39,1125.30V1128.50M558.68,1125.30V1128.50M567.98,1125.30V1128.50M577.27,1125.30V1128.50M586.56,1125.30V1131.80M595.85,1125.30V1128.50M605.14,1125.30V1128.50M614.44,1125.30V1128.50M623.73,1125.30V1128.50M633.02,1125.30V1131.80M642.31,1125.30V1128.50M651.60,1125.30V1128.50M660.90,1125.30V1128.50M670.19,1125.30V1128.50M679.48,1125.30V1131.80"/>
</g>
<text x="27.70" y="1128.20" font-size="8.20" text-anchor="start" font-weight="normal" fill="#222" textLength="19.80" lengthAdjust="spacingAndGlyphs" class="ax">0.0</text>
<text x="27.70" y="1101.60" font-size="8.20" text-anchor="start" font-weight="normal" fill="#222" textLength="19.80" lengthAdjust="spacingAndGlyphs" class="ax">0.2</text>
<text x="27.70" y="1075.00" font-size="8.20" text-anchor="start" font-weight="normal" fill="#222" textLength="19.80" lengthAdjust="spacingAndGlyphs" class="ax">0.4</text>
<text x="27.70" y="1048.40" font-size="8.20" text-anchor="start" font-weight="normal" fill="#222" textLength="19.80" lengthAdjust="spacingAndGlyphs" class="ax">0.6</text>
<text x="27.70" y="1021.80" font-size="8.20" text-anchor="start" font-weight="normal" fill="#222" textLength="19.80" lengthAdjust="spacingAndGlyphs" class="ax">0.8</text>
<text x="26.40" y="995.20" font-size="8.20" text-anchor="start" font-weight="normal" fill="#222" textLength="18.20" lengthAdjust="spacingAndGlyphs" class="ax">1.0</text>
<text x="71.95" y="1143.50" font-size="8.80" text-anchor="start" font-weight="normal" fill="#222" textLength="7.70" lengthAdjust="spacingAndGlyphs" class="ax">4</text>
<text x="118.41" y="1143.50" font-size="8.80" text-anchor="start" font-weight="normal" fill="#222" textLength="7.70" lengthAdjust="spacingAndGlyphs" class="ax">6</text>
<text x="164.87" y="1143.50" font-size="8.80" text-anchor="start" font-weight="normal" fill="#222" textLength="7.70" lengthAdjust="spacingAndGlyphs" class="ax">8</text>
<text x="207.03" y="1143.50" font-size="8.80" text-anchor="start" font-weight="normal" fill="#222" textLength="11.70" lengthAdjust="spacingAndGlyphs" class="ax">10</text>
<text x="253.49" y="1143.50" font-size="8.80" text-anchor="start" font-weight="normal" fill="#222" textLength="11.70" lengthAdjust="spacingAndGlyphs" class="ax">12</text>
<text x="299.95" y="1143.50" font-size="8.80" text-anchor="start" font-weight="normal" fill="#222" textLength="11.70" lengthAdjust="spacingAndGlyphs" class="ax">14</text>
<text x="346.41" y="1143.50" font-size="8.80" text-anchor="start" font-weight="normal" fill="#222" textLength="11.70" lengthAdjust="spacingAndGlyphs" class="ax">16</text>
<text x="392.87" y="1143.50" font-size="8.80" text-anchor="start" font-weight="normal" fill="#222" textLength="11.70" lengthAdjust="spacingAndGlyphs" class="ax">18</text>
<text x="439.33" y="1143.50" font-size="8.80" text-anchor="start" font-weight="normal" fill="#222" textLength="11.70" lengthAdjust="spacingAndGlyphs" class="ax">20</text>
<text x="485.79" y="1143.50" font-size="8.80" text-anchor="start" font-weight="normal" fill="#222" textLength="11.70" lengthAdjust="spacingAndGlyphs" class="ax">22</text>
<text x="532.25" y="1143.50" font-size="8.80" text-anchor="start" font-weight="normal" fill="#222" textLength="11.70" lengthAdjust="spacingAndGlyphs" class="ax">24</text>
<text x="578.71" y="1143.50" font-size="8.80" text-anchor="start" font-weight="normal" fill="#222" textLength="11.70" lengthAdjust="spacingAndGlyphs" class="ax">26</text>
<text x="625.17" y="1143.50" font-size="8.80" text-anchor="start" font-weight="normal" fill="#222" textLength="11.70" lengthAdjust="spacingAndGlyphs" class="ax">28</text>
<text x="671.63" y="1143.50" font-size="8.80" text-anchor="start" font-weight="normal" fill="#222" textLength="11.70" lengthAdjust="spacingAndGlyphs" class="ax">30</text>
<text transform="translate(8.4,1063.50) rotate(-90)" x="0" y="0" font-size="8.9" text-anchor="middle" fill="#222" textLength="113" lengthAdjust="spacingAndGlyphs">Abundance (X10<tspan font-size="5.5" dy="-3">5</tspan><tspan dy="3">)</tspan></text>
<text x="649.50" y="986.70" font-size="23.20" text-anchor="start" font-weight="bold" fill="#000">f</text>
<text x="68.40" y="1114.70" font-size="5.20" text-anchor="middle" font-weight="normal" fill="#333">2</text>
<text x="75.40" y="1117.70" font-size="5.20" text-anchor="middle" font-weight="normal" fill="#333">3</text>
<text x="108.40" y="1119.10" font-size="5.20" text-anchor="middle" font-weight="normal" fill="#333">4</text>
<text x="127.70" y="1119.10" font-size="5.20" text-anchor="middle" font-weight="normal" fill="#333">6</text>
<text x="133.20" y="1068.90" font-size="5.20" text-anchor="middle" font-weight="normal" fill="#333">7</text>
<text x="161.00" y="1117.70" font-size="5.20" text-anchor="middle" font-weight="normal" fill="#333">9</text>
<text x="167.20" y="1117.70" font-size="5.20" text-anchor="middle" font-weight="normal" fill="#333">10</text>
<text x="170.50" y="1119.90" font-size="5.20" text-anchor="middle" font-weight="normal" fill="#333">11</text>
<text x="175.50" y="1119.10" font-size="5.20" text-anchor="middle" font-weight="bold" fill="#111">13</text>
<text x="183.50" y="1106.90" font-size="5.20" text-anchor="middle" font-weight="bold" fill="#111">15</text>
<text x="187.20" y="1116.20" font-size="5.20" text-anchor="middle" font-weight="normal" fill="#333">16</text>
<text x="191.50" y="1118.90" font-size="5.20" text-anchor="middle" font-weight="normal" fill="#333">18</text>
<text x="194.50" y="1096.60" font-size="5.20" text-anchor="middle" font-weight="bold" fill="#111">19</text>
<text x="198.50" y="1119.90" font-size="5.20" text-anchor="middle" font-weight="normal" fill="#333">20</text>
<text x="202.40" y="1102.50" font-size="5.20" text-anchor="middle" font-weight="normal" fill="#333">21</text>
<text x="221.50" y="1117.70" font-size="5.20" text-anchor="middle" font-weight="normal" fill="#333">23</text>
<text x="222.60" y="1109.80" font-size="5.20" text-anchor="middle" font-weight="normal" fill="#333">24</text>
<text x="226.50" y="1119.90" font-size="5.20" text-anchor="middle" font-weight="normal" fill="#333">26</text>
<text x="227.80" y="1113.90" font-size="5.20" text-anchor="middle" font-weight="normal" fill="#333">27</text>
<text x="234.00" y="1114.70" font-size="5.20" text-anchor="middle" font-weight="normal" fill="#333">29</text>
<text x="237.60" y="1106.60" font-size="5.20" text-anchor="middle" font-weight="bold" fill="#111">30</text>
<text x="240.90" y="1111.40" font-size="5.20" text-anchor="middle" font-weight="normal" fill="#333">31</text>
<text x="241.20" y="1120.40" font-size="5.20" text-anchor="middle" font-weight="bold" fill="#111">34</text>
<text x="244.30" y="1091.60" font-size="5.20" text-anchor="middle" font-weight="bold" fill="#111">35</text>
<text x="247.40" y="1113.40" font-size="5.20" text-anchor="middle" font-weight="normal" fill="#333">36</text>
<text x="253.80" y="1119.10" font-size="5.20" text-anchor="middle" font-weight="normal" fill="#333">37</text>
<text x="258.60" y="1115.20" font-size="5.20" text-anchor="middle" font-weight="normal" fill="#333">38</text>
<text x="266.70" y="1119.60" font-size="5.20" text-anchor="middle" font-weight="normal" fill="#333">41</text>
<text x="270.60" y="1076.90" font-size="5.20" text-anchor="middle" font-weight="bold" fill="#111">42</text>
<text x="278.40" y="1022.30" font-size="5.20" text-anchor="middle" font-weight="bold" fill="#111">45</text>
<text x="281.40" y="1116.60" font-size="5.20" text-anchor="middle" font-weight="normal" fill="#333">46</text>
<text x="285.30" y="989.30" font-size="5.20" text-anchor="middle" font-weight="bold" fill="#111">49</text>
<text x="290.10" y="1117.90" font-size="5.20" text-anchor="middle" font-weight="normal" fill="#333">50</text>
<text x="298.20" y="1118.90" font-size="5.20" text-anchor="middle" font-weight="normal" fill="#333">52</text>
<text x="301.70" y="1109.20" font-size="5.20" text-anchor="middle" font-weight="bold" fill="#111">53</text>
<text x="311.40" y="1118.90" font-size="5.20" text-anchor="middle" font-weight="normal" fill="#333">54</text>
<text x="316.00" y="1119.90" font-size="5.20" text-anchor="middle" font-weight="normal" fill="#333">56</text>
<text x="319.80" y="1099.30" font-size="5.20" text-anchor="middle" font-weight="normal" fill="#333">57</text>
<text x="323.50" y="1074.90" font-size="5.20" text-anchor="middle" font-weight="bold" fill="#111">58</text>
<text x="342.90" y="1120.40" font-size="5.20" text-anchor="middle" font-weight="normal" fill="#333">61</text>
<text x="349.30" y="1112.20" font-size="5.20" text-anchor="middle" font-weight="bold" fill="#111">63</text>
<text x="358.80" y="1112.20" font-size="5.20" text-anchor="middle" font-weight="normal" fill="#333">64</text>
<text x="384.60" y="1119.10" font-size="5.20" text-anchor="middle" font-weight="normal" fill="#333">67</text>
<text x="390.90" y="1115.90" font-size="5.20" text-anchor="middle" font-weight="normal" fill="#333">68</text>
<text x="395.20" y="1119.90" font-size="5.20" text-anchor="middle" font-weight="normal" fill="#333">70</text>
<text x="415.60" y="1119.80" font-size="5.20" text-anchor="middle" font-weight="normal" fill="#333">75</text>
<text x="422.70" y="1114.00" font-size="5.20" text-anchor="middle" font-weight="bold" fill="#111">76</text>
<text x="431.00" y="1119.80" font-size="5.20" text-anchor="middle" font-weight="normal" fill="#333">77</text>
<text x="441.60" y="1119.80" font-size="5.20" text-anchor="middle" font-weight="normal" fill="#333">80</text>
<text x="448.70" y="1119.80" font-size="5.20" text-anchor="middle" font-weight="normal" fill="#333">82</text>
<text x="455.30" y="1095.30" font-size="5.20" text-anchor="middle" font-weight="bold" fill="#111">84</text>
<text x="461.50" y="1115.30" font-size="5.20" text-anchor="middle" font-weight="normal" fill="#333">86</text>
<text x="465.20" y="1121.10" font-size="5.20" text-anchor="middle" font-weight="normal" fill="#333">87</text>
<text x="547.50" y="1117.10" font-size="5.20" text-anchor="middle" font-weight="normal" fill="#333">92</text>
<path d="M302.50,1109.50 L305.80,1113.00" stroke="#222" stroke-width="0.6" marker-end="url(#ahs)"/>
<path d="M319.80,1099.50 L319.80,1116.50" stroke="#222" stroke-width="0.6" marker-end="url(#ahs)"/>
<path d="M350.20,1112.50 L353.50,1116.50" stroke="#222" stroke-width="0.6" marker-end="url(#ahs)"/>
<path d="M358.60,1112.50 L358.00,1116.50" stroke="#222" stroke-width="0.6" marker-end="url(#ahs)"/>
<path d="M422.70,1114.30 L424.80,1118.50" stroke="#222" stroke-width="0.6" marker-end="url(#ahs)"/>
<path d="M390.90,1116.00 L390.90,1119.00" stroke="#222" stroke-width="0.6" marker-end="url(#ahs)"/>
<path d="M240.80,1111.50 L240.20,1115.00" stroke="#222" stroke-width="0.6" marker-end="url(#ahs)"/>
<g transform="translate(0.00,0.00)">
<clipPath id="zc1"><path d="M620.4,1002.2 L622.4,1004 L624.5,1000.1 L625.1,1003 C626,1004.5 627,1006 628,1007.7 C630,1009.8 632,1012 633.9,1014.1 C635.4,1014.3 637,1014.5 638.5,1014.7 C641.2,1014.5 644,1014.3 646.7,1014.1 C649,1014.3 651.4,1014.5 653.7,1014.7 C655.1,1015.8 656.5,1017 657.8,1018.2 C658.3,1020.5 658.7,1022.9 659,1025.2 C658.6,1028 658,1030.7 657.2,1033.4 L653.7,1040.4 L654.9,1050.3 L649,1049.7 L649,1038.1 L646.7,1033.4 C644.6,1033.6 642.5,1033.7 640.3,1035.7 L641.5,1050.3 L638,1050.3 L636.2,1040.4 L635,1033.4 L631.5,1035.7 L632.7,1050.3 L628,1050.3 L628.6,1047.4 L626.9,1033.4 C626.3,1032.2 625.7,1031 625.1,1029.9 C624.7,1028.3 624.3,1026.8 623.9,1025.2 C623.5,1023.3 623.2,1021.3 622.8,1019.4 C621,1019 619.2,1018.6 617.5,1018.2 C616,1018.4 614.4,1018.6 612.8,1018.8 C612,1017.8 611.2,1016.9 610.5,1015.9 C611.3,1014.7 612,1013.6 612.8,1012.4 C614.4,1010.4 616,1008.5 617.5,1006.5 C618.5,1005 619.4,1003.6 620.4,1002.2 Z"/></clipPath>
<path d="M620.4,1002.2 L622.4,1004 L624.5,1000.1 L625.1,1003 C626,1004.5 627,1006 628,1007.7 C630,1009.8 632,1012 633.9,1014.1 C635.4,1014.3 637,1014.5 638.5,1014.7 C641.2,1014.5 644,1014.3 646.7,1014.1 C649,1014.3 651.4,1014.5 653.7,1014.7 C655.1,1015.8 656.5,1017 657.8,1018.2 C658.3,1020.5 658.7,1022.9 659,1025.2 C658.6,1028 658,1030.7 657.2,1033.4 L653.7,1040.4 L654.9,1050.3 L649,1049.7 L649,1038.1 L646.7,1033.4 C644.6,1033.6 642.5,1033.7 640.3,1035.7 L641.5,1050.3 L638,1050.3 L636.2,1040.4 L635,1033.4 L631.5,1035.7 L632.7,1050.3 L628,1050.3 L628.6,1047.4 L626.9,1033.4 C626.3,1032.2 625.7,1031 625.1,1029.9 C624.7,1028.3 624.3,1026.8 623.9,1025.2 C623.5,1023.3 623.2,1021.3 622.8,1019.4 C621,1019 619.2,1018.6 617.5,1018.2 C616,1018.4 614.4,1018.6 612.8,1018.8 C612,1017.8 611.2,1016.9 610.5,1015.9 C611.3,1014.7 612,1013.6 612.8,1012.4 C614.4,1010.4 616,1008.5 617.5,1006.5 C618.5,1005 619.4,1003.6 620.4,1002.2 Z" fill="#d6d6d6" stroke="#333" stroke-width="0.5"/>
<g clip-path="url(#zc1)" stroke="#161616" fill="none">
<path d="M613,1009.5 L627,1005 M612,1013.5 L629,1008.5 M613,1017.5 L631,1012 M620,1020.5 L633,1016 M623,1023.5 L635,1019 M623.5,1027 L637,1022 M624.5,1030.5 L639,1025.5 M625,1034 L641,1029" stroke-width="1.6"/>
<path d="M637.5,1013 L636.5,1034 M641,1013 L640,1034 M644.3,1013 L643.8,1034 M647.6,1013 L647.3,1034 M651,1013.5 L651.2,1034 M654.3,1015 L654.8,1034 M657.5,1016.5 L658.4,1030" stroke-width="1.7"/>
<path d="M626,1037 L633,1037 M626,1040.5 L633,1040.5 M626,1044 L633,1044 M634,1038.5 L642,1038.5 M634,1042 L642,1042 M634,1045.5 L642,1045.5 M648,1037 L656,1037 M648,1040.5 L656,1040.5 M648,1044 L656,1044" stroke-width="1.2"/>
</g>
<ellipse cx="612.2" cy="1016.3" rx="2.1" ry="1.9" fill="#111"/>
<path d="M628,1048.6 L632.7,1048.6 L632.7,1050.5 L628,1050.5 Z M637.8,1048.6 L641.5,1048.6 L641.5,1050.5 L637.8,1050.5 Z M649,1048.6 L654.9,1048.6 L654.9,1050.5 L649,1050.5 Z" fill="#111"/>
<path d="M656.3,1028.7 C657,1032 657.4,1036 657.2,1039.8" stroke="#111" stroke-width="1.7" fill="none"/>
<path d="M619.8,1001.5 L622.4,1004.2 L619.4,1005.2 Z" fill="#1a1a1a"/>
</g>
<clipPath id="cp6"><rect x="54.8" y="1176.50" width="627" height="134.40"/></clipPath>
<path d="M55.0,1280.0L55.2,1280.4L55.4,1280.9L55.6,1281.3L55.8,1281.7L56.0,1282.1L56.2,1282.5L56.4,1282.9L56.6,1283.3L56.8,1283.7L57.0,1284.1L57.2,1284.4L57.4,1284.8L57.6,1285.1L57.8,1285.5L58.0,1285.8L58.2,1286.1L58.4,1286.4L58.6,1286.8L58.8,1287.0L59.0,1287.2L59.2,1287.2L59.4,1286.6L59.6,1285.5L59.6,1285.4L59.8,1284.4L59.8,1284.3L60.0,1284.0L60.2,1284.8L60.2,1284.9L60.4,1286.4L60.4,1286.6L60.6,1288.2L60.8,1289.3L61.0,1289.9L61.2,1290.3L61.4,1290.5L61.6,1290.7L61.8,1291.0L62.0,1291.2L62.2,1291.4L62.4,1291.6L62.6,1291.8L62.8,1292.0L63.0,1292.2L63.2,1292.4L63.4,1292.6L63.6,1292.8L63.8,1293.0L64.0,1293.2L64.2,1293.4L64.4,1293.5L64.6,1293.7L64.8,1293.9L65.0,1294.1L65.2,1294.2L65.4,1294.4L65.6,1294.5L65.8,1294.7L66.0,1294.8L66.2,1295.0L66.4,1295.1L66.6,1295.3L66.8,1295.4L67.0,1295.6L67.2,1295.7L67.4,1295.8L67.6,1296.0L67.8,1296.1L68.0,1296.2L68.2,1296.4L68.4,1296.5L68.6,1296.6L68.8,1296.7L69.0,1296.8L69.2,1297.0L69.4,1297.1L69.6,1297.2L69.8,1297.3L70.0,1297.4L70.2,1297.5L70.4,1297.6L70.6,1297.7L70.8,1297.8L71.0,1297.9L71.2,1298.0L71.4,1298.1L71.6,1298.2L71.8,1298.3L72.0,1298.4L72.2,1298.5L72.4,1298.5L72.6,1298.4L72.8,1298.1L73.0,1297.4L73.0,1297.3L73.2,1296.8L73.2,1296.7L73.4,1296.5L73.6,1296.9L73.6,1296.9L73.8,1297.6L73.8,1297.8L74.0,1298.6L74.2,1299.1L74.4,1299.3L74.6,1299.5L74.8,1299.6L75.0,1299.6L75.2,1299.7L75.4,1299.8L75.6,1299.9L75.8,1299.9L76.0,1300.0L76.2,1300.1L76.4,1300.1L76.6,1300.2L76.8,1300.3L77.0,1300.3L77.2,1300.4L77.4,1300.5L77.6,1300.5L77.8,1300.6L78.0,1300.7L78.2,1300.7L78.4,1300.8L78.6,1300.8L78.8,1300.9L79.0,1301.0L79.2,1301.0L79.4,1301.1L79.6,1301.1L79.8,1301.2L80.0,1301.2L80.2,1301.3L80.4,1301.3L80.6,1301.4L80.8,1301.4L81.0,1301.5L81.2,1301.5L81.4,1301.6L81.8,1301.7L82.2,1301.8L82.6,1301.9L83.0,1302.0L83.4,1302.1L83.8,1302.2L84.2,1302.2L84.6,1302.3L85.0,1302.4L85.4,1302.5L85.8,1302.6L86.2,1302.7L86.6,1302.7L87.0,1302.8L87.4,1302.9L87.8,1303.0L88.2,1303.0L88.6,1303.1L89.0,1303.2L89.4,1303.2L89.8,1303.3L90.2,1303.4L90.6,1303.4L91.0,1303.5L91.4,1303.6L91.8,1303.6L92.2,1303.7L92.6,1303.8L93.0,1303.8L93.4,1303.9L93.8,1303.9L94.2,1304.0L94.6,1304.0L95.0,1304.1L95.4,1304.1L95.8,1304.2L96.2,1304.3L96.6,1304.3L97.0,1304.4L97.4,1304.4L98.0,1304.5L98.6,1304.6L99.2,1304.6L99.8,1304.7L100.4,1304.8L101.0,1304.8L101.6,1304.9L102.2,1305.0L102.8,1305.0L103.4,1305.1L104.0,1305.1L104.6,1305.2L105.2,1305.3L105.8,1305.3L106.4,1305.4L107.0,1305.4L107.6,1305.5L108.2,1305.5L108.8,1305.6L109.4,1305.6L110.2,1305.7L111.0,1305.8L111.8,1305.8L112.6,1305.9L113.4,1305.9L114.2,1306.0L115.0,1306.1L115.8,1306.1L116.6,1306.2L117.4,1306.2L118.2,1306.3L119.0,1306.3L120.0,1306.4L121.0,1306.4L122.0,1306.5L123.0,1306.6L124.0,1306.6L125.0,1306.7L126.0,1306.7L127.0,1306.8L128.2,1306.8L128.6,1306.8L128.8,1306.7L129.0,1306.5L129.1,1306.3L129.2,1306.2L129.2,1306.1L129.4,1306.0L129.6,1306.1L129.6,1306.2L129.7,1306.4L129.8,1306.5L130.0,1306.8L130.2,1306.9L130.8,1307.0L132.0,1307.0L133.2,1307.1L134.0,1307.0L134.2,1306.8L134.4,1306.1L134.6,1303.8L134.8,1299.2L134.9,1295.3L135.0,1293.0L135.1,1289.9L135.2,1288.3L135.3,1287.6L135.4,1288.3L135.5,1289.9L135.6,1293.0L135.7,1295.3L135.8,1299.2L136.0,1303.8L136.2,1306.1L136.4,1306.9L136.6,1307.1L137.0,1307.2L138.0,1307.2L138.2,1307.2L138.4,1306.9L138.6,1306.3L138.7,1305.9L138.8,1305.4L138.8,1305.3L139.0,1305.0L139.2,1305.3L139.2,1305.4L139.3,1305.9L139.4,1306.3L139.6,1306.9L139.8,1307.2L140.0,1307.3L141.2,1307.3L142.8,1307.4L144.6,1307.5L146.4,1307.5L148.4,1307.6L150.2,1307.6L150.4,1307.4L150.6,1306.4L150.8,1303.3L151.0,1295.7L151.2,1283.0L151.2,1281.0L151.4,1269.6L151.4,1268.9L151.6,1263.7L151.8,1268.9L151.8,1269.6L152.0,1281.0L152.0,1283.0L152.2,1295.7L152.4,1303.3L152.6,1306.5L152.8,1307.4L153.0,1307.6L153.6,1307.7L156.0,1307.7L158.6,1307.8L161.2,1307.9L164.2,1307.9L167.4,1308.0L169.0,1307.9L169.2,1307.8L169.4,1307.4L169.6,1306.9L169.6,1306.8L169.8,1306.3L169.8,1306.2L170.0,1306.0L170.2,1306.2L170.2,1306.3L170.4,1306.8L170.4,1306.9L170.6,1307.5L170.8,1307.8L171.0,1308.0L171.4,1308.0L172.2,1308.0L172.4,1307.8L172.6,1307.4L172.7,1307.1L172.8,1306.8L172.8,1306.7L173.0,1306.5L173.2,1306.7L173.2,1306.8L173.3,1307.1L173.4,1307.4L173.6,1307.8L173.8,1308.0L174.2,1308.1L177.4,1308.1L180.6,1308.1L183.8,1308.2L185.6,1308.1L185.8,1308.0L186.0,1307.2L186.2,1305.5L186.3,1304.4L186.4,1303.2L186.4,1302.7L186.6,1302.0L186.8,1302.7L186.8,1303.2L186.9,1304.4L187.0,1305.5L187.2,1307.2L187.4,1308.0L187.6,1308.1L187.8,1308.1L188.0,1307.6L188.2,1306.0L188.4,1303.2L188.4,1303.1L188.5,1301.0L188.6,1300.4L188.7,1300.0L188.8,1300.4L188.9,1301.0L189.0,1303.1L189.0,1303.2L189.2,1306.0L189.4,1307.6L189.6,1308.1L189.8,1308.2L191.2,1308.2L191.4,1308.1L191.6,1308.0L191.8,1307.6L192.0,1306.8L192.2,1305.2L192.4,1302.3L192.6,1297.4L192.8,1289.8L193.0,1279.0L193.2,1265.0L193.4,1248.7L193.4,1244.4L193.6,1231.8L193.8,1216.9L193.8,1215.4L194.0,1206.7L194.2,1203.0L194.4,1206.7L194.6,1215.4L194.6,1217.0L194.8,1231.8L194.9,1244.4L195.0,1248.7L195.2,1265.0L195.4,1279.0L195.6,1289.8L195.8,1297.4L196.0,1302.3L196.2,1305.2L196.4,1306.8L196.6,1307.6L196.8,1308.0L197.0,1308.2L197.2,1308.2L200.4,1308.3L203.6,1308.2L204.0,1308.2L204.2,1308.2L204.4,1307.9L204.6,1307.3L204.7,1306.9L204.8,1306.4L204.8,1306.3L205.0,1306.0L205.2,1306.3L205.2,1306.4L205.3,1306.9L205.4,1307.2L205.6,1307.9L205.8,1308.1L206.0,1308.2L207.2,1308.1L208.0,1308.1L208.6,1308.0L209.2,1307.9L209.6,1307.9L209.8,1307.8L210.0,1307.8L210.2,1307.7L210.4,1307.3L210.6,1306.5L210.8,1305.1L210.8,1304.9L211.0,1303.7L211.0,1303.6L211.2,1303.0L211.4,1303.5L211.4,1303.6L211.6,1304.7L211.6,1304.9L211.8,1306.2L212.0,1306.9L212.2,1307.2L212.6,1307.2L212.8,1307.1L213.0,1307.1L213.2,1307.0L213.4,1306.9L213.6,1306.9L213.8,1306.8L214.0,1306.7L214.2,1306.6L214.4,1306.5L214.6,1306.4L214.8,1306.3L215.0,1306.2L215.2,1306.1L215.4,1306.0L215.6,1305.8L215.7,1305.7L215.8,1305.6L215.8,1305.6L216.0,1305.5L216.2,1305.4L216.3,1305.4L216.4,1305.3L216.6,1305.3L216.8,1305.2L217.0,1305.0L217.2,1304.9L217.4,1304.8L217.6,1304.6L217.8,1304.5L218.0,1304.4L218.2,1304.2L218.4,1304.1L218.6,1304.0L218.8,1303.8L219.0,1303.7L219.2,1303.6L219.4,1303.5L219.6,1303.3L219.8,1303.2L220.0,1303.1L220.2,1303.0L220.4,1302.8L220.6,1302.6L220.8,1301.9L221.0,1300.0L221.2,1296.5L221.3,1293.5L221.4,1291.8L221.5,1289.4L221.6,1288.2L221.7,1287.6L221.8,1288.1L221.9,1289.2L222.0,1291.5L222.1,1293.1L222.2,1296.0L222.4,1299.2L222.6,1300.6L222.8,1300.6L223.0,1299.8L223.2,1298.2L223.4,1295.7L223.6,1292.4L223.8,1288.3L223.9,1286.1L224.0,1283.9L224.2,1279.9L224.2,1279.0L224.4,1277.1L224.6,1276.0L224.8,1277.0L224.9,1278.9L225.0,1279.7L225.2,1283.6L225.3,1285.8L225.4,1287.9L225.6,1291.7L225.8,1294.3L226.0,1294.6L226.2,1292.4L226.2,1292.2L226.3,1290.2L226.4,1289.6L226.5,1289.4L226.6,1290.1L226.7,1290.9L226.8,1293.8L226.8,1294.1L227.0,1297.8L227.2,1299.9L227.4,1300.6L227.6,1300.7L228.2,1300.6L228.4,1300.4L228.6,1299.4L228.8,1296.5L229.0,1291.3L229.0,1291.0L229.1,1287.1L229.2,1286.1L229.3,1285.3L229.4,1286.1L229.5,1287.1L229.6,1291.0L229.6,1291.3L229.8,1296.4L230.0,1299.4L230.2,1300.3L230.4,1300.5L230.6,1300.4L230.8,1300.1L231.0,1299.0L231.2,1297.2L231.2,1297.1L231.3,1295.7L231.4,1295.3L231.5,1295.0L231.6,1295.3L231.7,1295.6L231.8,1297.0L231.8,1297.2L232.0,1299.0L232.2,1300.1L232.4,1300.4L232.6,1300.5L232.8,1300.5L233.0,1300.3L233.2,1299.3L233.4,1294.9L233.6,1281.9L233.8,1256.7L233.9,1247.7L234.0,1227.2L234.0,1223.7L234.2,1213.4L234.4,1223.6L234.4,1227.2L234.5,1247.7L234.6,1256.7L234.8,1281.9L235.0,1294.8L235.2,1298.9L235.4,1298.7L235.6,1295.9L235.7,1294.1L235.8,1292.0L235.8,1291.2L236.0,1290.0L236.2,1291.2L236.2,1292.0L236.3,1294.1L236.4,1295.9L236.6,1298.8L236.8,1299.5L237.0,1297.3L237.2,1288.4L237.4,1266.7L237.6,1240.6L237.6,1233.4L237.7,1213.2L237.8,1205.9L237.9,1201.7L238.0,1205.9L238.1,1213.4L238.2,1233.4L238.2,1240.5L238.4,1266.7L238.6,1288.4L238.8,1297.3L239.0,1299.3L239.2,1297.5L239.4,1290.6L239.6,1278.7L239.6,1278.0L239.7,1268.8L239.8,1266.3L239.9,1264.4L240.0,1266.0L240.1,1268.3L240.2,1277.0L240.2,1277.6L240.4,1288.8L240.6,1294.6L240.8,1295.3L241.0,1293.6L241.2,1290.9L241.4,1287.3L241.6,1282.9L241.8,1277.5L242.0,1270.4L242.2,1256.8L242.4,1221.1L242.6,1149.0L242.6,1140.5L242.8,1086.1L242.8,1074.7L242.9,1060.6L243.0,1069.0L243.0,1078.0L243.2,1124.7L243.2,1132.1L243.4,1194.0L243.6,1219.0L243.8,1211.8L244.0,1168.7L244.1,1126.9L244.2,1098.5L244.3,1080.6L244.4,1063.6L244.5,1089.4L244.6,1110.9L244.7,1144.0L244.8,1192.7L245.0,1246.6L245.2,1268.4L245.4,1277.3L245.6,1282.9L245.8,1287.3L246.0,1290.9L246.2,1293.5L246.4,1295.0L246.6,1295.0L246.7,1294.6L246.8,1294.0L246.8,1293.8L247.0,1293.7L247.2,1294.8L247.2,1295.2L247.3,1296.6L247.4,1297.6L247.6,1299.3L247.8,1300.1L248.0,1300.3L248.2,1300.4L248.6,1300.4L248.8,1300.2L249.0,1299.5L249.2,1298.4L249.2,1298.3L249.3,1297.4L249.4,1297.2L249.5,1297.0L249.6,1297.2L249.7,1297.4L249.8,1298.3L249.8,1298.4L250.0,1299.5L250.2,1300.2L250.4,1300.4L250.8,1300.4L251.2,1300.4L251.4,1300.1L251.6,1298.8L251.8,1294.6L252.0,1287.5L252.0,1287.1L252.1,1281.6L252.2,1280.2L252.3,1279.1L252.4,1280.2L252.5,1281.6L252.6,1287.1L252.6,1287.5L252.8,1294.6L253.0,1298.8L253.2,1300.1L253.4,1300.4L253.8,1300.4L254.0,1300.2L254.2,1299.1L254.4,1294.5L254.6,1281.6L254.8,1255.6L254.9,1233.3L255.0,1220.5L255.1,1202.8L255.2,1193.7L255.3,1189.8L255.4,1193.7L255.5,1202.8L255.6,1220.5L255.7,1233.3L255.8,1255.6L256.0,1281.6L256.2,1294.5L256.4,1299.1L256.6,1300.2L256.8,1300.4L257.4,1300.4L257.6,1300.4L257.8,1300.0L258.0,1299.0L258.2,1297.1L258.2,1297.0L258.3,1295.6L258.4,1295.3L258.5,1295.0L258.6,1295.3L258.7,1295.6L258.8,1297.0L258.8,1297.1L259.0,1299.0L259.2,1300.0L259.4,1300.4L259.6,1300.5L260.6,1300.4L260.8,1300.2L261.0,1299.5L261.2,1298.4L261.2,1298.3L261.3,1297.4L261.4,1297.2L261.5,1297.0L261.6,1297.2L261.7,1297.4L261.8,1298.3L261.8,1298.4L262.0,1299.5L262.2,1300.2L262.4,1300.4L262.8,1300.5L263.6,1300.4L263.8,1300.3L264.0,1299.6L264.2,1297.6L264.4,1294.1L264.4,1293.9L264.5,1291.2L264.6,1290.5L264.7,1290.0L264.8,1290.5L264.9,1291.2L265.0,1293.9L265.0,1294.1L265.2,1297.6L265.4,1299.6L265.6,1300.3L265.8,1300.4L266.6,1300.4L266.8,1300.1L267.0,1298.5L267.2,1293.6L267.4,1285.3L267.4,1284.8L267.5,1278.3L267.6,1276.7L267.7,1275.4L267.8,1276.7L267.9,1278.3L268.0,1284.8L268.0,1285.3L268.2,1293.6L268.4,1298.5L268.6,1300.1L268.8,1300.4L269.6,1300.4L269.8,1300.2L270.0,1298.9L270.2,1294.4L270.4,1283.4L270.6,1270.2L270.6,1266.6L270.7,1256.5L270.8,1252.7L270.9,1250.6L271.0,1252.7L271.1,1256.4L271.2,1266.6L271.2,1270.2L271.4,1283.4L271.6,1294.4L271.8,1298.6L272.0,1298.2L272.2,1293.5L272.4,1285.0L272.4,1284.5L272.5,1278.0L272.6,1276.3L272.7,1275.0L272.8,1276.3L272.9,1278.0L273.0,1284.5L273.0,1285.0L273.2,1293.5L273.4,1298.5L273.6,1300.1L273.8,1300.4L274.6,1300.4L274.8,1300.4L275.0,1300.1L275.2,1298.8L275.4,1295.0L275.6,1288.4L275.6,1288.0L275.7,1282.8L275.8,1281.4L275.9,1280.1L276.0,1280.7L276.1,1281.7L276.2,1285.7L276.2,1286.0L276.4,1290.8L276.6,1292.2L276.8,1290.4L277.0,1286.8L277.2,1282.1L277.4,1276.3L277.6,1267.7L277.8,1247.6L278.0,1199.4L278.1,1156.1L278.2,1126.7L278.3,1107.8L278.4,1089.0L278.4,1085.2L278.5,1100.1L278.6,1115.2L278.7,1138.0L278.8,1166.3L278.9,1174.8L279.0,1166.3L279.1,1138.0L279.2,1115.2L279.3,1100.1L279.4,1085.2L279.4,1089.0L279.5,1107.8L279.6,1126.7L279.7,1156.1L279.8,1199.3L280.0,1247.4L280.2,1266.2L280.4,1271.2L280.6,1270.4L280.6,1270.3L280.7,1269.0L280.8,1269.0L280.9,1270.0L281.0,1272.8L281.1,1274.9L281.2,1281.9L281.2,1282.4L281.4,1290.8L281.6,1296.0L281.8,1298.3L282.0,1299.3L282.2,1299.8L282.4,1300.1L282.6,1300.2L282.8,1300.1L283.0,1299.0L283.2,1294.5L283.4,1281.6L283.6,1255.6L283.7,1233.3L283.8,1220.5L283.9,1202.8L284.0,1193.7L284.1,1189.8L284.2,1193.7L284.3,1202.8L284.4,1220.5L284.5,1233.3L284.6,1255.6L284.8,1281.3L285.0,1292.7L285.2,1291.0L285.4,1274.6L285.6,1239.5L285.7,1209.2L285.8,1191.8L285.9,1167.7L286.0,1155.3L286.1,1150.0L286.2,1155.3L286.3,1167.7L286.4,1191.8L286.5,1209.2L286.6,1239.5L286.8,1274.9L287.0,1292.4L287.2,1298.6L287.4,1300.1L287.6,1300.3L287.8,1299.7L288.0,1297.6L288.2,1294.1L288.2,1293.9L288.3,1291.2L288.4,1290.5L288.5,1290.0L288.6,1290.5L288.7,1291.2L288.8,1293.9L288.8,1294.1L289.0,1297.6L289.2,1299.7L289.4,1300.3L289.6,1300.5L289.8,1300.4L290.0,1299.9L290.2,1298.1L290.4,1293.7L290.5,1291.1L290.6,1287.9L290.6,1286.8L290.8,1285.0L291.0,1286.8L291.0,1287.9L291.1,1291.1L291.2,1293.7L291.4,1298.1L291.6,1299.9L291.8,1300.4L292.0,1300.5L292.2,1300.5L292.4,1300.3L292.6,1299.5L292.8,1297.1L293.0,1292.9L293.0,1292.7L293.1,1289.5L293.2,1288.6L293.3,1288.0L293.4,1288.6L293.5,1289.5L293.6,1292.7L293.6,1292.9L293.8,1297.1L294.0,1299.5L294.2,1300.3L294.4,1300.5L295.8,1300.5L296.0,1300.3L296.2,1299.9L296.4,1299.0L296.6,1297.4L296.6,1297.2L296.8,1295.7L296.8,1295.6L297.0,1295.0L297.2,1295.6L297.2,1295.7L297.4,1297.2L297.4,1297.4L297.6,1299.0L297.8,1299.9L298.0,1300.3L298.2,1300.5L298.8,1300.5L299.0,1300.4L299.2,1300.0L299.4,1299.3L299.6,1298.0L299.6,1297.8L299.8,1296.6L299.8,1296.5L300.0,1296.0L300.2,1296.5L300.2,1296.6L300.4,1297.8L300.4,1298.0L300.6,1299.3L300.8,1300.0L301.0,1300.4L301.2,1300.5L302.8,1300.5L303.0,1300.4L303.2,1299.9L303.4,1297.5L303.6,1289.6L303.8,1270.7L304.0,1239.1L304.0,1234.1L304.2,1205.7L304.2,1203.9L304.4,1191.0L304.6,1203.9L304.6,1205.7L304.8,1234.1L304.8,1239.1L305.0,1270.7L305.2,1289.5L305.4,1296.5L305.6,1295.1L305.8,1284.5L306.0,1262.9L306.1,1255.2L306.2,1237.6L306.2,1234.6L306.4,1225.8L306.6,1234.5L306.6,1237.6L306.7,1255.2L306.8,1263.0L307.0,1284.6L307.2,1295.7L307.4,1299.5L307.6,1300.3L307.8,1300.5L308.8,1300.5L309.0,1300.2L309.2,1298.8L309.4,1294.7L309.6,1287.5L309.6,1287.1L309.7,1281.6L309.8,1280.2L309.9,1279.1L310.0,1280.2L310.1,1281.6L310.2,1287.1L310.2,1287.5L310.4,1294.7L310.6,1298.8L310.8,1300.2L311.0,1300.5L312.0,1300.5L312.2,1300.2L312.4,1299.3L312.6,1297.2L312.7,1295.9L312.8,1294.4L312.8,1293.9L313.0,1293.0L313.2,1293.9L313.2,1294.4L313.3,1295.9L313.4,1297.2L313.6,1299.3L313.8,1300.2L314.0,1300.5L314.8,1300.5L315.0,1300.4L315.2,1300.1L315.4,1298.9L315.6,1295.9L315.7,1294.1L315.8,1292.0L315.8,1291.2L316.0,1290.0L316.2,1291.2L316.2,1292.0L316.3,1294.1L316.4,1295.9L316.6,1298.8L316.8,1300.0L317.0,1300.1L317.2,1300.0L317.4,1299.6L317.6,1299.0L317.8,1298.1L318.0,1296.8L318.2,1294.9L318.4,1292.3L318.6,1288.9L318.8,1284.6L319.0,1279.4L319.2,1272.7L319.4,1260.1L319.5,1247.6L319.6,1227.9L319.8,1163.7L319.8,1156.1L320.0,1107.7L320.0,1097.7L320.1,1089.0L320.1,1085.2L320.2,1092.4L320.2,1100.1L320.4,1138.0L320.4,1143.5L320.6,1174.8L320.8,1143.5L320.8,1138.0L321.0,1100.1L321.0,1092.4L321.1,1085.2L321.1,1089.0L321.2,1097.7L321.2,1107.7L321.4,1156.1L321.4,1163.7L321.6,1227.9L321.7,1247.6L321.8,1260.1L322.0,1272.7L322.2,1279.3L322.4,1284.1L322.6,1285.8L322.8,1280.0L323.0,1260.5L323.2,1235.3L323.2,1228.3L323.3,1208.8L323.4,1201.6L323.5,1197.8L323.6,1202.5L323.7,1210.4L323.8,1231.2L323.8,1238.6L324.0,1265.6L324.2,1288.0L324.4,1297.2L324.6,1299.9L324.8,1300.4L325.0,1300.5L325.6,1300.5L325.8,1300.4L326.0,1300.1L326.2,1298.9L326.4,1295.9L326.5,1294.1L326.6,1292.0L326.6,1291.2L326.8,1290.0L327.0,1291.2L327.0,1292.0L327.1,1294.1L327.2,1295.9L327.4,1298.9L327.6,1300.1L327.8,1300.4L328.0,1300.5L329.0,1300.5L329.2,1300.3L329.4,1299.5L329.6,1297.7L329.7,1296.6L329.8,1295.2L329.8,1294.8L330.0,1294.0L330.2,1294.8L330.2,1295.2L330.3,1296.6L330.4,1297.7L330.6,1299.5L330.8,1300.3L331.0,1300.5L333.0,1300.5L333.2,1300.2L333.4,1299.3L333.6,1297.2L333.7,1295.9L333.8,1294.4L333.8,1293.9L334.0,1293.0L334.2,1293.9L334.2,1294.4L334.3,1295.9L334.4,1297.2L334.6,1299.3L334.8,1300.2L335.0,1300.5L337.0,1300.4L337.2,1300.2L337.4,1299.2L337.6,1296.8L337.7,1295.3L337.8,1293.6L337.8,1293.0L338.0,1292.0L338.2,1293.0L338.2,1293.6L338.3,1295.3L338.4,1296.8L338.6,1299.2L338.8,1300.2L339.0,1300.4L341.6,1300.5L341.8,1300.4L342.0,1299.9L342.2,1298.5L342.4,1295.8L342.5,1293.5L342.6,1292.2L342.7,1290.4L342.8,1289.4L342.9,1289.0L343.0,1289.4L343.1,1290.4L343.2,1292.2L343.3,1293.5L343.4,1295.8L343.6,1298.5L343.8,1299.9L344.0,1300.3L344.2,1300.1L344.4,1298.9L344.6,1295.9L344.7,1294.1L344.8,1292.0L344.8,1291.2L345.0,1290.0L345.2,1291.2L345.2,1292.0L345.3,1294.1L345.4,1295.9L345.6,1298.9L345.8,1300.1L346.0,1300.4L346.2,1300.5L346.8,1300.5L347.0,1300.4L347.2,1299.9L347.4,1298.5L347.6,1295.9L347.6,1295.8L347.7,1293.9L347.8,1293.4L347.9,1293.0L348.0,1293.4L348.1,1293.9L348.2,1295.8L348.2,1296.0L348.4,1298.5L348.6,1299.9L348.8,1300.4L349.0,1300.5L350.0,1300.5L350.2,1300.3L350.4,1299.7L350.6,1298.1L350.7,1297.2L350.8,1296.0L350.8,1295.6L351.0,1295.0L351.2,1295.6L351.2,1296.0L351.3,1297.2L351.4,1298.1L351.6,1299.7L351.8,1300.3L352.0,1300.5L353.0,1300.5L353.2,1300.4L353.4,1300.0L353.6,1298.0L353.8,1291.5L354.0,1275.8L354.2,1249.6L354.2,1245.4L354.4,1221.9L354.4,1220.4L354.6,1209.7L354.8,1220.4L354.8,1221.9L355.0,1245.4L355.0,1249.6L355.2,1275.8L355.4,1291.5L355.6,1298.0L355.8,1300.0L356.0,1300.4L356.2,1300.5L356.6,1300.5L356.8,1300.4L357.0,1300.1L357.2,1298.9L357.4,1295.9L357.5,1294.1L357.6,1292.0L357.6,1291.2L357.8,1290.0L358.0,1291.2L358.0,1292.0L358.1,1294.1L358.2,1295.9L358.4,1298.9L358.6,1300.1L358.8,1300.4L359.0,1300.5L359.2,1300.2L359.4,1299.3L359.6,1297.2L359.7,1296.0L359.8,1294.4L359.8,1293.9L360.0,1293.0L360.2,1293.9L360.2,1294.4L360.3,1296.0L360.4,1297.2L360.6,1299.3L360.8,1300.2L361.0,1300.5L362.0,1300.5L362.2,1300.4L362.4,1300.2L362.6,1299.1L362.8,1296.0L363.0,1289.8L363.1,1284.5L363.2,1281.5L363.3,1277.3L363.4,1275.1L363.5,1274.2L363.6,1275.1L363.7,1277.3L363.8,1281.5L363.9,1284.5L364.0,1289.8L364.2,1296.0L364.4,1299.1L364.6,1300.2L364.8,1300.3L365.0,1299.8L365.2,1297.3L365.4,1289.9L365.6,1275.4L365.7,1270.2L365.8,1258.5L365.8,1256.5L366.0,1250.6L366.2,1256.5L366.2,1258.5L366.3,1270.2L366.4,1275.4L366.6,1289.9L366.8,1297.3L367.0,1299.8L367.2,1300.4L367.4,1300.5L367.6,1300.5L367.8,1300.4L368.0,1300.0L368.2,1298.1L368.4,1292.4L368.6,1281.3L368.7,1277.3L368.8,1268.3L368.8,1266.8L369.0,1262.3L369.2,1266.8L369.2,1268.3L369.3,1277.3L369.4,1281.3L369.6,1292.4L369.8,1298.1L370.0,1300.0L370.2,1300.4L370.4,1300.5L371.0,1300.5L371.2,1300.2L371.4,1299.3L371.6,1297.2L371.7,1296.0L371.8,1294.4L371.8,1293.9L372.0,1293.0L372.2,1293.9L372.2,1294.4L372.3,1296.0L372.4,1297.2L372.6,1299.3L372.8,1300.2L373.0,1300.5L375.0,1300.5L375.2,1300.3L375.4,1299.5L375.6,1297.7L375.7,1296.6L375.8,1295.2L375.8,1294.8L376.0,1294.0L376.2,1294.8L376.2,1295.2L376.3,1296.6L376.4,1297.7L376.6,1299.5L376.8,1300.3L377.0,1300.5L379.0,1300.5L379.2,1300.3L379.4,1299.5L379.6,1297.7L379.7,1296.6L379.8,1295.2L379.8,1294.8L380.0,1294.0L380.2,1294.8L380.2,1295.2L380.3,1296.6L380.4,1297.7L380.6,1299.5L380.8,1300.3L381.0,1300.5L384.2,1300.5L385.0,1300.5L385.2,1300.3L385.4,1299.3L385.6,1295.7L385.8,1287.1L386.0,1276.7L386.0,1273.9L386.1,1265.9L386.2,1263.0L386.3,1261.3L386.4,1263.0L386.5,1265.9L386.6,1273.9L386.6,1276.7L386.8,1287.1L387.0,1295.7L387.2,1299.3L387.4,1300.3L387.6,1300.5L388.0,1300.5L388.2,1300.3L388.4,1299.5L388.6,1297.7L388.7,1296.6L388.8,1295.2L388.8,1294.8L389.0,1294.0L389.2,1294.8L389.2,1295.2L389.3,1296.6L389.4,1297.7L389.6,1299.5L389.8,1300.3L390.0,1300.4L390.2,1300.3L390.4,1299.7L390.6,1298.1L390.7,1297.2L390.8,1296.0L390.8,1295.6L391.0,1295.0L391.2,1295.6L391.2,1296.0L391.3,1297.2L391.4,1298.1L391.6,1299.7L391.8,1300.3L392.0,1300.5L393.4,1300.5L393.6,1300.2L393.8,1299.2L394.0,1296.8L394.1,1295.3L394.2,1293.6L394.2,1293.0L394.4,1292.0L394.6,1293.0L394.6,1293.6L394.7,1295.3L394.8,1296.8L395.0,1299.2L395.2,1300.2L395.4,1300.5L397.0,1300.5L397.2,1300.3L397.4,1299.7L397.6,1298.1L397.7,1297.2L397.8,1296.0L397.8,1295.6L398.0,1295.0L398.2,1295.6L398.2,1296.0L398.3,1297.2L398.4,1298.1L398.6,1299.7L398.8,1300.3L399.0,1300.5L400.0,1300.5L400.2,1300.3L400.4,1299.5L400.6,1297.7L400.7,1296.6L400.8,1295.2L400.8,1294.7L401.0,1294.0L401.2,1294.7L401.2,1295.1L401.3,1296.4L401.4,1297.5L401.6,1299.1L401.8,1299.6L402.0,1299.3L402.2,1298.7L402.4,1297.8L402.6,1296.6L402.8,1295.4L403.0,1294.1L403.2,1293.0L403.4,1292.3L403.6,1292.0L403.8,1292.3L404.0,1293.0L404.2,1294.1L404.4,1295.4L404.6,1296.6L404.8,1297.8L405.0,1298.7L405.2,1299.4L405.4,1299.8L405.6,1300.2L405.8,1300.3L406.0,1300.4L406.2,1300.5L407.2,1300.5L407.4,1300.4L407.6,1300.1L407.8,1299.3L408.0,1297.6L408.1,1296.1L408.2,1295.3L408.3,1294.1L408.4,1293.6L408.5,1293.3L408.6,1293.6L408.7,1294.2L408.8,1295.3L408.9,1296.1L409.0,1297.6L409.2,1299.3L409.4,1300.1L409.6,1300.4L409.8,1300.5L411.0,1300.5L411.2,1300.4L411.4,1299.8L411.6,1298.6L411.7,1297.8L411.8,1296.9L411.8,1296.5L412.0,1296.0L412.2,1296.5L412.2,1296.9L412.3,1297.8L412.4,1298.6L412.6,1299.8L412.8,1300.4L413.0,1300.5L414.8,1300.5L415.0,1300.2L415.2,1299.0L415.4,1295.5L415.6,1288.6L415.7,1286.1L415.8,1280.5L415.8,1279.5L416.0,1276.7L416.2,1279.5L416.2,1280.5L416.3,1286.1L416.4,1288.6L416.6,1295.5L416.8,1299.0L417.0,1300.2L417.2,1300.5L417.6,1300.6L418.8,1300.5L419.0,1300.4L419.2,1300.1L419.4,1299.3L419.6,1298.0L419.6,1297.8L419.8,1296.6L419.8,1296.5L420.0,1296.0L420.2,1296.5L420.2,1296.6L420.4,1297.8L420.4,1298.0L420.6,1299.3L420.8,1300.1L421.0,1300.5L421.2,1300.6L422.8,1300.6L423.0,1300.5L423.2,1300.1L423.4,1299.3L423.6,1298.0L423.6,1297.8L423.8,1296.6L423.8,1296.5L424.0,1296.0L424.2,1296.5L424.2,1296.6L424.4,1297.8L424.4,1298.0L424.6,1299.3L424.8,1300.1L425.0,1300.5L425.2,1300.6L426.0,1300.5L426.2,1300.5L426.4,1300.4L426.6,1300.2L426.8,1299.9L427.0,1299.4L427.2,1298.8L427.4,1298.0L427.6,1297.2L427.8,1296.4L428.0,1295.7L428.2,1295.2L428.4,1295.0L428.6,1295.2L428.8,1295.7L429.0,1296.4L429.2,1297.2L429.4,1298.1L429.6,1298.8L429.8,1299.4L430.0,1299.9L430.2,1300.2L430.4,1300.4L430.6,1300.5L430.8,1300.6L431.0,1300.5L431.2,1300.2L431.4,1299.4L431.6,1298.0L431.6,1297.8L431.8,1296.6L431.8,1296.5L432.0,1296.0L432.2,1296.5L432.2,1296.6L432.4,1297.8L432.4,1298.1L432.6,1299.4L432.8,1300.2L433.0,1300.5L433.2,1300.7L435.2,1300.7L436.0,1300.7L436.2,1300.6L436.4,1300.1L436.6,1299.1L436.7,1298.5L436.8,1297.7L436.8,1297.4L437.0,1297.0L437.2,1297.4L437.2,1297.7L437.3,1298.5L437.4,1299.1L437.6,1300.2L437.8,1300.6L438.0,1300.7L439.0,1300.7L439.2,1300.6L439.4,1300.2L439.6,1299.1L439.7,1298.5L439.8,1297.7L439.8,1297.4L440.0,1297.0L440.2,1297.4L440.2,1297.7L440.3,1298.5L440.4,1299.1L440.6,1300.2L440.8,1300.7L441.0,1300.8L442.6,1300.8L442.8,1300.8L443.0,1300.8L443.2,1300.4L443.4,1298.9L443.6,1295.4L443.7,1293.2L443.8,1290.7L443.8,1289.8L444.0,1288.3L444.2,1289.8L444.2,1290.7L444.3,1293.2L444.4,1295.4L444.6,1298.9L444.8,1300.4L445.0,1300.8L445.2,1300.9L445.8,1300.9L446.0,1300.8L446.2,1300.4L446.4,1299.6L446.6,1298.2L446.6,1297.9L446.8,1296.7L446.8,1296.6L447.0,1296.0L447.2,1296.6L447.2,1296.7L447.4,1298.0L447.4,1298.2L447.6,1299.6L447.8,1300.5L448.0,1300.8L448.2,1300.9L449.0,1301.0L450.0,1301.0L450.2,1300.8L450.4,1300.3L450.6,1298.8L450.7,1298.0L450.8,1296.9L450.8,1296.6L451.0,1296.0L451.2,1296.6L451.2,1297.0L451.3,1298.0L451.4,1298.9L451.6,1300.3L451.8,1300.9L452.0,1301.1L452.8,1301.1L454.2,1301.2L455.4,1301.2L455.8,1301.2L456.0,1301.1L456.2,1300.5L456.4,1298.7L456.6,1295.6L456.6,1295.5L456.7,1293.1L456.8,1292.5L456.9,1292.0L457.0,1292.5L457.1,1293.1L457.2,1295.5L457.2,1295.7L457.4,1298.8L457.6,1300.6L457.8,1301.2L458.0,1301.3L458.8,1301.4L459.0,1301.3L459.2,1301.0L459.4,1300.2L459.6,1298.9L459.6,1298.7L459.8,1297.6L459.8,1297.5L460.0,1297.0L460.2,1297.5L460.2,1297.6L460.4,1298.8L460.4,1299.0L460.6,1300.3L460.8,1301.1L461.0,1301.4L461.2,1301.5L461.8,1301.6L462.6,1301.6L463.4,1301.7L463.8,1301.7L464.0,1301.6L464.2,1301.3L464.4,1300.7L464.6,1299.6L464.6,1299.5L464.8,1298.5L464.8,1298.4L465.0,1298.0L465.2,1298.5L465.2,1298.5L465.4,1299.5L465.4,1299.7L465.6,1300.8L465.8,1301.5L466.0,1301.7L466.2,1301.8L466.6,1301.9L467.4,1301.9L468.4,1301.9L468.6,1301.8L468.8,1301.7L469.0,1301.4L469.2,1301.0L469.4,1300.4L469.6,1299.7L469.8,1299.0L470.0,1298.2L470.2,1297.6L470.4,1297.1L470.6,1297.0L470.8,1297.2L471.0,1297.6L471.2,1298.3L471.4,1299.1L471.6,1299.9L471.8,1300.6L472.0,1301.2L472.2,1301.7L472.4,1302.0L472.6,1302.2L472.8,1302.3L473.0,1302.4L473.2,1302.4L473.6,1302.5L473.8,1302.5L474.0,1302.4L474.2,1302.2L474.4,1301.6L474.6,1300.6L474.6,1300.4L474.8,1299.5L474.8,1299.4L475.0,1299.0L475.2,1299.4L475.2,1299.5L475.4,1300.5L475.4,1300.6L475.6,1301.7L475.8,1302.4L476.0,1302.7L476.2,1302.8L476.6,1302.8L477.2,1302.8L477.4,1302.7L477.6,1302.6L477.8,1302.4L478.0,1302.1L478.2,1301.8L478.4,1301.4L478.5,1301.1L478.6,1300.9L478.8,1300.5L478.9,1300.3L479.0,1300.2L479.2,1300.0L479.4,1300.0L479.6,1300.2L479.7,1300.4L479.8,1300.6L480.0,1301.1L480.1,1301.3L480.2,1301.6L480.4,1302.0L480.6,1302.4L480.8,1302.8L481.0,1303.0L481.2,1303.2L481.4,1303.3L481.6,1303.4L481.8,1303.4L482.2,1303.5L482.6,1303.5L483.0,1303.6L483.4,1303.6L484.0,1303.7L484.2,1303.6L484.4,1303.3L484.6,1302.8L484.6,1302.7L484.8,1302.2L484.8,1302.2L485.0,1302.0L485.2,1302.2L485.2,1302.3L485.4,1302.8L485.4,1302.9L485.6,1303.4L485.8,1303.8L486.0,1303.9L486.2,1304.0L486.6,1304.0L487.0,1304.1L487.4,1304.2L487.8,1304.2L488.2,1304.3L488.6,1304.3L489.0,1304.4L489.4,1304.4L489.8,1304.5L490.2,1304.5L490.6,1304.6L491.0,1304.6L491.4,1304.7L491.8,1304.7L492.2,1304.8L492.6,1304.8L493.2,1304.9L493.8,1304.8L494.0,1304.8L494.2,1304.7L494.4,1304.5L494.6,1304.4L494.8,1304.2L495.0,1304.1L495.2,1304.0L495.4,1304.0L495.6,1304.1L495.8,1304.2L496.0,1304.4L496.2,1304.6L496.4,1304.8L496.6,1305.0L496.8,1305.1L497.0,1305.3L497.2,1305.3L497.4,1305.4L497.6,1305.5L498.0,1305.5L498.4,1305.6L498.8,1305.6L499.4,1305.7L500.0,1305.8L500.6,1305.9L501.2,1305.9L501.8,1306.0L502.4,1306.1L503.0,1306.1L503.6,1306.2L504.4,1306.2L504.6,1306.1L504.6,1306.1L504.8,1306.0L505.0,1306.0L505.2,1306.1L505.2,1306.1L505.4,1306.2L505.4,1306.2L505.6,1306.3L505.8,1306.4L506.2,1306.5L506.8,1306.5L507.4,1306.6L508.0,1306.6L508.6,1306.7L509.2,1306.8L509.8,1306.8L510.4,1306.9L511.0,1306.9L511.6,1307.0L512.4,1307.0L513.2,1307.1L514.0,1307.2L514.8,1307.2L515.6,1307.3L516.4,1307.3L517.2,1307.4L518.0,1307.4L519.0,1307.5L520.0,1307.5L521.0,1307.6L522.0,1307.7L523.2,1307.7L524.4,1307.7L524.6,1307.6L524.8,1307.5L525.0,1307.4L525.2,1307.2L525.4,1307.0L525.6,1306.7L525.8,1306.4L526.0,1306.2L526.2,1306.0L526.4,1306.0L526.6,1306.1L526.8,1306.2L527.0,1306.5L527.2,1306.8L527.4,1307.0L527.6,1307.3L527.8,1307.5L528.0,1307.7L528.2,1307.8L528.4,1307.8L528.8,1307.9L529.8,1308.0L531.4,1308.0L533.2,1308.1L535.2,1308.1L537.6,1308.2L540.0,1308.2L540.2,1308.1L540.4,1307.9L540.6,1307.5L540.6,1307.5L540.8,1307.2L540.8,1307.1L541.0,1307.0L541.2,1307.1L541.2,1307.2L541.4,1307.5L541.4,1307.6L541.6,1307.9L541.8,1308.1L542.0,1308.2L543.2,1308.3L546.4,1308.3L547.0,1308.3L547.2,1308.2L547.4,1308.1L547.6,1307.9L547.6,1307.8L547.8,1307.6L547.8,1307.6L548.0,1307.5L548.2,1307.6L548.2,1307.6L548.4,1307.8L548.4,1307.9L548.6,1308.1L548.8,1308.3L549.0,1308.3L552.2,1308.4L555.4,1308.4L558.6,1308.4L561.8,1308.4L562.2,1308.4L562.4,1308.4L562.6,1308.2L562.7,1308.2L562.8,1308.1L562.8,1308.1L563.0,1308.0L563.2,1308.1L563.2,1308.1L563.3,1308.2L563.4,1308.2L563.6,1308.4L563.8,1308.4L567.0,1308.5L570.2,1308.5L573.4,1308.5L576.6,1308.5L579.8,1308.5L583.0,1308.5L586.2,1308.5L586.4,1308.4L586.6,1308.3L586.7,1308.2L586.8,1308.1L586.8,1308.1L587.0,1308.0L587.2,1308.1L587.2,1308.1L587.3,1308.2L587.4,1308.3L587.6,1308.4L587.8,1308.5L591.0,1308.5L594.2,1308.5L597.4,1308.5L600.6,1308.5L603.8,1308.5L607.0,1308.5L610.2,1308.5L613.4,1308.5L616.6,1308.5L619.8,1308.5L623.0,1308.5L626.2,1308.5L629.4,1308.5L632.6,1308.5L635.8,1308.5L639.0,1308.5L642.2,1308.5L645.4,1308.5L648.6,1308.5L651.8,1308.5L655.0,1308.5L658.2,1308.5L661.4,1308.5L664.6,1308.5L667.8,1308.5L671.0,1308.5L674.2,1308.5L677.4,1308.5L680.2,1308.5" fill="none" stroke="#34ee34" stroke-width="1.00" stroke-linejoin="round" clip-path="url(#cp6)"/>
<g stroke="#333" stroke-width="0.9" fill="none">
<path d="M54.4,1177.90 V1310.90 M52,1310.90 H680.44"/>
<path d="M51.8,1310.90H54.4M52.8,1304.31H54.4M52.8,1297.72H54.4M52.8,1291.13H54.4M52.8,1284.54H54.4M51.8,1277.95H54.4M52.8,1271.36H54.4M52.8,1264.77H54.4M52.8,1258.18H54.4M52.8,1251.59H54.4M51.8,1245.00H54.4M52.8,1238.41H54.4M52.8,1231.82H54.4M52.8,1225.23H54.4M52.8,1218.64H54.4M51.8,1212.05H54.4M52.8,1205.46H54.4M52.8,1198.87H54.4M52.8,1192.28H54.4M52.8,1185.69H54.4M51.8,1179.10H54.4"/>
<path d="M57.11,1310.90V1314.10M66.40,1310.90V1314.10M75.70,1310.90V1317.40M85.00,1310.90V1314.10M94.29,1310.90V1314.10M103.59,1310.90V1314.10M112.88,1310.90V1314.10M122.18,1310.90V1317.40M131.48,1310.90V1314.10M140.77,1310.90V1314.10M150.07,1310.90V1314.10M159.36,1310.90V1314.10M168.66,1310.90V1317.40M177.96,1310.90V1314.10M187.25,1310.90V1314.10M196.55,1310.90V1314.10M205.84,1310.90V1314.10M215.14,1310.90V1317.40M224.44,1310.90V1314.10M233.73,1310.90V1314.10M243.03,1310.90V1314.10M252.32,1310.90V1314.10M261.62,1310.90V1317.40M270.92,1310.90V1314.10M280.21,1310.90V1314.10M289.51,1310.90V1314.10M298.80,1310.90V1314.10M308.10,1310.90V1317.40M317.40,1310.90V1314.10M326.69,1310.90V1314.10M335.99,1310.90V1314.10M345.28,1310.90V1314.10M354.58,1310.90V1317.40M363.88,1310.90V1314.10M373.17,1310.90V1314.10M382.47,1310.90V1314.10M391.76,1310.90V1314.10M401.06,1310.90V1317.40M410.36,1310.90V1314.10M419.65,1310.90V1314.10M428.95,1310.90V1314.10M438.24,1310.90V1314.10M447.54,1310.90V1317.40M456.84,1310.90V1314.10M466.13,1310.90V1314.10M475.43,1310.90V1314.10M484.72,1310.90V1314.10M494.02,1310.90V1317.40M503.32,1310.90V1314.10M512.61,1310.90V1314.10M521.91,1310.90V1314.10M531.20,1310.90V1314.10M540.50,1310.90V1317.40M549.80,1310.90V1314.10M559.09,1310.90V1314.10M568.39,1310.90V1314.10M577.68,1310.90V1314.10M586.98,1310.90V1317.40M596.28,1310.90V1314.10M605.57,1310.90V1314.10M614.87,1310.90V1314.10M624.16,1310.90V1314.10M633.46,1310.90V1317.40M642.76,1310.90V1314.10M652.05,1310.90V1314.10M661.35,1310.90V1314.10M670.64,1310.90V1314.10M679.94,1310.90V1317.40"/>
</g>
<text x="25.30" y="1313.80" font-size="8.20" text-anchor="start" font-weight="normal" fill="#222" textLength="19.20" lengthAdjust="spacingAndGlyphs" class="ax">0.0</text>
<text x="25.30" y="1280.85" font-size="8.20" text-anchor="start" font-weight="normal" fill="#222" textLength="19.20" lengthAdjust="spacingAndGlyphs" class="ax">1.0</text>
<text x="25.30" y="1247.90" font-size="8.20" text-anchor="start" font-weight="normal" fill="#222" textLength="19.20" lengthAdjust="spacingAndGlyphs" class="ax">2.0</text>
<text x="25.30" y="1214.95" font-size="8.20" text-anchor="start" font-weight="normal" fill="#222" textLength="19.20" lengthAdjust="spacingAndGlyphs" class="ax">3.0</text>
<text x="25.30" y="1182.00" font-size="8.20" text-anchor="start" font-weight="normal" fill="#222" textLength="19.20" lengthAdjust="spacingAndGlyphs" class="ax">4.0</text>
<text x="72.15" y="1328.90" font-size="8.80" text-anchor="start" font-weight="normal" fill="#222" textLength="7.70" lengthAdjust="spacingAndGlyphs" class="ax">4</text>
<text x="118.63" y="1328.90" font-size="8.80" text-anchor="start" font-weight="normal" fill="#222" textLength="7.70" lengthAdjust="spacingAndGlyphs" class="ax">6</text>
<text x="165.11" y="1328.90" font-size="8.80" text-anchor="start" font-weight="normal" fill="#222" textLength="7.70" lengthAdjust="spacingAndGlyphs" class="ax">8</text>
<text x="207.29" y="1328.90" font-size="8.80" text-anchor="start" font-weight="normal" fill="#222" textLength="11.70" lengthAdjust="spacingAndGlyphs" class="ax">10</text>
<text x="253.77" y="1328.90" font-size="8.80" text-anchor="start" font-weight="normal" fill="#222" textLength="11.70" lengthAdjust="spacingAndGlyphs" class="ax">12</text>
<text x="300.25" y="1328.90" font-size="8.80" text-anchor="start" font-weight="normal" fill="#222" textLength="11.70" lengthAdjust="spacingAndGlyphs" class="ax">14</text>
<text x="346.73" y="1328.90" font-size="8.80" text-anchor="start" font-weight="normal" fill="#222" textLength="11.70" lengthAdjust="spacingAndGlyphs" class="ax">16</text>
<text x="393.21" y="1328.90" font-size="8.80" text-anchor="start" font-weight="normal" fill="#222" textLength="11.70" lengthAdjust="spacingAndGlyphs" class="ax">18</text>
<text x="439.69" y="1328.90" font-size="8.80" text-anchor="start" font-weight="normal" fill="#222" textLength="11.70" lengthAdjust="spacingAndGlyphs" class="ax">20</text>
<text x="486.17" y="1328.90" font-size="8.80" text-anchor="start" font-weight="normal" fill="#222" textLength="11.70" lengthAdjust="spacingAndGlyphs" class="ax">22</text>
<text x="532.65" y="1328.90" font-size="8.80" text-anchor="start" font-weight="normal" fill="#222" textLength="11.70" lengthAdjust="spacingAndGlyphs" class="ax">24</text>
<text x="579.13" y="1328.90" font-size="8.80" text-anchor="start" font-weight="normal" fill="#222" textLength="11.70" lengthAdjust="spacingAndGlyphs" class="ax">26</text>
<text x="625.61" y="1328.90" font-size="8.80" text-anchor="start" font-weight="normal" fill="#222" textLength="11.70" lengthAdjust="spacingAndGlyphs" class="ax">28</text>
<text x="672.09" y="1328.90" font-size="8.80" text-anchor="start" font-weight="normal" fill="#222" textLength="11.70" lengthAdjust="spacingAndGlyphs" class="ax">30</text>
<text transform="translate(8.4,1241.90) rotate(-90)" x="0" y="0" font-size="8.9" text-anchor="middle" fill="#222" textLength="113" lengthAdjust="spacingAndGlyphs">Abundance (X10<tspan font-size="5.5" dy="-3">5</tspan><tspan dy="3">)</tspan></text>
<text x="649.50" y="1177.30" font-size="23.20" text-anchor="start" font-weight="bold" fill="#000">g</text>
<text x="73.40" y="1294.50" font-size="5.20" text-anchor="middle" font-weight="normal" fill="#333">2</text>
<text x="129.40" y="1304.10" font-size="5.20" text-anchor="middle" font-weight="normal" fill="#333">6</text>
<text x="135.80" y="1286.00" font-size="5.20" text-anchor="middle" font-weight="normal" fill="#333">7</text>
<text x="171.80" y="1304.10" font-size="5.20" text-anchor="middle" font-weight="normal" fill="#333">12</text>
<text x="186.60" y="1298.90" font-size="5.20" text-anchor="middle" font-weight="normal" fill="#333">13</text>
<text x="190.90" y="1300.30" font-size="5.20" text-anchor="middle" font-weight="normal" fill="#333">16</text>
<text x="195.10" y="1202.50" font-size="5.20" text-anchor="middle" font-weight="bold" fill="#111">19</text>
<text x="211.20" y="1302.10" font-size="5.20" text-anchor="middle" font-weight="normal" fill="#333">22</text>
<text x="221.30" y="1260.30" font-size="5.20" text-anchor="middle" font-weight="normal" fill="#333">30</text>
<text x="224.60" y="1274.30" font-size="5.20" text-anchor="middle" font-weight="normal" fill="#333">24</text>
<text x="234.20" y="1212.10" font-size="5.20" text-anchor="middle" font-weight="bold" fill="#111">27</text>
<text x="237.40" y="1200.40" font-size="5.20" text-anchor="middle" font-weight="bold" fill="#111">30</text>
<text x="240.90" y="1255.70" font-size="5.20" text-anchor="middle" font-weight="bold" fill="#111">32</text>
<text x="235.70" y="1274.90" font-size="5.20" text-anchor="middle" font-weight="bold" fill="#111">29</text>
<text x="239.20" y="1169.40" font-size="5.20" text-anchor="middle" font-weight="bold" fill="#111">33</text>
<text x="247.60" y="1170.60" font-size="5.20" text-anchor="middle" font-weight="bold" fill="#111">35</text>
<text x="255.30" y="1188.00" font-size="5.20" text-anchor="middle" font-weight="bold" fill="#111">37</text>
<text x="259.20" y="1291.00" font-size="5.20" text-anchor="middle" font-weight="normal" fill="#333">38</text>
<text x="263.50" y="1286.80" font-size="5.20" text-anchor="middle" font-weight="normal" fill="#333">40</text>
<text x="267.00" y="1273.60" font-size="5.20" text-anchor="middle" font-weight="bold" fill="#111">41</text>
<text x="270.40" y="1250.80" font-size="5.20" text-anchor="middle" font-weight="bold" fill="#111">42</text>
<text x="275.50" y="1269.90" font-size="5.20" text-anchor="middle" font-weight="normal" fill="#333">43</text>
<text x="278.90" y="1175.10" font-size="5.20" text-anchor="middle" font-weight="bold" fill="#111">45</text>
<text x="281.90" y="1180.50" font-size="5.20" text-anchor="middle" font-weight="bold" fill="#111">47</text>
<text x="286.60" y="1174.30" font-size="5.20" text-anchor="middle" font-weight="bold" fill="#111">49</text>
<text x="292.50" y="1275.60" font-size="5.20" text-anchor="middle" font-weight="normal" fill="#333">51</text>
<text x="298.00" y="1281.00" font-size="5.20" text-anchor="middle" font-weight="normal" fill="#333">52</text>
<text x="307.70" y="1226.00" font-size="5.20" text-anchor="middle" font-weight="bold" fill="#111">53</text>
<text x="311.40" y="1276.60" font-size="5.20" text-anchor="middle" font-weight="normal" fill="#333">55</text>
<text x="320.10" y="1176.30" font-size="5.20" text-anchor="middle" font-weight="bold" fill="#111">57</text>
<text x="325.50" y="1197.90" font-size="5.20" text-anchor="middle" font-weight="bold" fill="#111">58</text>
<text x="330.20" y="1279.80" font-size="5.20" text-anchor="middle" font-weight="normal" fill="#333">59</text>
<text x="331.70" y="1294.70" font-size="5.20" text-anchor="middle" font-weight="bold" fill="#111">60</text>
<text x="341.70" y="1286.50" font-size="5.20" text-anchor="middle" font-weight="normal" fill="#333">61</text>
<text x="349.50" y="1289.70" font-size="5.20" text-anchor="middle" font-weight="normal" fill="#333">62</text>
<text x="354.60" y="1207.10" font-size="5.20" text-anchor="middle" font-weight="bold" fill="#111">63</text>
<text x="357.80" y="1286.50" font-size="5.20" text-anchor="middle" font-weight="normal" fill="#333">64</text>
<text x="386.20" y="1259.90" font-size="5.20" text-anchor="middle" font-weight="bold" fill="#111">67</text>
<text x="390.40" y="1289.50" font-size="5.20" text-anchor="middle" font-weight="normal" fill="#333">68</text>
<text x="395.40" y="1284.50" font-size="5.20" text-anchor="middle" font-weight="normal" fill="#333">70</text>
<text x="403.60" y="1281.00" font-size="5.20" text-anchor="middle" font-weight="bold" fill="#111">72</text>
<text x="408.50" y="1292.70" font-size="5.20" text-anchor="middle" font-weight="normal" fill="#333">73</text>
<text x="416.70" y="1276.10" font-size="5.20" text-anchor="middle" font-weight="bold" fill="#111">75</text>
<text x="425.00" y="1293.90" font-size="5.20" text-anchor="middle" font-weight="bold" fill="#111">76</text>
<text x="430.70" y="1286.00" font-size="5.20" text-anchor="middle" font-weight="normal" fill="#333">77</text>
<text x="435.60" y="1295.90" font-size="5.20" text-anchor="middle" font-weight="normal" fill="#333">78</text>
<text x="439.00" y="1282.80" font-size="5.20" text-anchor="middle" font-weight="normal" fill="#333">79</text>
<text x="444.50" y="1287.70" font-size="5.20" text-anchor="middle" font-weight="normal" fill="#333">80</text>
<text x="447.70" y="1295.90" font-size="5.20" text-anchor="middle" font-weight="bold" fill="#111">81</text>
<text x="451.50" y="1287.70" font-size="5.20" text-anchor="middle" font-weight="normal" fill="#333">82</text>
<text x="457.80" y="1291.00" font-size="5.20" text-anchor="middle" font-weight="bold" fill="#111">84</text>
<text x="469.30" y="1297.20" font-size="5.20" text-anchor="middle" font-weight="normal" fill="#333">85</text>
<text x="475.60" y="1291.00" font-size="5.20" text-anchor="middle" font-weight="normal" fill="#333">86</text>
<text x="484.30" y="1293.90" font-size="5.20" text-anchor="middle" font-weight="normal" fill="#333">87</text>
<text x="495.70" y="1303.90" font-size="5.20" text-anchor="middle" font-weight="normal" fill="#333">88</text>
<text x="519.50" y="1305.90" font-size="5.20" text-anchor="middle" font-weight="normal" fill="#333">90</text>
<text x="540.60" y="1304.90" font-size="5.20" text-anchor="middle" font-weight="normal" fill="#333">91</text>
<text x="548.80" y="1306.90" font-size="5.20" text-anchor="middle" font-weight="normal" fill="#333">92</text>
<text x="564.30" y="1306.90" font-size="5.20" text-anchor="middle" font-weight="normal" fill="#333">93</text>
<text x="587.30" y="1306.90" font-size="5.20" text-anchor="middle" font-weight="normal" fill="#333">94</text>
<path d="M240.00,1169.80 L242.20,1175.50" stroke="#222" stroke-width="0.6" marker-end="url(#ahs)"/>
<path d="M246.80,1171.00 L244.80,1175.50" stroke="#222" stroke-width="0.6" marker-end="url(#ahs)"/>
<path d="M282.30,1181.00 L284.00,1188.50" stroke="#222" stroke-width="0.6" marker-end="url(#ahs)"/>
<path d="M240.60,1256.30 L240.20,1268.50" stroke="#222" stroke-width="0.6" marker-end="url(#ahs)"/>
<path d="M235.80,1275.50 L236.00,1289.00" stroke="#222" stroke-width="0.6" marker-end="url(#ahs)"/>
<path d="M274.80,1270.50 L272.60,1276.00" stroke="#222" stroke-width="0.6" marker-end="url(#ahs)"/>
<path d="M292.30,1276.20 L291.00,1286.00" stroke="#222" stroke-width="0.6" marker-end="url(#ahs)"/>
<path d="M297.50,1281.50 L293.50,1288.00" stroke="#222" stroke-width="0.6" marker-end="url(#ahs)"/>
<path d="M329.50,1280.30 L326.80,1289.00" stroke="#222" stroke-width="0.6" marker-end="url(#ahs)"/>
<path d="M390.40,1289.80 L390.20,1294.50" stroke="#222" stroke-width="0.6" marker-end="url(#ahs)"/>
<path d="M395.20,1284.80 L394.40,1291.50" stroke="#222" stroke-width="0.6" marker-end="url(#ahs)"/>
<path d="M403.60,1281.50 L403.60,1290.50" stroke="#222" stroke-width="0.6" marker-end="url(#ahs)"/>
<path d="M430.50,1286.50 L428.80,1294.00" stroke="#222" stroke-width="0.6" marker-end="url(#ahs)"/>
<path d="M439.00,1283.30 L441.00,1296.00" stroke="#222" stroke-width="0.6" marker-end="url(#ahs)"/>
<path d="M451.50,1288.20 L453.00,1295.00" stroke="#222" stroke-width="0.6" marker-end="url(#ahs)"/>
<path d="M475.60,1291.50 L478.00,1299.00" stroke="#222" stroke-width="0.6" marker-end="url(#ahs)"/>
<path d="M484.00,1294.50 L481.50,1300.00" stroke="#222" stroke-width="0.6" marker-end="url(#ahs)"/>
<g transform="translate(4.20,190.50)">
<clipPath id="zc2"><path d="M620.4,1002.2 L622.4,1004 L624.5,1000.1 L625.1,1003 C626,1004.5 627,1006 628,1007.7 C630,1009.8 632,1012 633.9,1014.1 C635.4,1014.3 637,1014.5 638.5,1014.7 C641.2,1014.5 644,1014.3 646.7,1014.1 C649,1014.3 651.4,1014.5 653.7,1014.7 C655.1,1015.8 656.5,1017 657.8,1018.2 C658.3,1020.5 658.7,1022.9 659,1025.2 C658.6,1028 658,1030.7 657.2,1033.4 L653.7,1040.4 L654.9,1050.3 L649,1049.7 L649,1038.1 L646.7,1033.4 C644.6,1033.6 642.5,1033.7 640.3,1035.7 L641.5,1050.3 L638,1050.3 L636.2,1040.4 L635,1033.4 L631.5,1035.7 L632.7,1050.3 L628,1050.3 L628.6,1047.4 L626.9,1033.4 C626.3,1032.2 625.7,1031 625.1,1029.9 C624.7,1028.3 624.3,1026.8 623.9,1025.2 C623.5,1023.3 623.2,1021.3 622.8,1019.4 C621,1019 619.2,1018.6 617.5,1018.2 C616,1018.4 614.4,1018.6 612.8,1018.8 C612,1017.8 611.2,1016.9 610.5,1015.9 C611.3,1014.7 612,1013.6 612.8,1012.4 C614.4,1010.4 616,1008.5 617.5,1006.5 C618.5,1005 619.4,1003.6 620.4,1002.2 Z"/></clipPath>
<path d="M620.4,1002.2 L622.4,1004 L624.5,1000.1 L625.1,1003 C626,1004.5 627,1006 628,1007.7 C630,1009.8 632,1012 633.9,1014.1 C635.4,1014.3 637,1014.5 638.5,1014.7 C641.2,1014.5 644,1014.3 646.7,1014.1 C649,1014.3 651.4,1014.5 653.7,1014.7 C655.1,1015.8 656.5,1017 657.8,1018.2 C658.3,1020.5 658.7,1022.9 659,1025.2 C658.6,1028 658,1030.7 657.2,1033.4 L653.7,1040.4 L654.9,1050.3 L649,1049.7 L649,1038.1 L646.7,1033.4 C644.6,1033.6 642.5,1033.7 640.3,1035.7 L641.5,1050.3 L638,1050.3 L636.2,1040.4 L635,1033.4 L631.5,1035.7 L632.7,1050.3 L628,1050.3 L628.6,1047.4 L626.9,1033.4 C626.3,1032.2 625.7,1031 625.1,1029.9 C624.7,1028.3 624.3,1026.8 623.9,1025.2 C623.5,1023.3 623.2,1021.3 622.8,1019.4 C621,1019 619.2,1018.6 617.5,1018.2 C616,1018.4 614.4,1018.6 612.8,1018.8 C612,1017.8 611.2,1016.9 610.5,1015.9 C611.3,1014.7 612,1013.6 612.8,1012.4 C614.4,1010.4 616,1008.5 617.5,1006.5 C618.5,1005 619.4,1003.6 620.4,1002.2 Z" fill="#d6d6d6" stroke="#333" stroke-width="0.5"/>
<g clip-path="url(#zc2)" stroke="#161616" fill="none">
<path d="M613,1009.5 L627,1005 M612,1013.5 L629,1008.5 M613,1017.5 L631,1012 M620,1020.5 L633,1016 M623,1023.5 L635,1019 M623.5,1027 L637,1022 M624.5,1030.5 L639,1025.5 M625,1034 L641,1029" stroke-width="1.6"/>
<path d="M637.5,1013 L636.5,1034 M641,1013 L640,1034 M644.3,1013 L643.8,1034 M647.6,1013 L647.3,1034 M651,1013.5 L651.2,1034 M654.3,1015 L654.8,1034 M657.5,1016.5 L658.4,1030" stroke-width="1.7"/>
<path d="M626,1037 L633,1037 M626,1040.5 L633,1040.5 M626,1044 L633,1044 M634,1038.5 L642,1038.5 M634,1042 L642,1042 M634,1045.5 L642,1045.5 M648,1037 L656,1037 M648,1040.5 L656,1040.5 M648,1044 L656,1044" stroke-width="1.2"/>
</g>
<ellipse cx="612.2" cy="1016.3" rx="2.1" ry="1.9" fill="#111"/>
<path d="M628,1048.6 L632.7,1048.6 L632.7,1050.5 L628,1050.5 Z M637.8,1048.6 L641.5,1048.6 L641.5,1050.5 L637.8,1050.5 Z M649,1048.6 L654.9,1048.6 L654.9,1050.5 L649,1050.5 Z" fill="#111"/>
<path d="M656.3,1028.7 C657,1032 657.4,1036 657.2,1039.8" stroke="#111" stroke-width="1.7" fill="none"/>
<path d="M619.8,1001.5 L622.4,1004.2 L619.4,1005.2 Z" fill="#1a1a1a"/>
</g>
<text x="276.80" y="1371.80" font-size="8.80" text-anchor="start" font-weight="normal" fill="#222" textLength="126.50" lengthAdjust="spacingAndGlyphs">Retention time (min)</text>
<polyline points="214.30,25.50 223.50,19.80 232.70,25.50 241.90,20.40 250.70,25.50 259.30,20.40 268.50,25.50" fill="none" stroke="#444" stroke-width="0.75" stroke-linejoin="round"/>
<polyline points="223.50,19.80 223.50,11.20" fill="none" stroke="#444" stroke-width="0.75" stroke-linejoin="round"/>
<polyline points="224.49,19.23 232.77,24.36" fill="none" stroke="#444" stroke-width="0.70" stroke-linejoin="round"/>
<polyline points="259.30,20.40 259.30,12.60" fill="none" stroke="#444" stroke-width="0.75" stroke-linejoin="round"/>
<polyline points="260.20,20.40 260.20,12.60" fill="none" stroke="#444" stroke-width="0.70" stroke-linejoin="round"/>
<text x="259.1" y="12.0" font-size="5.2" text-anchor="middle" fill="#444">O</text>
<path d="M243.3,29.6 V54.8" stroke="#222" stroke-width="0.6" marker-end="url(#ah)"/>
<polyline points="298.10,29.60 303.20,21.00 314.40,21.00" fill="none" stroke="#444" stroke-width="0.75" stroke-linejoin="round"/>
<polyline points="303.20,21.00 299.40,15.40" fill="none" stroke="#444" stroke-width="0.75" stroke-linejoin="round"/>
<polyline points="303.94,20.49 300.14,14.89" fill="none" stroke="#444" stroke-width="0.70" stroke-linejoin="round"/>
<text x="297.6" y="14.7" font-size="5.2" text-anchor="middle" fill="#444">O</text>
<polyline points="314.40,21.00 318.90,13.30 329.80,13.30 334.50,21.00 329.80,29.60 318.90,29.60 314.40,21.00" fill="none" stroke="#444" stroke-width="0.75" stroke-linejoin="round"/>
<polyline points="320.85,14.60 327.83,14.60" fill="none" stroke="#444" stroke-width="0.70" stroke-linejoin="round"/>
<polyline points="332.50,21.96 329.49,27.46" fill="none" stroke="#444" stroke-width="0.70" stroke-linejoin="round"/>
<polyline points="319.24,27.45 316.36,21.95" fill="none" stroke="#444" stroke-width="0.70" stroke-linejoin="round"/>
<path d="M311,32.7 L278.3,62.8" stroke="#222" stroke-width="0.6" marker-end="url(#ah)"/>
<polyline points="367.20,17.70 376.00,13.10 385.20,18.00 385.20,27.60 394.40,31.80 403.40,26.90 412.60,31.80 421.60,26.90 421.60,17.80 430.60,13.10 439.80,17.70" fill="none" stroke="#444" stroke-width="0.75" stroke-linejoin="round"/>
<polyline points="376.00,13.10 376.00,3.30" fill="none" stroke="#444" stroke-width="0.75" stroke-linejoin="round"/>
<polyline points="403.40,26.90 403.40,18.10" fill="none" stroke="#444" stroke-width="0.75" stroke-linejoin="round"/>
<polyline points="376.93,12.46 385.21,16.87" fill="none" stroke="#444" stroke-width="0.70" stroke-linejoin="round"/>
<polyline points="404.33,26.26 412.61,30.67" fill="none" stroke="#444" stroke-width="0.70" stroke-linejoin="round"/>
<polyline points="430.60,13.10 430.30,5.00" fill="none" stroke="#444" stroke-width="0.75" stroke-linejoin="round"/>
<polyline points="429.70,13.13 429.40,5.03" fill="none" stroke="#444" stroke-width="0.70" stroke-linejoin="round"/>
<text x="430.1" y="4.7" font-size="5.2" text-anchor="middle" fill="#444">O</text>
<path d="M404.3,39.4 V180.5" stroke="#222" stroke-width="0.6" marker-end="url(#ah)"/>
</svg></body></html>
